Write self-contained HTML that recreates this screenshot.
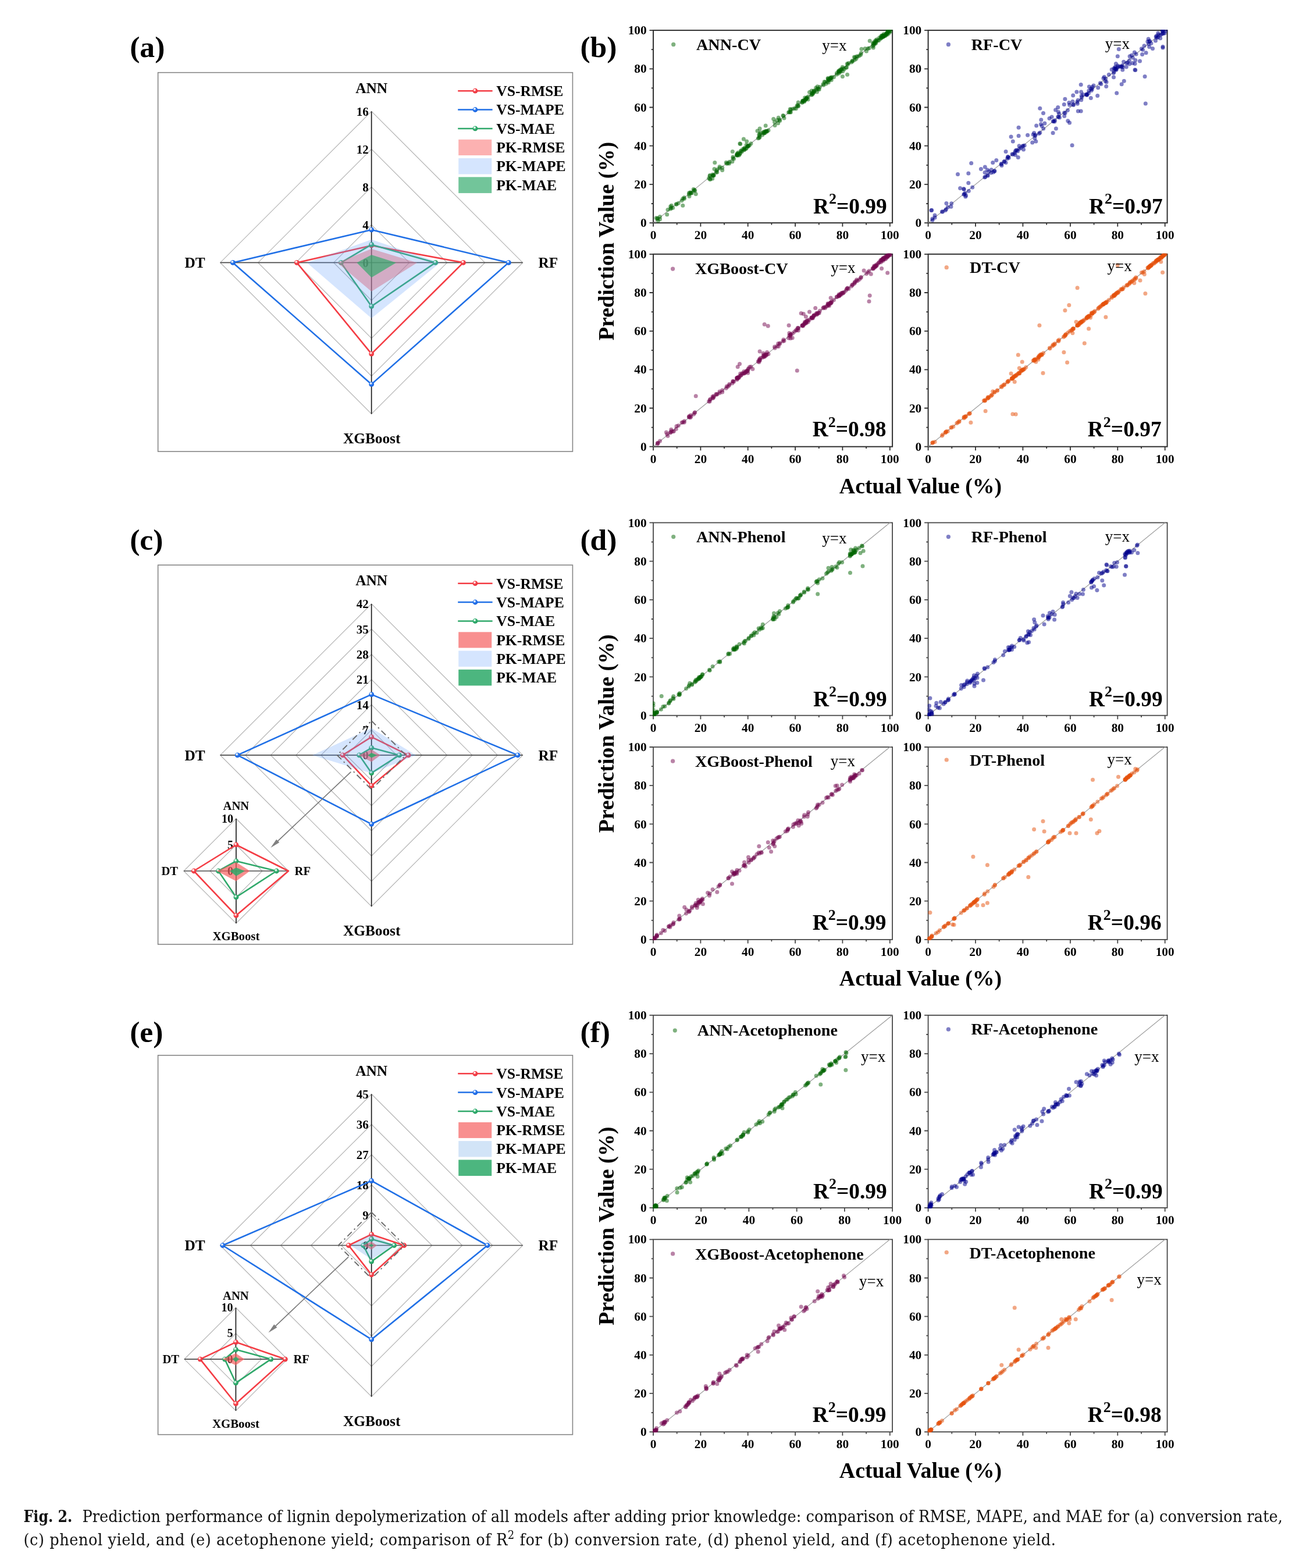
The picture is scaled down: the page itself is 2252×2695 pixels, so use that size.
<!DOCTYPE html>
<html lang="en"><head><meta charset="utf-8"><title>Fig. 2</title>
<style>html,body{margin:0;padding:0;background:#fff}svg{display:block}text{font-family:"Liberation Serif",serif;fill:#000}.cap{font-family:"DejaVu Serif Condensed","DejaVu Serif","Liberation Serif",serif;fill:#111}</style>
</head><body>
<svg width="2252" height="2695" viewBox="0 0 2252 2695">
<defs>
<radialGradient id="gred" cx="0.4" cy="0.36" r="0.62" fx="0.38" fy="0.33"><stop offset="0" stop-color="#ffffff"/><stop offset="0.18" stop-color="#ffffff" stop-opacity="0.85"/><stop offset="0.46" stop-color="#f6444c"/><stop offset="1" stop-color="#ea3640"/></radialGradient>
<radialGradient id="gblue" cx="0.4" cy="0.36" r="0.62" fx="0.38" fy="0.33"><stop offset="0" stop-color="#ffffff"/><stop offset="0.18" stop-color="#ffffff" stop-opacity="0.85"/><stop offset="0.46" stop-color="#2a78ee"/><stop offset="1" stop-color="#1762de"/></radialGradient>
<radialGradient id="ggreen" cx="0.4" cy="0.36" r="0.62" fx="0.38" fy="0.33"><stop offset="0" stop-color="#ffffff"/><stop offset="0.18" stop-color="#ffffff" stop-opacity="0.85"/><stop offset="0.46" stop-color="#36b274"/><stop offset="1" stop-color="#249c5e"/></radialGradient>
</defs>
<rect width="2252" height="2695" fill="#fff"/>
<rect x="271.6" y="124.7" width="712.8" height="651.3" fill="#fff" stroke="#858585" stroke-width="1.6"/>
<polygon points="638.6,386.4 703.6,451.4 638.6,516.4 573.6,451.4" fill="none" stroke="#b2b2b2" stroke-width="1.2"/>
<polygon points="638.6,321.4 768.6,451.4 638.6,581.4 508.6,451.4" fill="none" stroke="#b2b2b2" stroke-width="1.2"/>
<polygon points="638.6,256.4 833.6,451.4 638.6,646.4 443.6,451.4" fill="none" stroke="#b2b2b2" stroke-width="1.2"/>
<polygon points="638.6,191.4 898.6,451.4 638.6,711.4 378.6,451.4" fill="none" stroke="#b2b2b2" stroke-width="1.2"/>
<line x1="378.6" y1="451.4" x2="898.6" y2="451.4" stroke="#4a4a4a" stroke-width="1.6"/>
<line x1="638.6" y1="191.4" x2="638.6" y2="711.4" stroke="#111" stroke-width="1.6"/>
<text x="633.6" y="458.9" font-size="20.8" font-weight="bold" text-anchor="end">0</text>
<text x="633.6" y="393.9" font-size="20.8" font-weight="bold" text-anchor="end">4</text>
<text x="633.6" y="328.9" font-size="20.8" font-weight="bold" text-anchor="end">8</text>
<text x="633.6" y="263.9" font-size="20.8" font-weight="bold" text-anchor="end">12</text>
<text x="633.6" y="198.9" font-size="20.8" font-weight="bold" text-anchor="end">16</text>
<polygon points="638.6,422 796.4,451.4 638.6,608.1 510.3,451.4" fill="none" stroke="#f43c44" stroke-width="2.6" stroke-linejoin="round"/>
<circle cx="638.6" cy="422" r="4.4" fill="url(#gred)"/>
<circle cx="796.4" cy="451.4" r="4.4" fill="url(#gred)"/>
<circle cx="638.6" cy="608.1" r="4.4" fill="url(#gred)"/>
<circle cx="510.3" cy="451.4" r="4.4" fill="url(#gred)"/>
<polygon points="638.6,394.9 874.3,451.4 638.6,660.4 400.3,451.4" fill="none" stroke="#1f6fe6" stroke-width="2.6" stroke-linejoin="round"/>
<circle cx="638.6" cy="394.9" r="4.4" fill="url(#gblue)"/>
<circle cx="874.3" cy="451.4" r="4.4" fill="url(#gblue)"/>
<circle cx="638.6" cy="660.4" r="4.4" fill="url(#gblue)"/>
<circle cx="400.3" cy="451.4" r="4.4" fill="url(#gblue)"/>
<polygon points="638.6,420.4 748.6,451.4 638.6,526.4 586.3,451.4" fill="none" stroke="#2fa86a" stroke-width="2.6" stroke-linejoin="round"/>
<circle cx="638.6" cy="420.4" r="4.4" fill="url(#ggreen)"/>
<circle cx="748.6" cy="451.4" r="4.4" fill="url(#ggreen)"/>
<circle cx="638.6" cy="526.4" r="4.4" fill="url(#ggreen)"/>
<circle cx="586.3" cy="451.4" r="4.4" fill="url(#ggreen)"/>
<polygon points="638.6,427.8 717.1,451.4 638.6,500.9 579.9,451.4" fill="#fa6464" fill-opacity="0.5"/>
<polygon points="638.6,411.8 756.6,451.4 638.6,547.1 527.6,451.4" fill="#64a0fa" fill-opacity="0.27"/>
<polygon points="638.6,438 681,451.4 638.6,476.9 613.4,451.4" fill="#2faa6a" fill-opacity="0.68"/>
<text x="638.6" y="159.8" font-size="25.3" font-weight="bold" text-anchor="middle">ANN</text>
<text x="639.2" y="761.8" font-size="25.3" font-weight="bold" text-anchor="middle">XGBoost</text>
<text x="317.4" y="460.3" font-size="25.3" font-weight="bold" text-anchor="start">DT</text>
<text x="925.6" y="460.3" font-size="25.3" font-weight="bold" text-anchor="start">RF</text>
<text x="223.2" y="98.2" font-size="51.6" font-weight="bold" text-anchor="start">(a)</text>
<line x1="787.2" y1="156.2" x2="846.6" y2="156.2" stroke="#f43c44" stroke-width="2.5"/>
<circle cx="816.9" cy="156.2" r="4.4" fill="url(#gred)"/>
<text x="853.2" y="165.1" font-size="25.6" font-weight="bold" text-anchor="start">VS-RMSE</text>
<line x1="787.2" y1="188.5" x2="846.6" y2="188.5" stroke="#1f6fe6" stroke-width="2.5"/>
<circle cx="816.9" cy="188.5" r="4.4" fill="url(#gblue)"/>
<text x="853.2" y="197.4" font-size="25.6" font-weight="bold" text-anchor="start">VS-MAPE</text>
<line x1="787.2" y1="220.9" x2="846.6" y2="220.9" stroke="#2fa86a" stroke-width="2.5"/>
<circle cx="816.9" cy="220.9" r="4.4" fill="url(#ggreen)"/>
<text x="853.2" y="229.8" font-size="25.6" font-weight="bold" text-anchor="start">VS-MAE</text>
<rect x="788.2" y="239.8" width="57" height="27.2" fill="#fa6464" fill-opacity="0.5"/>
<text x="853.2" y="262" font-size="25.6" font-weight="bold" text-anchor="start">PK-RMSE</text>
<rect x="788.2" y="272" width="57" height="27.4" fill="#64a0fa" fill-opacity="0.27"/>
<text x="853.2" y="294.3" font-size="25.6" font-weight="bold" text-anchor="start">PK-MAPE</text>
<rect x="788.2" y="304.3" width="57" height="27.6" fill="#2faa6a" fill-opacity="0.68"/>
<text x="853.2" y="326.7" font-size="25.6" font-weight="bold" text-anchor="start">PK-MAE</text>
<rect x="271.6" y="971.2" width="712.8" height="651.9" fill="#fff" stroke="#858585" stroke-width="1.6"/>
<polygon points="638.6,1254.6 681.9,1297.9 638.6,1341.2 595.3,1297.9" fill="none" stroke="#b2b2b2" stroke-width="1.2"/>
<polygon points="638.6,1211.2 725.3,1297.9 638.6,1384.6 551.9,1297.9" fill="none" stroke="#b2b2b2" stroke-width="1.2"/>
<polygon points="638.6,1167.9 768.6,1297.9 638.6,1427.9 508.6,1297.9" fill="none" stroke="#b2b2b2" stroke-width="1.2"/>
<polygon points="638.6,1124.6 811.9,1297.9 638.6,1471.2 465.3,1297.9" fill="none" stroke="#b2b2b2" stroke-width="1.2"/>
<polygon points="638.6,1081.2 855.3,1297.9 638.6,1514.6 421.9,1297.9" fill="none" stroke="#b2b2b2" stroke-width="1.2"/>
<polygon points="638.6,1037.9 898.6,1297.9 638.6,1557.9 378.6,1297.9" fill="none" stroke="#b2b2b2" stroke-width="1.2"/>
<line x1="378.6" y1="1297.9" x2="898.6" y2="1297.9" stroke="#4a4a4a" stroke-width="1.6"/>
<line x1="638.6" y1="1037.9" x2="638.6" y2="1557.9" stroke="#111" stroke-width="1.6"/>
<text x="633.6" y="1305.4" font-size="20.8" font-weight="bold" text-anchor="end">0</text>
<text x="633.6" y="1262.1" font-size="20.8" font-weight="bold" text-anchor="end">7</text>
<text x="633.6" y="1218.7" font-size="20.8" font-weight="bold" text-anchor="end">14</text>
<text x="633.6" y="1175.4" font-size="20.8" font-weight="bold" text-anchor="end">21</text>
<text x="633.6" y="1132.1" font-size="20.8" font-weight="bold" text-anchor="end">28</text>
<text x="633.6" y="1088.7" font-size="20.8" font-weight="bold" text-anchor="end">35</text>
<text x="633.6" y="1045.4" font-size="20.8" font-weight="bold" text-anchor="end">42</text>
<polygon points="638.6,1266.6 702,1297.9 638.6,1350.5 589.2,1297.9" fill="none" stroke="#f43c44" stroke-width="2.6" stroke-linejoin="round"/>
<circle cx="638.6" cy="1266.6" r="4.4" fill="url(#gred)"/>
<circle cx="702" cy="1297.9" r="4.4" fill="url(#gred)"/>
<circle cx="638.6" cy="1350.5" r="4.4" fill="url(#gred)"/>
<circle cx="589.2" cy="1297.9" r="4.4" fill="url(#gred)"/>
<polygon points="638.6,1193.6 890,1297.9 638.6,1416.3 408.2,1297.9" fill="none" stroke="#1f6fe6" stroke-width="2.6" stroke-linejoin="round"/>
<circle cx="638.6" cy="1193.6" r="4.4" fill="url(#gblue)"/>
<circle cx="890" cy="1297.9" r="4.4" fill="url(#gblue)"/>
<circle cx="638.6" cy="1416.3" r="4.4" fill="url(#gblue)"/>
<circle cx="408.2" cy="1297.9" r="4.4" fill="url(#gblue)"/>
<polygon points="638.6,1285.3 686.5,1297.9 638.6,1328.6 617.6,1297.9" fill="none" stroke="#2fa86a" stroke-width="2.6" stroke-linejoin="round"/>
<circle cx="638.6" cy="1285.3" r="4.4" fill="url(#ggreen)"/>
<circle cx="686.5" cy="1297.9" r="4.4" fill="url(#ggreen)"/>
<circle cx="638.6" cy="1328.6" r="4.4" fill="url(#ggreen)"/>
<circle cx="617.6" cy="1297.9" r="4.4" fill="url(#ggreen)"/>
<polygon points="638.6,1288.1 654.1,1297.9 638.6,1309.5 616.7,1297.9" fill="#f56060" fill-opacity="0.7"/>
<polygon points="638.6,1251.6 715.2,1297.9 638.6,1328.9 536.8,1297.9" fill="#64a0fa" fill-opacity="0.27"/>
<polygon points="638.6,1293.9 648.2,1297.9 638.6,1302.6 632.2,1297.9" fill="#2faa6a" fill-opacity="0.86"/>
<polygon points="638.6,1238.9 697.6,1297.9 638.6,1356.9 579.6,1297.9" fill="none" stroke="#6a6a6a" stroke-width="1.9" stroke-dasharray="10.5 5.5 2.5 5.5"/>
<text x="638.6" y="1006.3" font-size="25.3" font-weight="bold" text-anchor="middle">ANN</text>
<text x="639.2" y="1608.3" font-size="25.3" font-weight="bold" text-anchor="middle">XGBoost</text>
<text x="317.4" y="1306.8" font-size="25.3" font-weight="bold" text-anchor="start">DT</text>
<text x="925.6" y="1306.8" font-size="25.3" font-weight="bold" text-anchor="start">RF</text>
<text x="223.2" y="944.8" font-size="51.6" font-weight="bold" text-anchor="start">(c)</text>
<line x1="787.2" y1="1002.7" x2="846.6" y2="1002.7" stroke="#f43c44" stroke-width="2.5"/>
<circle cx="816.9" cy="1002.7" r="4.4" fill="url(#gred)"/>
<text x="853.2" y="1011.6" font-size="25.6" font-weight="bold" text-anchor="start">VS-RMSE</text>
<line x1="787.2" y1="1035" x2="846.6" y2="1035" stroke="#1f6fe6" stroke-width="2.5"/>
<circle cx="816.9" cy="1035" r="4.4" fill="url(#gblue)"/>
<text x="853.2" y="1043.9" font-size="25.6" font-weight="bold" text-anchor="start">VS-MAPE</text>
<line x1="787.2" y1="1067.4" x2="846.6" y2="1067.4" stroke="#2fa86a" stroke-width="2.5"/>
<circle cx="816.9" cy="1067.4" r="4.4" fill="url(#ggreen)"/>
<text x="853.2" y="1076.3" font-size="25.6" font-weight="bold" text-anchor="start">VS-MAE</text>
<rect x="788.2" y="1086.3" width="57" height="27.2" fill="#f56060" fill-opacity="0.7"/>
<text x="853.2" y="1108.5" font-size="25.6" font-weight="bold" text-anchor="start">PK-RMSE</text>
<rect x="788.2" y="1118.5" width="57" height="27.4" fill="#64a0fa" fill-opacity="0.27"/>
<text x="853.2" y="1140.8" font-size="25.6" font-weight="bold" text-anchor="start">PK-MAPE</text>
<rect x="788.2" y="1150.8" width="57" height="27.6" fill="#2faa6a" fill-opacity="0.86"/>
<text x="853.2" y="1173.2" font-size="25.6" font-weight="bold" text-anchor="start">PK-MAE</text>
<polygon points="405.9,1452 450.9,1497 405.9,1542 360.9,1497" fill="none" stroke="#b2b2b2" stroke-width="1.2"/>
<polygon points="405.9,1407 495.9,1497 405.9,1587 315.9,1497" fill="none" stroke="#b2b2b2" stroke-width="1.2"/>
<line x1="315.9" y1="1497" x2="495.9" y2="1497" stroke="#4a4a4a" stroke-width="1.6"/>
<line x1="405.9" y1="1407" x2="405.9" y2="1587" stroke="#111" stroke-width="1.6"/>
<text x="400.9" y="1503.6" font-size="20" font-weight="bold" text-anchor="end">0</text>
<text x="400.9" y="1458.6" font-size="20" font-weight="bold" text-anchor="end">5</text>
<text x="400.9" y="1413.6" font-size="20" font-weight="bold" text-anchor="end">10</text>
<polygon points="405.9,1452 495.9,1497 405.9,1573.5 333.2,1497" fill="none" stroke="#f43c44" stroke-width="2.6" stroke-linejoin="round"/>
<circle cx="405.9" cy="1452" r="4.4" fill="url(#gred)"/>
<circle cx="405.9" cy="1573.5" r="4.4" fill="url(#gred)"/>
<circle cx="333.2" cy="1497" r="4.4" fill="url(#gred)"/>
<polygon points="405.9,1480 475.4,1497 405.9,1542 375.4,1497" fill="none" stroke="#2fa86a" stroke-width="2.6" stroke-linejoin="round"/>
<circle cx="405.9" cy="1480" r="4.4" fill="url(#ggreen)"/>
<circle cx="475.4" cy="1497" r="4.4" fill="url(#ggreen)"/>
<circle cx="405.9" cy="1542" r="4.4" fill="url(#ggreen)"/>
<circle cx="375.4" cy="1497" r="4.4" fill="url(#ggreen)"/>
<polygon points="405.9,1482 429.6,1497 405.9,1514.5 372.9,1497" fill="#f56060" fill-opacity="0.7"/>
<polygon points="405.9,1491.2 420.9,1497 405.9,1505.8 395.3,1497" fill="#2faa6a" fill-opacity="0.86"/>
<text x="405.9" y="1392.1" font-size="20.6" font-weight="bold" text-anchor="middle">ANN</text>
<text x="405.9" y="1615.9" font-size="20.8" font-weight="bold" text-anchor="middle">XGBoost</text>
<text x="277.5" y="1504.3" font-size="20.6" font-weight="bold" text-anchor="start">DT</text>
<text x="506.6" y="1504.3" font-size="20.6" font-weight="bold" text-anchor="start">RF</text>
<line x1="603.3" y1="1326.6" x2="476.2" y2="1446.8" stroke="#757575" stroke-width="1.6"/>
<polygon points="465.3,1457.1 475.1,1442.7 480.2,1448.1" fill="#808080"/>
<rect x="271.6" y="1813.8" width="712.8" height="651.9" fill="#fff" stroke="#858585" stroke-width="1.6"/>
<polygon points="638.6,2088.5 690.6,2140.5 638.6,2192.5 586.6,2140.5" fill="none" stroke="#b2b2b2" stroke-width="1.2"/>
<polygon points="638.6,2036.5 742.6,2140.5 638.6,2244.5 534.6,2140.5" fill="none" stroke="#b2b2b2" stroke-width="1.2"/>
<polygon points="638.6,1984.5 794.6,2140.5 638.6,2296.5 482.6,2140.5" fill="none" stroke="#b2b2b2" stroke-width="1.2"/>
<polygon points="638.6,1932.5 846.6,2140.5 638.6,2348.5 430.6,2140.5" fill="none" stroke="#b2b2b2" stroke-width="1.2"/>
<polygon points="638.6,1880.5 898.6,2140.5 638.6,2400.5 378.6,2140.5" fill="none" stroke="#b2b2b2" stroke-width="1.2"/>
<line x1="378.6" y1="2140.5" x2="898.6" y2="2140.5" stroke="#4a4a4a" stroke-width="1.6"/>
<line x1="638.6" y1="1880.5" x2="638.6" y2="2400.5" stroke="#111" stroke-width="1.6"/>
<text x="633.6" y="2148" font-size="20.8" font-weight="bold" text-anchor="end">0</text>
<text x="633.6" y="2096" font-size="20.8" font-weight="bold" text-anchor="end">9</text>
<text x="633.6" y="2044" font-size="20.8" font-weight="bold" text-anchor="end">18</text>
<text x="633.6" y="1992" font-size="20.8" font-weight="bold" text-anchor="end">27</text>
<text x="633.6" y="1940" font-size="20.8" font-weight="bold" text-anchor="end">36</text>
<text x="633.6" y="1888" font-size="20.8" font-weight="bold" text-anchor="end">45</text>
<polygon points="638.6,2121.7 694.7,2140.5 638.6,2190.9 599.3,2140.5" fill="none" stroke="#f43c44" stroke-width="2.6" stroke-linejoin="round"/>
<circle cx="638.6" cy="2121.7" r="4.4" fill="url(#gred)"/>
<circle cx="694.7" cy="2140.5" r="4.4" fill="url(#gred)"/>
<circle cx="638.6" cy="2190.9" r="4.4" fill="url(#gred)"/>
<circle cx="599.3" cy="2140.5" r="4.4" fill="url(#gred)"/>
<polygon points="638.6,2029.5 838,2140.5 638.6,2302.2 382.8,2140.5" fill="none" stroke="#1f6fe6" stroke-width="2.6" stroke-linejoin="round"/>
<circle cx="638.6" cy="2029.5" r="4.4" fill="url(#gblue)"/>
<circle cx="838" cy="2140.5" r="4.4" fill="url(#gblue)"/>
<circle cx="638.6" cy="2302.2" r="4.4" fill="url(#gblue)"/>
<circle cx="382.8" cy="2140.5" r="4.4" fill="url(#gblue)"/>
<polygon points="638.6,2129.7 677.6,2140.5 638.6,2168.1 624.6,2140.5" fill="none" stroke="#2fa86a" stroke-width="2.6" stroke-linejoin="round"/>
<circle cx="638.6" cy="2129.7" r="4.4" fill="url(#ggreen)"/>
<circle cx="677.6" cy="2140.5" r="4.4" fill="url(#ggreen)"/>
<circle cx="638.6" cy="2168.1" r="4.4" fill="url(#ggreen)"/>
<circle cx="624.6" cy="2140.5" r="4.4" fill="url(#ggreen)"/>
<polygon points="638.6,2134.1 648,2140.5 638.6,2147.8 623.8,2140.5" fill="#f56060" fill-opacity="0.7"/>
<polygon points="638.6,2121.5 677.6,2140.5 638.6,2164.5 602.6,2140.5" fill="#5a9ae0" fill-opacity="0.27"/>
<polygon points="638.6,2138 642.1,2140.5 638.6,2143.3 633.9,2140.5" fill="#2faa6a" fill-opacity="0.86"/>
<polygon points="638.6,2083.5 695.6,2140.5 638.6,2197.5 581.6,2140.5" fill="none" stroke="#6a6a6a" stroke-width="1.9" stroke-dasharray="10.5 5.5 2.5 5.5"/>
<text x="638.6" y="1848.9" font-size="25.3" font-weight="bold" text-anchor="middle">ANN</text>
<text x="639.2" y="2450.9" font-size="25.3" font-weight="bold" text-anchor="middle">XGBoost</text>
<text x="317.4" y="2149.4" font-size="25.3" font-weight="bold" text-anchor="start">DT</text>
<text x="925.6" y="2149.4" font-size="25.3" font-weight="bold" text-anchor="start">RF</text>
<text x="223.2" y="1791" font-size="51.6" font-weight="bold" text-anchor="start">(e)</text>
<line x1="787.2" y1="1845.3" x2="846.6" y2="1845.3" stroke="#f43c44" stroke-width="2.5"/>
<circle cx="816.9" cy="1845.3" r="4.4" fill="url(#gred)"/>
<text x="853.2" y="1854.2" font-size="25.6" font-weight="bold" text-anchor="start">VS-RMSE</text>
<line x1="787.2" y1="1877.6" x2="846.6" y2="1877.6" stroke="#1f6fe6" stroke-width="2.5"/>
<circle cx="816.9" cy="1877.6" r="4.4" fill="url(#gblue)"/>
<text x="853.2" y="1886.5" font-size="25.6" font-weight="bold" text-anchor="start">VS-MAPE</text>
<line x1="787.2" y1="1910" x2="846.6" y2="1910" stroke="#2fa86a" stroke-width="2.5"/>
<circle cx="816.9" cy="1910" r="4.4" fill="url(#ggreen)"/>
<text x="853.2" y="1918.9" font-size="25.6" font-weight="bold" text-anchor="start">VS-MAE</text>
<rect x="788.2" y="1928.9" width="57" height="27.2" fill="#f56060" fill-opacity="0.7"/>
<text x="853.2" y="1951.1" font-size="25.6" font-weight="bold" text-anchor="start">PK-RMSE</text>
<rect x="788.2" y="1961.1" width="57" height="27.4" fill="#5a9ae0" fill-opacity="0.27"/>
<text x="853.2" y="1983.4" font-size="25.6" font-weight="bold" text-anchor="start">PK-MAPE</text>
<rect x="788.2" y="1993.4" width="57" height="27.6" fill="#2faa6a" fill-opacity="0.86"/>
<text x="853.2" y="2015.8" font-size="25.6" font-weight="bold" text-anchor="start">PK-MAE</text>
<polygon points="405.4,2291.8 449.6,2336.1 405.4,2380.3 361.1,2336.1" fill="none" stroke="#b2b2b2" stroke-width="1.2"/>
<polygon points="405.4,2247.6 493.9,2336.1 405.4,2424.6 316.9,2336.1" fill="none" stroke="#b2b2b2" stroke-width="1.2"/>
<line x1="316.9" y1="2336.1" x2="493.9" y2="2336.1" stroke="#4a4a4a" stroke-width="1.6"/>
<line x1="405.4" y1="2247.6" x2="405.4" y2="2424.6" stroke="#111" stroke-width="1.6"/>
<text x="400.4" y="2342.7" font-size="20" font-weight="bold" text-anchor="end">0</text>
<text x="400.4" y="2298.4" font-size="20" font-weight="bold" text-anchor="end">5</text>
<text x="400.4" y="2254.2" font-size="20" font-weight="bold" text-anchor="end">10</text>
<polygon points="405.4,2306.8 490.3,2336.1 405.4,2412.5 344.1,2336.1" fill="none" stroke="#f43c44" stroke-width="2.6" stroke-linejoin="round"/>
<circle cx="405.4" cy="2306.8" r="4.4" fill="url(#gred)"/>
<circle cx="490.3" cy="2336.1" r="4.4" fill="url(#gred)"/>
<circle cx="405.4" cy="2412.5" r="4.4" fill="url(#gred)"/>
<circle cx="344.1" cy="2336.1" r="4.4" fill="url(#gred)"/>
<polygon points="405.4,2319.6 465.8,2336.1 405.4,2376.8 386.4,2336.1" fill="none" stroke="#2fa86a" stroke-width="2.6" stroke-linejoin="round"/>
<circle cx="405.4" cy="2319.6" r="4.4" fill="url(#ggreen)"/>
<circle cx="465.8" cy="2336.1" r="4.4" fill="url(#ggreen)"/>
<circle cx="405.4" cy="2376.8" r="4.4" fill="url(#ggreen)"/>
<circle cx="386.4" cy="2336.1" r="4.4" fill="url(#ggreen)"/>
<polygon points="405.4,2326.1 420.2,2336.1 405.4,2346.6 382.6,2336.1" fill="#f56060" fill-opacity="0.7"/>
<polygon points="405.4,2331.8 411.1,2336.1 405.4,2340.9 399.7,2336.1" fill="#2faa6a" fill-opacity="0.86"/>
<text x="405.4" y="2233.7" font-size="20.6" font-weight="bold" text-anchor="middle">ANN</text>
<text x="405.4" y="2453.6" font-size="20.8" font-weight="bold" text-anchor="middle">XGBoost</text>
<text x="279.4" y="2343.4" font-size="20.6" font-weight="bold" text-anchor="start">DT</text>
<text x="504.4" y="2343.4" font-size="20.6" font-weight="bold" text-anchor="start">RF</text>
<line x1="599" y1="2160.4" x2="472.3" y2="2280.3" stroke="#757575" stroke-width="1.6"/>
<polygon points="461.4,2290.6 471.2,2276.2 476.3,2281.6" fill="#808080"/>
<clipPath id="c000"><rect x="1122" y="51.1" width="413.1" height="333"/></clipPath>
<rect x="1123" y="52.1" width="411.1" height="331" fill="none" stroke="#303030" stroke-width="2"/>
<path d="M1123 383.1v6.5M1123 383.1h-6.5M1163.7 383.1v3.3M1123 350h-3.3M1204.4 383.1v6.5M1123 316.9h-6.5M1245 383.1v3.3M1123 283.8h-3.3M1285.7 383.1v6.5M1123 250.7h-6.5M1326.4 383.1v3.3M1123 217.6h-3.3M1367.1 383.1v6.5M1123 184.5h-6.5M1407.8 383.1v3.3M1123 151.4h-3.3M1448.4 383.1v6.5M1123 118.3h-6.5M1489.1 383.1v3.3M1123 85.2h-3.3M1529.8 383.1v6.5M1123 52.1h-6.5" stroke="#303030" stroke-width="1.8" fill="none"/>
<g clip-path="url(#c000)">
<line x1="1123" y1="383.1" x2="1537.9" y2="45.5" stroke="#959595" stroke-width="1.1"/>
<g fill="#006400" fill-opacity="0.5">
<circle cx="1130.3" cy="375.1" r="3.5"/>
<circle cx="1131.3" cy="379.4" r="3.5"/>
<circle cx="1134.5" cy="376.7" r="3.5"/>
<circle cx="1130.4" cy="376.1" r="3.5"/>
<circle cx="1152.6" cy="355" r="3.5"/>
<circle cx="1153.8" cy="357.4" r="3.5"/>
<circle cx="1148" cy="360.4" r="3.5"/>
<circle cx="1152.7" cy="358.9" r="3.5"/>
<circle cx="1154.3" cy="353.2" r="3.5"/>
<circle cx="1156.7" cy="357.3" r="3.5"/>
<circle cx="1146.7" cy="368.7" r="3.5"/>
<circle cx="1166.2" cy="349.2" r="3.5"/>
<circle cx="1163" cy="351" r="3.5"/>
<circle cx="1173.8" cy="341.5" r="3.5"/>
<circle cx="1172.1" cy="344.7" r="3.5"/>
<circle cx="1162.3" cy="351.1" r="3.5"/>
<circle cx="1176.4" cy="341.4" r="3.5"/>
<circle cx="1176.2" cy="339.4" r="3.5"/>
<circle cx="1194.7" cy="327.7" r="3.5"/>
<circle cx="1194" cy="326.4" r="3.5"/>
<circle cx="1186.6" cy="330.7" r="3.5"/>
<circle cx="1184.3" cy="334.1" r="3.5"/>
<circle cx="1192.6" cy="327.7" r="3.5"/>
<circle cx="1185" cy="337.6" r="3.5"/>
<circle cx="1187.1" cy="331.8" r="3.5"/>
<circle cx="1188" cy="331.9" r="3.5"/>
<circle cx="1184.5" cy="331.6" r="3.5"/>
<circle cx="1225.6" cy="301.7" r="3.5"/>
<circle cx="1224.9" cy="300" r="3.5"/>
<circle cx="1237" cy="286.5" r="3.5"/>
<circle cx="1227.3" cy="301.4" r="3.5"/>
<circle cx="1231" cy="296.3" r="3.5"/>
<circle cx="1226.7" cy="301.1" r="3.5"/>
<circle cx="1231.6" cy="293.8" r="3.5"/>
<circle cx="1225.4" cy="301.7" r="3.5"/>
<circle cx="1220.1" cy="302.6" r="3.5"/>
<circle cx="1241.7" cy="288.3" r="3.5"/>
<circle cx="1241.7" cy="292.4" r="3.5"/>
<circle cx="1237" cy="289.1" r="3.5"/>
<circle cx="1233" cy="291.4" r="3.5"/>
<circle cx="1221.2" cy="307.4" r="3.5"/>
<circle cx="1218.6" cy="306.4" r="3.5"/>
<circle cx="1220.4" cy="301.2" r="3.5"/>
<circle cx="1249.3" cy="281.2" r="3.5"/>
<circle cx="1258.9" cy="277.7" r="3.5"/>
<circle cx="1253.8" cy="278.2" r="3.5"/>
<circle cx="1260" cy="269.7" r="3.5"/>
<circle cx="1253.6" cy="280.9" r="3.5"/>
<circle cx="1261.6" cy="273.1" r="3.5"/>
<circle cx="1260" cy="272" r="3.5"/>
<circle cx="1248.3" cy="279.2" r="3.5"/>
<circle cx="1251.2" cy="280.8" r="3.5"/>
<circle cx="1282.1" cy="255.7" r="3.5"/>
<circle cx="1274" cy="260.1" r="3.5"/>
<circle cx="1283.3" cy="254.8" r="3.5"/>
<circle cx="1272.7" cy="263.4" r="3.5"/>
<circle cx="1266.7" cy="266" r="3.5"/>
<circle cx="1276.9" cy="256.5" r="3.5"/>
<circle cx="1279.6" cy="254.5" r="3.5"/>
<circle cx="1270.3" cy="266.9" r="3.5"/>
<circle cx="1267" cy="264.2" r="3.5"/>
<circle cx="1271.5" cy="265" r="3.5"/>
<circle cx="1283" cy="249.3" r="3.5"/>
<circle cx="1279.3" cy="255.6" r="3.5"/>
<circle cx="1267.5" cy="266.9" r="3.5"/>
<circle cx="1269.9" cy="265" r="3.5"/>
<circle cx="1267.2" cy="267" r="3.5"/>
<circle cx="1266.5" cy="266.6" r="3.5"/>
<circle cx="1280" cy="257.2" r="3.5"/>
<circle cx="1268.6" cy="264.1" r="3.5"/>
<circle cx="1275.6" cy="260.6" r="3.5"/>
<circle cx="1273.6" cy="259.1" r="3.5"/>
<circle cx="1268.9" cy="262.3" r="3.5"/>
<circle cx="1278.8" cy="257.8" r="3.5"/>
<circle cx="1285.2" cy="251" r="3.5"/>
<circle cx="1291" cy="246.8" r="3.5"/>
<circle cx="1285" cy="251.5" r="3.5"/>
<circle cx="1288.5" cy="249.7" r="3.5"/>
<circle cx="1286.1" cy="251.8" r="3.5"/>
<circle cx="1286.8" cy="250.3" r="3.5"/>
<circle cx="1315" cy="228.4" r="3.5"/>
<circle cx="1312.8" cy="228.9" r="3.5"/>
<circle cx="1306.1" cy="235.8" r="3.5"/>
<circle cx="1313.9" cy="228.7" r="3.5"/>
<circle cx="1304.8" cy="236.9" r="3.5"/>
<circle cx="1307.3" cy="227.8" r="3.5"/>
<circle cx="1313.5" cy="227" r="3.5"/>
<circle cx="1310.6" cy="231.9" r="3.5"/>
<circle cx="1303.3" cy="237.8" r="3.5"/>
<circle cx="1315.3" cy="225.8" r="3.5"/>
<circle cx="1304.8" cy="231.3" r="3.5"/>
<circle cx="1305.4" cy="233.7" r="3.5"/>
<circle cx="1312.4" cy="227" r="3.5"/>
<circle cx="1306.4" cy="230" r="3.5"/>
<circle cx="1318.6" cy="226" r="3.5"/>
<circle cx="1316.8" cy="225.5" r="3.5"/>
<circle cx="1317" cy="226.3" r="3.5"/>
<circle cx="1321" cy="224.1" r="3.5"/>
<circle cx="1318.2" cy="225.2" r="3.5"/>
<circle cx="1340.7" cy="207.5" r="3.5"/>
<circle cx="1336" cy="206.6" r="3.5"/>
<circle cx="1337.7" cy="211.8" r="3.5"/>
<circle cx="1348" cy="203" r="3.5"/>
<circle cx="1338.3" cy="202.3" r="3.5"/>
<circle cx="1340.1" cy="205.7" r="3.5"/>
<circle cx="1346" cy="198.5" r="3.5"/>
<circle cx="1332.1" cy="215.4" r="3.5"/>
<circle cx="1331.6" cy="209.7" r="3.5"/>
<circle cx="1346.9" cy="199.3" r="3.5"/>
<circle cx="1369.8" cy="182.4" r="3.5"/>
<circle cx="1359.4" cy="188.4" r="3.5"/>
<circle cx="1358.3" cy="187.4" r="3.5"/>
<circle cx="1368.4" cy="186.8" r="3.5"/>
<circle cx="1372.1" cy="182.8" r="3.5"/>
<circle cx="1358.5" cy="192.6" r="3.5"/>
<circle cx="1372.3" cy="176.1" r="3.5"/>
<circle cx="1371" cy="180.4" r="3.5"/>
<circle cx="1365.9" cy="186.2" r="3.5"/>
<circle cx="1362.6" cy="187.3" r="3.5"/>
<circle cx="1356.8" cy="192.7" r="3.5"/>
<circle cx="1355.6" cy="192.9" r="3.5"/>
<circle cx="1372.5" cy="181.8" r="3.5"/>
<circle cx="1359.2" cy="192.9" r="3.5"/>
<circle cx="1399.1" cy="156.5" r="3.5"/>
<circle cx="1386" cy="169.6" r="3.5"/>
<circle cx="1402.6" cy="151.1" r="3.5"/>
<circle cx="1395.9" cy="162.7" r="3.5"/>
<circle cx="1387.1" cy="167.8" r="3.5"/>
<circle cx="1383.6" cy="167.9" r="3.5"/>
<circle cx="1399.6" cy="157.8" r="3.5"/>
<circle cx="1380.5" cy="173.1" r="3.5"/>
<circle cx="1385.1" cy="170.2" r="3.5"/>
<circle cx="1394.9" cy="162.9" r="3.5"/>
<circle cx="1403.4" cy="154.4" r="3.5"/>
<circle cx="1396.5" cy="160.6" r="3.5"/>
<circle cx="1386.7" cy="169.6" r="3.5"/>
<circle cx="1405.3" cy="148.8" r="3.5"/>
<circle cx="1384.5" cy="171.3" r="3.5"/>
<circle cx="1379" cy="175.8" r="3.5"/>
<circle cx="1386.4" cy="168.7" r="3.5"/>
<circle cx="1391.5" cy="158.5" r="3.5"/>
<circle cx="1380.3" cy="173.4" r="3.5"/>
<circle cx="1383.6" cy="172.8" r="3.5"/>
<circle cx="1389.3" cy="165.9" r="3.5"/>
<circle cx="1395.2" cy="156" r="3.5"/>
<circle cx="1382.3" cy="173.2" r="3.5"/>
<circle cx="1389.1" cy="171" r="3.5"/>
<circle cx="1404.5" cy="158.1" r="3.5"/>
<circle cx="1407.2" cy="152.8" r="3.5"/>
<circle cx="1397.7" cy="161" r="3.5"/>
<circle cx="1398.7" cy="158.7" r="3.5"/>
<circle cx="1395.6" cy="160.4" r="3.5"/>
<circle cx="1382.6" cy="174.8" r="3.5"/>
<circle cx="1379.5" cy="173.4" r="3.5"/>
<circle cx="1379" cy="176.2" r="3.5"/>
<circle cx="1405.1" cy="152.4" r="3.5"/>
<circle cx="1399" cy="155.9" r="3.5"/>
<circle cx="1429.3" cy="137.6" r="3.5"/>
<circle cx="1408.2" cy="153.8" r="3.5"/>
<circle cx="1422" cy="140.6" r="3.5"/>
<circle cx="1418.5" cy="141" r="3.5"/>
<circle cx="1424.1" cy="137.9" r="3.5"/>
<circle cx="1414.9" cy="144.8" r="3.5"/>
<circle cx="1430.1" cy="132.8" r="3.5"/>
<circle cx="1409.4" cy="149.4" r="3.5"/>
<circle cx="1420" cy="143.9" r="3.5"/>
<circle cx="1424.2" cy="141.8" r="3.5"/>
<circle cx="1427.9" cy="135" r="3.5"/>
<circle cx="1424.2" cy="136.2" r="3.5"/>
<circle cx="1423.5" cy="135.3" r="3.5"/>
<circle cx="1425.5" cy="137.4" r="3.5"/>
<circle cx="1428.2" cy="133.8" r="3.5"/>
<circle cx="1415.7" cy="146.2" r="3.5"/>
<circle cx="1423.1" cy="134.6" r="3.5"/>
<circle cx="1427.9" cy="133.2" r="3.5"/>
<circle cx="1427.2" cy="135.2" r="3.5"/>
<circle cx="1417.1" cy="140.4" r="3.5"/>
<circle cx="1445" cy="123.3" r="3.5"/>
<circle cx="1446.2" cy="119.1" r="3.5"/>
<circle cx="1441.5" cy="121.9" r="3.5"/>
<circle cx="1442.3" cy="124.1" r="3.5"/>
<circle cx="1438.4" cy="127.9" r="3.5"/>
<circle cx="1441.6" cy="122.9" r="3.5"/>
<circle cx="1442.1" cy="126" r="3.5"/>
<circle cx="1433.5" cy="132.5" r="3.5"/>
<circle cx="1442.6" cy="122.4" r="3.5"/>
<circle cx="1448.3" cy="115.3" r="3.5"/>
<circle cx="1446.5" cy="119.4" r="3.5"/>
<circle cx="1444" cy="120" r="3.5"/>
<circle cx="1438.5" cy="125.6" r="3.5"/>
<circle cx="1444.1" cy="122" r="3.5"/>
<circle cx="1468.5" cy="97.9" r="3.5"/>
<circle cx="1463.7" cy="107.1" r="3.5"/>
<circle cx="1477.4" cy="95.7" r="3.5"/>
<circle cx="1451.3" cy="119.1" r="3.5"/>
<circle cx="1474.4" cy="97.2" r="3.5"/>
<circle cx="1449.5" cy="117.6" r="3.5"/>
<circle cx="1469.2" cy="103" r="3.5"/>
<circle cx="1465.1" cy="104.4" r="3.5"/>
<circle cx="1456.4" cy="109.6" r="3.5"/>
<circle cx="1472.6" cy="97.1" r="3.5"/>
<circle cx="1465.6" cy="105.2" r="3.5"/>
<circle cx="1469.7" cy="98.7" r="3.5"/>
<circle cx="1480.3" cy="91.3" r="3.5"/>
<circle cx="1457.3" cy="110.7" r="3.5"/>
<circle cx="1448.8" cy="122.4" r="3.5"/>
<circle cx="1458.9" cy="108.6" r="3.5"/>
<circle cx="1471.9" cy="100.9" r="3.5"/>
<circle cx="1455.4" cy="116.1" r="3.5"/>
<circle cx="1454.3" cy="115.9" r="3.5"/>
<circle cx="1479.8" cy="94" r="3.5"/>
<circle cx="1491.8" cy="83.6" r="3.5"/>
<circle cx="1489.5" cy="88.1" r="3.5"/>
<circle cx="1494.1" cy="82.7" r="3.5"/>
<circle cx="1503.9" cy="73.6" r="3.5"/>
<circle cx="1510.8" cy="69.5" r="3.5"/>
<circle cx="1501.3" cy="75.4" r="3.5"/>
<circle cx="1506" cy="72.1" r="3.5"/>
<circle cx="1513.7" cy="66.4" r="3.5"/>
<circle cx="1515.8" cy="64.7" r="3.5"/>
<circle cx="1515.2" cy="61.6" r="3.5"/>
<circle cx="1505.1" cy="69.4" r="3.5"/>
<circle cx="1509.1" cy="69.6" r="3.5"/>
<circle cx="1503.7" cy="75.6" r="3.5"/>
<circle cx="1500" cy="79.2" r="3.5"/>
<circle cx="1507.3" cy="67.8" r="3.5"/>
<circle cx="1514.3" cy="65.2" r="3.5"/>
<circle cx="1514.5" cy="63.6" r="3.5"/>
<circle cx="1511.7" cy="64.7" r="3.5"/>
<circle cx="1516.6" cy="60.9" r="3.5"/>
<circle cx="1502.9" cy="74.4" r="3.5"/>
<circle cx="1500.7" cy="74.2" r="3.5"/>
<circle cx="1506.4" cy="70.3" r="3.5"/>
<circle cx="1502.9" cy="71.9" r="3.5"/>
<circle cx="1501.6" cy="78.2" r="3.5"/>
<circle cx="1505.7" cy="74.2" r="3.5"/>
<circle cx="1526" cy="56.9" r="3.5"/>
<circle cx="1524.2" cy="57.1" r="3.5"/>
<circle cx="1521.8" cy="60.1" r="3.5"/>
<circle cx="1528.9" cy="56.3" r="3.5"/>
<circle cx="1530.8" cy="53.7" r="3.5"/>
<circle cx="1523.7" cy="57.8" r="3.5"/>
<circle cx="1518.6" cy="63.1" r="3.5"/>
<circle cx="1518" cy="62.6" r="3.5"/>
<circle cx="1529.3" cy="52.1" r="3.5"/>
<circle cx="1518.2" cy="62.6" r="3.5"/>
<circle cx="1527.1" cy="50.7" r="3.5"/>
<circle cx="1525.2" cy="56.6" r="3.5"/>
<circle cx="1521.7" cy="61.5" r="3.5"/>
<circle cx="1528.2" cy="53.4" r="3.5"/>
<circle cx="1517.8" cy="63.5" r="3.5"/>
<circle cx="1519.4" cy="58.5" r="3.5"/>
<circle cx="1523.7" cy="58.8" r="3.5"/>
<circle cx="1517.9" cy="61.2" r="3.5"/>
<circle cx="1528.7" cy="54" r="3.5"/>
<circle cx="1520.8" cy="61.7" r="3.5"/>
<circle cx="1519.5" cy="60.4" r="3.5"/>
<circle cx="1518.2" cy="61.3" r="3.5"/>
<circle cx="1526.1" cy="52.2" r="3.5"/>
<circle cx="1523.6" cy="59.9" r="3.5"/>
<circle cx="1526.1" cy="59.1" r="3.5"/>
<circle cx="1526.4" cy="53.9" r="3.5"/>
<circle cx="1228.8" cy="279.5" r="3.5"/>
<circle cx="1278.4" cy="239.1" r="3.5"/>
<circle cx="1283.7" cy="243.1" r="3.5"/>
<circle cx="1272.7" cy="247.4" r="3.5"/>
<circle cx="1271.9" cy="246.7" r="3.5"/>
<circle cx="1302" cy="224.9" r="3.5"/>
<circle cx="1306.1" cy="220.9" r="3.5"/>
<circle cx="1316.2" cy="215.9" r="3.5"/>
<circle cx="1329.7" cy="204.4" r="3.5"/>
<circle cx="1173.8" cy="353.3" r="3.5"/>
<circle cx="1196.2" cy="333.5" r="3.5"/>
<circle cx="1192.2" cy="325.2" r="3.5"/>
<circle cx="1189.3" cy="331.8" r="3.5"/>
<circle cx="1448.4" cy="131.5" r="3.5"/>
<circle cx="1456.6" cy="128.2" r="3.5"/>
<circle cx="1259.3" cy="260.6" r="3.5"/>
<circle cx="1228" cy="290.4" r="3.5"/>
<circle cx="1232.8" cy="296" r="3.5"/>
<circle cx="1220.6" cy="308.6" r="3.5"/>
<circle cx="1224.7" cy="307" r="3.5"/>
<circle cx="1481" cy="84.2" r="3.5"/>
<circle cx="1487.1" cy="83.5" r="3.5"/>
<circle cx="1495.2" cy="70.3" r="3.5"/>
<circle cx="1501.3" cy="81.9" r="3.5"/>
<circle cx="1127.9" cy="374.8" r="3.5"/>
<circle cx="1134.4" cy="372.5" r="3.5"/>
</g></g>
<text x="1123" y="411" font-size="21.3" font-weight="bold" text-anchor="middle">0</text>
<text x="1111.6" y="390.2" font-size="21.3" font-weight="bold" text-anchor="end">0</text>
<text x="1204.4" y="411" font-size="21.3" font-weight="bold" text-anchor="middle">20</text>
<text x="1111.6" y="324" font-size="21.3" font-weight="bold" text-anchor="end">20</text>
<text x="1285.7" y="411" font-size="21.3" font-weight="bold" text-anchor="middle">40</text>
<text x="1111.6" y="257.8" font-size="21.3" font-weight="bold" text-anchor="end">40</text>
<text x="1367.1" y="411" font-size="21.3" font-weight="bold" text-anchor="middle">60</text>
<text x="1111.6" y="191.6" font-size="21.3" font-weight="bold" text-anchor="end">60</text>
<text x="1448.4" y="411" font-size="21.3" font-weight="bold" text-anchor="middle">80</text>
<text x="1111.6" y="125.4" font-size="21.3" font-weight="bold" text-anchor="end">80</text>
<text x="1529.8" y="411" font-size="21.3" font-weight="bold" text-anchor="middle">100</text>
<text x="1111.6" y="59.2" font-size="21.3" font-weight="bold" text-anchor="end">100</text>
<circle cx="1157.7" cy="76.4" r="3.6" fill="#006400" fill-opacity="0.5"/>
<text x="1197" y="85.6" font-size="28.2" font-weight="bold" text-anchor="start">ANN-CV</text>
<text x="1413.3" y="87" font-size="27" font-weight="normal" text-anchor="start">y=x</text>
<text x="1524.7" y="367.2" font-size="37.4" font-weight="bold" text-anchor="end">R<tspan font-size="26" dy="-16.8">2</tspan><tspan dy="16.8">=0.99</tspan></text>
<clipPath id="c010"><rect x="1594.6" y="51.1" width="413" height="333"/></clipPath>
<rect x="1595.6" y="52.1" width="411" height="331" fill="none" stroke="#303030" stroke-width="2"/>
<path d="M1595.6 383.1v6.5M1595.6 383.1h-6.5M1636.3 383.1v3.3M1595.6 350h-3.3M1677 383.1v6.5M1595.6 316.9h-6.5M1717.7 383.1v3.3M1595.6 283.8h-3.3M1758.4 383.1v6.5M1595.6 250.7h-6.5M1799.2 383.1v3.3M1595.6 217.6h-3.3M1839.9 383.1v6.5M1595.6 184.5h-6.5M1880.6 383.1v3.3M1595.6 151.4h-3.3M1921.3 383.1v6.5M1595.6 118.3h-6.5M1962 383.1v3.3M1595.6 85.2h-3.3M2002.7 383.1v6.5M1595.6 52.1h-6.5" stroke="#303030" stroke-width="1.8" fill="none"/>
<g clip-path="url(#c010)">
<line x1="1595.6" y1="383.1" x2="2010.8" y2="45.5" stroke="#959595" stroke-width="1.1"/>
<g fill="#00008b" fill-opacity="0.5">
<circle cx="1602.9" cy="376.1" r="3.5"/>
<circle cx="1607.1" cy="374.1" r="3.5"/>
<circle cx="1603" cy="378.4" r="3.5"/>
<circle cx="1625.2" cy="361.5" r="3.5"/>
<circle cx="1626.4" cy="359.8" r="3.5"/>
<circle cx="1620.6" cy="363.7" r="3.5"/>
<circle cx="1626.9" cy="349.5" r="3.5"/>
<circle cx="1629.3" cy="356" r="3.5"/>
<circle cx="1619.3" cy="363.9" r="3.5"/>
<circle cx="1635.7" cy="349.7" r="3.5"/>
<circle cx="1634.9" cy="355.3" r="3.5"/>
<circle cx="1659.2" cy="332.1" r="3.5"/>
<circle cx="1656.9" cy="334.2" r="3.5"/>
<circle cx="1665.3" cy="328.3" r="3.5"/>
<circle cx="1657.6" cy="333.4" r="3.5"/>
<circle cx="1659.8" cy="338.1" r="3.5"/>
<circle cx="1660.6" cy="335.9" r="3.5"/>
<circle cx="1657.2" cy="325.6" r="3.5"/>
<circle cx="1697.6" cy="300.9" r="3.5"/>
<circle cx="1709.7" cy="293.9" r="3.5"/>
<circle cx="1700" cy="294.8" r="3.5"/>
<circle cx="1703.6" cy="297" r="3.5"/>
<circle cx="1704.3" cy="291.7" r="3.5"/>
<circle cx="1698.1" cy="301.9" r="3.5"/>
<circle cx="1692.7" cy="304.8" r="3.5"/>
<circle cx="1709.7" cy="294.1" r="3.5"/>
<circle cx="1693.8" cy="304.1" r="3.5"/>
<circle cx="1693.1" cy="296.6" r="3.5"/>
<circle cx="1722" cy="284.4" r="3.5"/>
<circle cx="1731.6" cy="272.6" r="3.5"/>
<circle cx="1726.5" cy="277.5" r="3.5"/>
<circle cx="1732.7" cy="269.5" r="3.5"/>
<circle cx="1726.3" cy="277.7" r="3.5"/>
<circle cx="1734.3" cy="271.3" r="3.5"/>
<circle cx="1732.7" cy="269.8" r="3.5"/>
<circle cx="1721" cy="282.3" r="3.5"/>
<circle cx="1754.8" cy="254" r="3.5"/>
<circle cx="1746.7" cy="257.9" r="3.5"/>
<circle cx="1745.4" cy="259.8" r="3.5"/>
<circle cx="1749.6" cy="259.8" r="3.5"/>
<circle cx="1752.3" cy="255.8" r="3.5"/>
<circle cx="1744.2" cy="263.1" r="3.5"/>
<circle cx="1752" cy="250.7" r="3.5"/>
<circle cx="1739.9" cy="264.9" r="3.5"/>
<circle cx="1741.3" cy="265.3" r="3.5"/>
<circle cx="1748.3" cy="258.3" r="3.5"/>
<circle cx="1757.9" cy="251.2" r="3.5"/>
<circle cx="1761.2" cy="250.1" r="3.5"/>
<circle cx="1758.8" cy="250.8" r="3.5"/>
<circle cx="1759.5" cy="257" r="3.5"/>
<circle cx="1787.8" cy="227.9" r="3.5"/>
<circle cx="1778.8" cy="237.7" r="3.5"/>
<circle cx="1780" cy="231.9" r="3.5"/>
<circle cx="1786.2" cy="229.4" r="3.5"/>
<circle cx="1776.1" cy="231.2" r="3.5"/>
<circle cx="1777.6" cy="228.6" r="3.5"/>
<circle cx="1779.2" cy="233.2" r="3.5"/>
<circle cx="1793.7" cy="221.1" r="3.5"/>
<circle cx="1791" cy="216.6" r="3.5"/>
<circle cx="1813.4" cy="206.8" r="3.5"/>
<circle cx="1810.4" cy="208.5" r="3.5"/>
<circle cx="1820.7" cy="195.7" r="3.5"/>
<circle cx="1811" cy="208.6" r="3.5"/>
<circle cx="1812.9" cy="208.9" r="3.5"/>
<circle cx="1818.8" cy="200.7" r="3.5"/>
<circle cx="1819.7" cy="200.9" r="3.5"/>
<circle cx="1831.2" cy="194.3" r="3.5"/>
<circle cx="1845.1" cy="179.6" r="3.5"/>
<circle cx="1838.7" cy="180.2" r="3.5"/>
<circle cx="1835.4" cy="189.4" r="3.5"/>
<circle cx="1829.6" cy="193.8" r="3.5"/>
<circle cx="1845.3" cy="180.6" r="3.5"/>
<circle cx="1858.8" cy="171.8" r="3.5"/>
<circle cx="1875.4" cy="152.6" r="3.5"/>
<circle cx="1868.7" cy="163.3" r="3.5"/>
<circle cx="1872.4" cy="148.9" r="3.5"/>
<circle cx="1867.7" cy="162.2" r="3.5"/>
<circle cx="1876.3" cy="155.4" r="3.5"/>
<circle cx="1859.5" cy="167.4" r="3.5"/>
<circle cx="1859.2" cy="164.5" r="3.5"/>
<circle cx="1853.1" cy="172.3" r="3.5"/>
<circle cx="1862.1" cy="162.4" r="3.5"/>
<circle cx="1868" cy="162.9" r="3.5"/>
<circle cx="1877.4" cy="153" r="3.5"/>
<circle cx="1880" cy="146.9" r="3.5"/>
<circle cx="1871.5" cy="160" r="3.5"/>
<circle cx="1868.4" cy="162" r="3.5"/>
<circle cx="1852.3" cy="178.2" r="3.5"/>
<circle cx="1851.8" cy="175.3" r="3.5"/>
<circle cx="1877.9" cy="149.5" r="3.5"/>
<circle cx="1871.8" cy="156" r="3.5"/>
<circle cx="1902.1" cy="141.1" r="3.5"/>
<circle cx="1891.4" cy="142.8" r="3.5"/>
<circle cx="1896.9" cy="134.6" r="3.5"/>
<circle cx="1887.7" cy="150.8" r="3.5"/>
<circle cx="1892.8" cy="144.6" r="3.5"/>
<circle cx="1898.3" cy="132.2" r="3.5"/>
<circle cx="1900.7" cy="135.3" r="3.5"/>
<circle cx="1900.1" cy="139.3" r="3.5"/>
<circle cx="1917.9" cy="119.6" r="3.5"/>
<circle cx="1919" cy="120.1" r="3.5"/>
<circle cx="1914.3" cy="125.4" r="3.5"/>
<circle cx="1915.2" cy="123.6" r="3.5"/>
<circle cx="1911.2" cy="119.5" r="3.5"/>
<circle cx="1914.5" cy="132.7" r="3.5"/>
<circle cx="1914.9" cy="117.4" r="3.5"/>
<circle cx="1906.3" cy="128.3" r="3.5"/>
<circle cx="1921.2" cy="115.6" r="3.5"/>
<circle cx="1919.3" cy="118.2" r="3.5"/>
<circle cx="1916.8" cy="118.3" r="3.5"/>
<circle cx="1917" cy="117" r="3.5"/>
<circle cx="1941.4" cy="104" r="3.5"/>
<circle cx="1936.5" cy="108.6" r="3.5"/>
<circle cx="1950.3" cy="89.9" r="3.5"/>
<circle cx="1924.2" cy="114.5" r="3.5"/>
<circle cx="1947.3" cy="99.1" r="3.5"/>
<circle cx="1942.1" cy="96.7" r="3.5"/>
<circle cx="1929.3" cy="112.5" r="3.5"/>
<circle cx="1945.5" cy="95.1" r="3.5"/>
<circle cx="1938.5" cy="107.5" r="3.5"/>
<circle cx="1953.1" cy="93" r="3.5"/>
<circle cx="1930.1" cy="115.6" r="3.5"/>
<circle cx="1921.7" cy="113.1" r="3.5"/>
<circle cx="1931.7" cy="106.3" r="3.5"/>
<circle cx="1928.3" cy="114.5" r="3.5"/>
<circle cx="1927.1" cy="114.6" r="3.5"/>
<circle cx="1964.6" cy="85.4" r="3.5"/>
<circle cx="1962.4" cy="83.8" r="3.5"/>
<circle cx="1967" cy="78.7" r="3.5"/>
<circle cx="1974.2" cy="67" r="3.5"/>
<circle cx="1978.9" cy="74.5" r="3.5"/>
<circle cx="1986.5" cy="69.9" r="3.5"/>
<circle cx="1988.7" cy="64.8" r="3.5"/>
<circle cx="1988" cy="61.8" r="3.5"/>
<circle cx="1976.6" cy="70.8" r="3.5"/>
<circle cx="1972.9" cy="71.4" r="3.5"/>
<circle cx="1987.2" cy="63.2" r="3.5"/>
<circle cx="1975.7" cy="80.4" r="3.5"/>
<circle cx="1975.7" cy="70.9" r="3.5"/>
<circle cx="1974.5" cy="75.7" r="3.5"/>
<circle cx="1998.9" cy="53.3" r="3.5"/>
<circle cx="1997.1" cy="58.7" r="3.5"/>
<circle cx="1994.7" cy="65.7" r="3.5"/>
<circle cx="2003.7" cy="53.1" r="3.5"/>
<circle cx="1991.5" cy="59.8" r="3.5"/>
<circle cx="2002.2" cy="57.1" r="3.5"/>
<circle cx="2000" cy="57.4" r="3.5"/>
<circle cx="1998.1" cy="53.2" r="3.5"/>
<circle cx="1994.6" cy="60.6" r="3.5"/>
<circle cx="1990.7" cy="63.9" r="3.5"/>
<circle cx="1990.8" cy="57.1" r="3.5"/>
<circle cx="1999" cy="51.2" r="3.5"/>
<circle cx="1999" cy="57" r="3.5"/>
<circle cx="1999.3" cy="50.1" r="3.5"/>
<circle cx="1600.9" cy="361.6" r="3.5"/>
<circle cx="1601.7" cy="361.3" r="3.5"/>
<circle cx="1607" cy="369.9" r="3.5"/>
<circle cx="1646.5" cy="299.4" r="3.5"/>
<circle cx="1664.8" cy="298" r="3.5"/>
<circle cx="1669.7" cy="280.5" r="3.5"/>
<circle cx="1664.8" cy="314.6" r="3.5"/>
<circle cx="1650.6" cy="323.5" r="3.5"/>
<circle cx="1656.7" cy="324.5" r="3.5"/>
<circle cx="1671.7" cy="321.9" r="3.5"/>
<circle cx="1686.4" cy="290.4" r="3.5"/>
<circle cx="1693.3" cy="287.1" r="3.5"/>
<circle cx="1697.4" cy="292.1" r="3.5"/>
<circle cx="1706.7" cy="279.5" r="3.5"/>
<circle cx="1712.8" cy="275.5" r="3.5"/>
<circle cx="1729.1" cy="260.6" r="3.5"/>
<circle cx="1738.1" cy="235.1" r="3.5"/>
<circle cx="1741.3" cy="243.1" r="3.5"/>
<circle cx="1751.1" cy="219.3" r="3.5"/>
<circle cx="1751.1" cy="233.5" r="3.5"/>
<circle cx="1766.6" cy="232.2" r="3.5"/>
<circle cx="1787.8" cy="186.2" r="3.5"/>
<circle cx="1793.5" cy="194.4" r="3.5"/>
<circle cx="1789.8" cy="206" r="3.5"/>
<circle cx="1781.6" cy="215.9" r="3.5"/>
<circle cx="1789.4" cy="213.6" r="3.5"/>
<circle cx="1795.9" cy="212" r="3.5"/>
<circle cx="1804" cy="203.4" r="3.5"/>
<circle cx="1808.1" cy="201.1" r="3.5"/>
<circle cx="1814.6" cy="189.1" r="3.5"/>
<circle cx="1818.7" cy="184.5" r="3.5"/>
<circle cx="1819.5" cy="192.4" r="3.5"/>
<circle cx="1830.9" cy="170.3" r="3.5"/>
<circle cx="1829.3" cy="179.5" r="3.5"/>
<circle cx="1837.8" cy="176.6" r="3.5"/>
<circle cx="1844.7" cy="164" r="3.5"/>
<circle cx="1843.9" cy="174.6" r="3.5"/>
<circle cx="1858.2" cy="145.4" r="3.5"/>
<circle cx="1850.9" cy="158" r="3.5"/>
<circle cx="1858.6" cy="158" r="3.5"/>
<circle cx="1810.1" cy="228.5" r="3.5"/>
<circle cx="1815.4" cy="220.9" r="3.5"/>
<circle cx="1835.8" cy="207.7" r="3.5"/>
<circle cx="1838.6" cy="211" r="3.5"/>
<circle cx="1829.7" cy="199.4" r="3.5"/>
<circle cx="1821.5" cy="202" r="3.5"/>
<circle cx="1843.1" cy="249.7" r="3.5"/>
<circle cx="1853.3" cy="191.1" r="3.5"/>
<circle cx="1858.2" cy="191.1" r="3.5"/>
<circle cx="1875.3" cy="168.6" r="3.5"/>
<circle cx="1886.7" cy="164.6" r="3.5"/>
<circle cx="1901.7" cy="148.4" r="3.5"/>
<circle cx="1919.7" cy="160" r="3.5"/>
<circle cx="1928.2" cy="144.8" r="3.5"/>
<circle cx="1932.3" cy="139.2" r="3.5"/>
<circle cx="1951.8" cy="120.6" r="3.5"/>
<circle cx="1951" cy="120" r="3.5"/>
<circle cx="1968.1" cy="131.5" r="3.5"/>
<circle cx="1969.3" cy="177.9" r="3.5"/>
<circle cx="1923.3" cy="84.5" r="3.5"/>
<circle cx="1921.3" cy="96.8" r="3.5"/>
<circle cx="1918.4" cy="109.4" r="3.5"/>
<circle cx="1917.2" cy="115" r="3.5"/>
<circle cx="1981.5" cy="83.5" r="3.5"/>
<circle cx="1999" cy="80.2" r="3.5"/>
<circle cx="1999" cy="81.9" r="3.5"/>
<circle cx="1959.5" cy="105.1" r="3.5"/>
<circle cx="1951.8" cy="103.4" r="3.5"/>
<circle cx="1951" cy="109.4" r="3.5"/>
<circle cx="1946.9" cy="108.4" r="3.5"/>
<circle cx="1941.6" cy="110" r="3.5"/>
<circle cx="1936.3" cy="115" r="3.5"/>
<circle cx="1929.8" cy="120" r="3.5"/>
<circle cx="1970.1" cy="90.8" r="3.5"/>
<circle cx="1963.6" cy="93.5" r="3.5"/>
<circle cx="1774.7" cy="245.1" r="3.5"/>
<circle cx="1780.8" cy="243.1" r="3.5"/>
<circle cx="1750.3" cy="270.6" r="3.5"/>
<circle cx="1745.4" cy="266.3" r="3.5"/>
<circle cx="1729.1" cy="279.5" r="3.5"/>
<circle cx="1721.8" cy="281.2" r="3.5"/>
<circle cx="1707.6" cy="296" r="3.5"/>
</g></g>
<text x="1595.6" y="411" font-size="21.3" font-weight="bold" text-anchor="middle">0</text>
<text x="1584.2" y="390.2" font-size="21.3" font-weight="bold" text-anchor="end">0</text>
<text x="1677" y="411" font-size="21.3" font-weight="bold" text-anchor="middle">20</text>
<text x="1584.2" y="324" font-size="21.3" font-weight="bold" text-anchor="end">20</text>
<text x="1758.4" y="411" font-size="21.3" font-weight="bold" text-anchor="middle">40</text>
<text x="1584.2" y="257.8" font-size="21.3" font-weight="bold" text-anchor="end">40</text>
<text x="1839.9" y="411" font-size="21.3" font-weight="bold" text-anchor="middle">60</text>
<text x="1584.2" y="191.6" font-size="21.3" font-weight="bold" text-anchor="end">60</text>
<text x="1921.3" y="411" font-size="21.3" font-weight="bold" text-anchor="middle">80</text>
<text x="1584.2" y="125.4" font-size="21.3" font-weight="bold" text-anchor="end">80</text>
<text x="2002.7" y="411" font-size="21.3" font-weight="bold" text-anchor="middle">100</text>
<text x="1584.2" y="59.2" font-size="21.3" font-weight="bold" text-anchor="end">100</text>
<circle cx="1630.4" cy="76.4" r="3.6" fill="#00008b" fill-opacity="0.5"/>
<text x="1669.7" y="85.6" font-size="28.2" font-weight="bold" text-anchor="start">RF-CV</text>
<text x="1899.8" y="83.7" font-size="27" font-weight="normal" text-anchor="start">y=x</text>
<text x="1998.7" y="367.2" font-size="37.4" font-weight="bold" text-anchor="end">R<tspan font-size="26" dy="-16.8">2</tspan><tspan dy="16.8">=0.97</tspan></text>
<clipPath id="c001"><rect x="1122" y="435.8" width="413.1" height="332.9"/></clipPath>
<rect x="1123" y="436.8" width="411.1" height="330.9" fill="none" stroke="#303030" stroke-width="2"/>
<path d="M1123 767.7v6.5M1123 767.7h-6.5M1163.7 767.7v3.3M1123 734.6h-3.3M1204.4 767.7v6.5M1123 701.5h-6.5M1245 767.7v3.3M1123 668.4h-3.3M1285.7 767.7v6.5M1123 635.3h-6.5M1326.4 767.7v3.3M1123 602.2h-3.3M1367.1 767.7v6.5M1123 569.2h-6.5M1407.8 767.7v3.3M1123 536.1h-3.3M1448.4 767.7v6.5M1123 503h-6.5M1489.1 767.7v3.3M1123 469.9h-3.3M1529.8 767.7v6.5M1123 436.8h-6.5" stroke="#303030" stroke-width="1.8" fill="none"/>
<g clip-path="url(#c001)">
<line x1="1123" y1="767.7" x2="1537.9" y2="430.2" stroke="#959595" stroke-width="1.1"/>
<g fill="#74084f" fill-opacity="0.5">
<circle cx="1130.3" cy="763" r="3.5"/>
<circle cx="1131.3" cy="761.3" r="3.5"/>
<circle cx="1134.5" cy="758.1" r="3.5"/>
<circle cx="1130.4" cy="761.6" r="3.5"/>
<circle cx="1152.6" cy="743.2" r="3.5"/>
<circle cx="1153.8" cy="738.2" r="3.5"/>
<circle cx="1148" cy="749.3" r="3.5"/>
<circle cx="1152.7" cy="743.3" r="3.5"/>
<circle cx="1154.3" cy="741.1" r="3.5"/>
<circle cx="1156.7" cy="741.6" r="3.5"/>
<circle cx="1146.7" cy="746.3" r="3.5"/>
<circle cx="1166.2" cy="731.6" r="3.5"/>
<circle cx="1163" cy="732.4" r="3.5"/>
<circle cx="1173.8" cy="725.8" r="3.5"/>
<circle cx="1172.1" cy="726.2" r="3.5"/>
<circle cx="1162.3" cy="737.3" r="3.5"/>
<circle cx="1176.4" cy="723.8" r="3.5"/>
<circle cx="1176.2" cy="725.9" r="3.5"/>
<circle cx="1194.7" cy="708.8" r="3.5"/>
<circle cx="1194" cy="709.5" r="3.5"/>
<circle cx="1186.6" cy="717.8" r="3.5"/>
<circle cx="1184.3" cy="717.1" r="3.5"/>
<circle cx="1192.6" cy="712" r="3.5"/>
<circle cx="1185" cy="716.4" r="3.5"/>
<circle cx="1187.1" cy="713.8" r="3.5"/>
<circle cx="1188" cy="716" r="3.5"/>
<circle cx="1184.5" cy="715.6" r="3.5"/>
<circle cx="1225.6" cy="684.3" r="3.5"/>
<circle cx="1224.9" cy="681.8" r="3.5"/>
<circle cx="1237" cy="675.6" r="3.5"/>
<circle cx="1227.3" cy="682.2" r="3.5"/>
<circle cx="1231" cy="677.3" r="3.5"/>
<circle cx="1226.7" cy="680.8" r="3.5"/>
<circle cx="1231.6" cy="678.3" r="3.5"/>
<circle cx="1225.4" cy="683.9" r="3.5"/>
<circle cx="1220.1" cy="690.1" r="3.5"/>
<circle cx="1241.7" cy="670.8" r="3.5"/>
<circle cx="1241.7" cy="674" r="3.5"/>
<circle cx="1237" cy="672.9" r="3.5"/>
<circle cx="1233" cy="677.6" r="3.5"/>
<circle cx="1221.2" cy="686.2" r="3.5"/>
<circle cx="1218.6" cy="690.1" r="3.5"/>
<circle cx="1220.4" cy="686.8" r="3.5"/>
<circle cx="1249.3" cy="664.1" r="3.5"/>
<circle cx="1258.9" cy="658.8" r="3.5"/>
<circle cx="1253.8" cy="660.2" r="3.5"/>
<circle cx="1260" cy="655.5" r="3.5"/>
<circle cx="1253.6" cy="662.3" r="3.5"/>
<circle cx="1261.6" cy="656.1" r="3.5"/>
<circle cx="1260" cy="655.2" r="3.5"/>
<circle cx="1248.3" cy="667.2" r="3.5"/>
<circle cx="1251.2" cy="664.4" r="3.5"/>
<circle cx="1282.1" cy="639.8" r="3.5"/>
<circle cx="1274" cy="644.9" r="3.5"/>
<circle cx="1283.3" cy="638.5" r="3.5"/>
<circle cx="1272.7" cy="642.3" r="3.5"/>
<circle cx="1266.7" cy="649.4" r="3.5"/>
<circle cx="1276.9" cy="642.4" r="3.5"/>
<circle cx="1279.6" cy="641.8" r="3.5"/>
<circle cx="1270.3" cy="649.2" r="3.5"/>
<circle cx="1267" cy="652.6" r="3.5"/>
<circle cx="1271.5" cy="646.5" r="3.5"/>
<circle cx="1283" cy="637.6" r="3.5"/>
<circle cx="1279.3" cy="640.9" r="3.5"/>
<circle cx="1267.5" cy="649.1" r="3.5"/>
<circle cx="1269.9" cy="648.4" r="3.5"/>
<circle cx="1267.2" cy="651" r="3.5"/>
<circle cx="1266.5" cy="649.8" r="3.5"/>
<circle cx="1280" cy="641" r="3.5"/>
<circle cx="1268.6" cy="649.9" r="3.5"/>
<circle cx="1275.6" cy="641.8" r="3.5"/>
<circle cx="1273.6" cy="644.9" r="3.5"/>
<circle cx="1268.9" cy="648.6" r="3.5"/>
<circle cx="1278.8" cy="638.5" r="3.5"/>
<circle cx="1285.2" cy="637.8" r="3.5"/>
<circle cx="1291" cy="630.2" r="3.5"/>
<circle cx="1285" cy="637.2" r="3.5"/>
<circle cx="1288.5" cy="630.8" r="3.5"/>
<circle cx="1286.1" cy="634.4" r="3.5"/>
<circle cx="1286.8" cy="633.4" r="3.5"/>
<circle cx="1315" cy="612.4" r="3.5"/>
<circle cx="1312.8" cy="613" r="3.5"/>
<circle cx="1306.1" cy="617.9" r="3.5"/>
<circle cx="1313.9" cy="610.1" r="3.5"/>
<circle cx="1304.8" cy="620.3" r="3.5"/>
<circle cx="1307.3" cy="615.3" r="3.5"/>
<circle cx="1313.5" cy="613.2" r="3.5"/>
<circle cx="1310.6" cy="614.5" r="3.5"/>
<circle cx="1303.3" cy="621.2" r="3.5"/>
<circle cx="1315.3" cy="610" r="3.5"/>
<circle cx="1304.8" cy="622.4" r="3.5"/>
<circle cx="1305.4" cy="617.6" r="3.5"/>
<circle cx="1312.4" cy="611" r="3.5"/>
<circle cx="1306.4" cy="619.5" r="3.5"/>
<circle cx="1318.6" cy="605.5" r="3.5"/>
<circle cx="1316.8" cy="611" r="3.5"/>
<circle cx="1317" cy="608.9" r="3.5"/>
<circle cx="1321" cy="608.4" r="3.5"/>
<circle cx="1318.2" cy="609.5" r="3.5"/>
<circle cx="1340.7" cy="589.8" r="3.5"/>
<circle cx="1336" cy="595" r="3.5"/>
<circle cx="1337.7" cy="590.6" r="3.5"/>
<circle cx="1348" cy="585.8" r="3.5"/>
<circle cx="1338.3" cy="595.6" r="3.5"/>
<circle cx="1340.1" cy="591.3" r="3.5"/>
<circle cx="1346" cy="586.4" r="3.5"/>
<circle cx="1332.1" cy="598.2" r="3.5"/>
<circle cx="1331.6" cy="596.1" r="3.5"/>
<circle cx="1346.9" cy="583.8" r="3.5"/>
<circle cx="1369.8" cy="567.6" r="3.5"/>
<circle cx="1359.4" cy="574.4" r="3.5"/>
<circle cx="1358.3" cy="577.5" r="3.5"/>
<circle cx="1368.4" cy="567.5" r="3.5"/>
<circle cx="1372.1" cy="563.5" r="3.5"/>
<circle cx="1358.5" cy="575.3" r="3.5"/>
<circle cx="1372.3" cy="568" r="3.5"/>
<circle cx="1371" cy="564" r="3.5"/>
<circle cx="1365.9" cy="570" r="3.5"/>
<circle cx="1362.6" cy="573" r="3.5"/>
<circle cx="1356.8" cy="576.4" r="3.5"/>
<circle cx="1355.6" cy="580.9" r="3.5"/>
<circle cx="1372.5" cy="564.3" r="3.5"/>
<circle cx="1359.2" cy="575.1" r="3.5"/>
<circle cx="1399.1" cy="542.6" r="3.5"/>
<circle cx="1386" cy="553.4" r="3.5"/>
<circle cx="1402.6" cy="540.7" r="3.5"/>
<circle cx="1395.9" cy="546.2" r="3.5"/>
<circle cx="1387.1" cy="551.7" r="3.5"/>
<circle cx="1383.6" cy="556.3" r="3.5"/>
<circle cx="1399.6" cy="542" r="3.5"/>
<circle cx="1380.5" cy="560.3" r="3.5"/>
<circle cx="1385.1" cy="555.2" r="3.5"/>
<circle cx="1394.9" cy="546" r="3.5"/>
<circle cx="1403.4" cy="538.4" r="3.5"/>
<circle cx="1396.5" cy="547.1" r="3.5"/>
<circle cx="1386.7" cy="551.5" r="3.5"/>
<circle cx="1405.3" cy="539.2" r="3.5"/>
<circle cx="1384.5" cy="553.9" r="3.5"/>
<circle cx="1379" cy="560" r="3.5"/>
<circle cx="1386.4" cy="554.9" r="3.5"/>
<circle cx="1391.5" cy="549.5" r="3.5"/>
<circle cx="1380.3" cy="559" r="3.5"/>
<circle cx="1383.6" cy="553.3" r="3.5"/>
<circle cx="1389.3" cy="553.3" r="3.5"/>
<circle cx="1395.2" cy="546" r="3.5"/>
<circle cx="1382.3" cy="557.8" r="3.5"/>
<circle cx="1389.1" cy="550.5" r="3.5"/>
<circle cx="1404.5" cy="540.6" r="3.5"/>
<circle cx="1407.2" cy="537.7" r="3.5"/>
<circle cx="1397.7" cy="546.2" r="3.5"/>
<circle cx="1398.7" cy="543.5" r="3.5"/>
<circle cx="1395.6" cy="546" r="3.5"/>
<circle cx="1382.6" cy="556" r="3.5"/>
<circle cx="1379.5" cy="558.9" r="3.5"/>
<circle cx="1379" cy="559.3" r="3.5"/>
<circle cx="1405.1" cy="537.9" r="3.5"/>
<circle cx="1399" cy="542" r="3.5"/>
<circle cx="1429.3" cy="520.3" r="3.5"/>
<circle cx="1408.2" cy="537.9" r="3.5"/>
<circle cx="1422" cy="525.7" r="3.5"/>
<circle cx="1418.5" cy="529.5" r="3.5"/>
<circle cx="1424.1" cy="522.9" r="3.5"/>
<circle cx="1414.9" cy="529.8" r="3.5"/>
<circle cx="1430.1" cy="518.1" r="3.5"/>
<circle cx="1409.4" cy="534.2" r="3.5"/>
<circle cx="1420" cy="527" r="3.5"/>
<circle cx="1424.2" cy="524.4" r="3.5"/>
<circle cx="1427.9" cy="521.2" r="3.5"/>
<circle cx="1424.2" cy="523.7" r="3.5"/>
<circle cx="1423.5" cy="522.5" r="3.5"/>
<circle cx="1425.5" cy="525.4" r="3.5"/>
<circle cx="1428.2" cy="519.4" r="3.5"/>
<circle cx="1415.7" cy="528.5" r="3.5"/>
<circle cx="1423.1" cy="521.8" r="3.5"/>
<circle cx="1427.9" cy="521.3" r="3.5"/>
<circle cx="1427.2" cy="520.4" r="3.5"/>
<circle cx="1417.1" cy="528.1" r="3.5"/>
<circle cx="1445" cy="505.3" r="3.5"/>
<circle cx="1446.2" cy="506.3" r="3.5"/>
<circle cx="1441.5" cy="508.8" r="3.5"/>
<circle cx="1442.3" cy="508" r="3.5"/>
<circle cx="1438.4" cy="510.2" r="3.5"/>
<circle cx="1441.6" cy="508.3" r="3.5"/>
<circle cx="1442.1" cy="506" r="3.5"/>
<circle cx="1433.5" cy="515.6" r="3.5"/>
<circle cx="1442.6" cy="509.1" r="3.5"/>
<circle cx="1448.3" cy="503.2" r="3.5"/>
<circle cx="1446.5" cy="503.6" r="3.5"/>
<circle cx="1444" cy="507.2" r="3.5"/>
<circle cx="1438.5" cy="510.5" r="3.5"/>
<circle cx="1444.1" cy="506.4" r="3.5"/>
<circle cx="1468.5" cy="487.4" r="3.5"/>
<circle cx="1463.7" cy="491.9" r="3.5"/>
<circle cx="1477.4" cy="480.3" r="3.5"/>
<circle cx="1451.3" cy="502.1" r="3.5"/>
<circle cx="1474.4" cy="482.4" r="3.5"/>
<circle cx="1449.5" cy="504" r="3.5"/>
<circle cx="1469.2" cy="484.7" r="3.5"/>
<circle cx="1465.1" cy="489.3" r="3.5"/>
<circle cx="1456.4" cy="495.5" r="3.5"/>
<circle cx="1472.6" cy="480.7" r="3.5"/>
<circle cx="1465.6" cy="489.7" r="3.5"/>
<circle cx="1469.7" cy="485.7" r="3.5"/>
<circle cx="1480.3" cy="476.2" r="3.5"/>
<circle cx="1457.3" cy="494.9" r="3.5"/>
<circle cx="1448.8" cy="503.3" r="3.5"/>
<circle cx="1458.9" cy="496.5" r="3.5"/>
<circle cx="1471.9" cy="482.9" r="3.5"/>
<circle cx="1455.4" cy="496.7" r="3.5"/>
<circle cx="1454.3" cy="499.2" r="3.5"/>
<circle cx="1479.8" cy="477.6" r="3.5"/>
<circle cx="1491.8" cy="467.9" r="3.5"/>
<circle cx="1489.5" cy="470.5" r="3.5"/>
<circle cx="1494.1" cy="465.8" r="3.5"/>
<circle cx="1503.9" cy="459.2" r="3.5"/>
<circle cx="1510.8" cy="451.2" r="3.5"/>
<circle cx="1501.3" cy="460.3" r="3.5"/>
<circle cx="1506" cy="456.7" r="3.5"/>
<circle cx="1513.7" cy="447.2" r="3.5"/>
<circle cx="1515.8" cy="446.3" r="3.5"/>
<circle cx="1515.2" cy="448.6" r="3.5"/>
<circle cx="1505.1" cy="458.1" r="3.5"/>
<circle cx="1509.1" cy="453.2" r="3.5"/>
<circle cx="1503.7" cy="459.1" r="3.5"/>
<circle cx="1500" cy="461.8" r="3.5"/>
<circle cx="1507.3" cy="456.6" r="3.5"/>
<circle cx="1514.3" cy="450.7" r="3.5"/>
<circle cx="1514.5" cy="447.5" r="3.5"/>
<circle cx="1511.7" cy="450.7" r="3.5"/>
<circle cx="1516.6" cy="445.7" r="3.5"/>
<circle cx="1502.9" cy="457.1" r="3.5"/>
<circle cx="1500.7" cy="461.8" r="3.5"/>
<circle cx="1506.4" cy="455" r="3.5"/>
<circle cx="1502.9" cy="457.7" r="3.5"/>
<circle cx="1501.6" cy="461.6" r="3.5"/>
<circle cx="1505.7" cy="457.1" r="3.5"/>
<circle cx="1526" cy="439.6" r="3.5"/>
<circle cx="1524.2" cy="440.9" r="3.5"/>
<circle cx="1521.8" cy="445.5" r="3.5"/>
<circle cx="1528.9" cy="438.2" r="3.5"/>
<circle cx="1530.8" cy="438.1" r="3.5"/>
<circle cx="1523.7" cy="439.9" r="3.5"/>
<circle cx="1518.6" cy="445.9" r="3.5"/>
<circle cx="1518" cy="444" r="3.5"/>
<circle cx="1529.3" cy="438.6" r="3.5"/>
<circle cx="1518.2" cy="445.3" r="3.5"/>
<circle cx="1527.1" cy="438.6" r="3.5"/>
<circle cx="1525.2" cy="441.1" r="3.5"/>
<circle cx="1521.7" cy="441.5" r="3.5"/>
<circle cx="1528.2" cy="436.5" r="3.5"/>
<circle cx="1517.8" cy="446" r="3.5"/>
<circle cx="1519.4" cy="443.9" r="3.5"/>
<circle cx="1523.7" cy="441.8" r="3.5"/>
<circle cx="1517.9" cy="448.3" r="3.5"/>
<circle cx="1528.7" cy="437.1" r="3.5"/>
<circle cx="1520.8" cy="442.5" r="3.5"/>
<circle cx="1519.5" cy="445.2" r="3.5"/>
<circle cx="1518.2" cy="443.8" r="3.5"/>
<circle cx="1526.1" cy="437.2" r="3.5"/>
<circle cx="1523.6" cy="444" r="3.5"/>
<circle cx="1526.1" cy="441.6" r="3.5"/>
<circle cx="1526.4" cy="440.6" r="3.5"/>
<circle cx="1196.2" cy="680.7" r="3.5"/>
<circle cx="1268.2" cy="630.4" r="3.5"/>
<circle cx="1271.5" cy="625.4" r="3.5"/>
<circle cx="1314.2" cy="557.6" r="3.5"/>
<circle cx="1320.3" cy="560.2" r="3.5"/>
<circle cx="1356.1" cy="559.2" r="3.5"/>
<circle cx="1370.3" cy="637" r="3.5"/>
<circle cx="1377.2" cy="538.4" r="3.5"/>
<circle cx="1381.3" cy="539.4" r="3.5"/>
<circle cx="1391.5" cy="536.1" r="3.5"/>
<circle cx="1401.7" cy="529.5" r="3.5"/>
<circle cx="1495.2" cy="507.9" r="3.5"/>
<circle cx="1494" cy="517.9" r="3.5"/>
<circle cx="1515.6" cy="461.6" r="3.5"/>
<circle cx="1525.7" cy="468.9" r="3.5"/>
<circle cx="1485.1" cy="464.9" r="3.5"/>
<circle cx="1497.3" cy="470.9" r="3.5"/>
<circle cx="1306.1" cy="603.9" r="3.5"/>
<circle cx="1312.2" cy="607.2" r="3.5"/>
<circle cx="1362.2" cy="580.7" r="3.5"/>
<circle cx="1145.4" cy="742.9" r="3.5"/>
<circle cx="1158.4" cy="741.2" r="3.5"/>
<circle cx="1385.4" cy="544.3" r="3.5"/>
<circle cx="1428.1" cy="511.9" r="3.5"/>
<circle cx="1356.9" cy="572.5" r="3.5"/>
<circle cx="1358.9" cy="581.4" r="3.5"/>
<circle cx="1293.9" cy="634.3" r="3.5"/>
<circle cx="1285.7" cy="641" r="3.5"/>
</g></g>
<text x="1123" y="795.6" font-size="21.3" font-weight="bold" text-anchor="middle">0</text>
<text x="1111.6" y="774.8" font-size="21.3" font-weight="bold" text-anchor="end">0</text>
<text x="1204.4" y="795.6" font-size="21.3" font-weight="bold" text-anchor="middle">20</text>
<text x="1111.6" y="708.6" font-size="21.3" font-weight="bold" text-anchor="end">20</text>
<text x="1285.7" y="795.6" font-size="21.3" font-weight="bold" text-anchor="middle">40</text>
<text x="1111.6" y="642.4" font-size="21.3" font-weight="bold" text-anchor="end">40</text>
<text x="1367.1" y="795.6" font-size="21.3" font-weight="bold" text-anchor="middle">60</text>
<text x="1111.6" y="576.3" font-size="21.3" font-weight="bold" text-anchor="end">60</text>
<text x="1448.4" y="795.6" font-size="21.3" font-weight="bold" text-anchor="middle">80</text>
<text x="1111.6" y="510.1" font-size="21.3" font-weight="bold" text-anchor="end">80</text>
<text x="1529.8" y="795.6" font-size="21.3" font-weight="bold" text-anchor="middle">100</text>
<text x="1111.6" y="443.9" font-size="21.3" font-weight="bold" text-anchor="end">100</text>
<circle cx="1156.6" cy="462.1" r="3.6" fill="#74084f" fill-opacity="0.5"/>
<text x="1194.9" y="470.6" font-size="28.2" font-weight="bold" text-anchor="start">XGBoost-CV</text>
<text x="1428.2" y="468.8" font-size="27" font-weight="normal" text-anchor="start">y=x</text>
<text x="1523.4" y="750.4" font-size="37.4" font-weight="bold" text-anchor="end">R<tspan font-size="26" dy="-16.8">2</tspan><tspan dy="16.8">=0.98</tspan></text>
<clipPath id="c011"><rect x="1594.6" y="435.8" width="413" height="332.9"/></clipPath>
<rect x="1595.6" y="436.8" width="411" height="330.9" fill="none" stroke="#303030" stroke-width="2"/>
<path d="M1595.6 767.7v6.5M1595.6 767.7h-6.5M1636.3 767.7v3.3M1595.6 734.6h-3.3M1677 767.7v6.5M1595.6 701.5h-6.5M1717.7 767.7v3.3M1595.6 668.4h-3.3M1758.4 767.7v6.5M1595.6 635.3h-6.5M1799.2 767.7v3.3M1595.6 602.2h-3.3M1839.9 767.7v6.5M1595.6 569.2h-6.5M1880.6 767.7v3.3M1595.6 536.1h-3.3M1921.3 767.7v6.5M1595.6 503h-6.5M1962 767.7v3.3M1595.6 469.9h-3.3M2002.7 767.7v6.5M1595.6 436.8h-6.5" stroke="#303030" stroke-width="1.8" fill="none"/>
<g clip-path="url(#c011)">
<line x1="1595.6" y1="767.7" x2="2010.8" y2="430.2" stroke="#959595" stroke-width="1.1"/>
<g fill="#e6500a" fill-opacity="0.5">
<circle cx="1602.9" cy="761.3" r="3.5"/>
<circle cx="1603.9" cy="760.6" r="3.5"/>
<circle cx="1607.1" cy="759.4" r="3.5"/>
<circle cx="1603" cy="760.9" r="3.5"/>
<circle cx="1625.2" cy="743.5" r="3.5"/>
<circle cx="1626.4" cy="742" r="3.5"/>
<circle cx="1620.6" cy="747.1" r="3.5"/>
<circle cx="1625.3" cy="743.3" r="3.5"/>
<circle cx="1626.9" cy="741.8" r="3.5"/>
<circle cx="1629.3" cy="741.3" r="3.5"/>
<circle cx="1619.3" cy="749.1" r="3.5"/>
<circle cx="1638.8" cy="733.3" r="3.5"/>
<circle cx="1635.7" cy="734.4" r="3.5"/>
<circle cx="1646.5" cy="725.9" r="3.5"/>
<circle cx="1644.7" cy="727.5" r="3.5"/>
<circle cx="1634.9" cy="735.1" r="3.5"/>
<circle cx="1649.1" cy="723.8" r="3.5"/>
<circle cx="1648.8" cy="725" r="3.5"/>
<circle cx="1667.3" cy="710.5" r="3.5"/>
<circle cx="1666.7" cy="710.5" r="3.5"/>
<circle cx="1659.2" cy="716.7" r="3.5"/>
<circle cx="1656.9" cy="717.4" r="3.5"/>
<circle cx="1665.3" cy="711.4" r="3.5"/>
<circle cx="1657.6" cy="716.2" r="3.5"/>
<circle cx="1659.8" cy="715.9" r="3.5"/>
<circle cx="1660.6" cy="715.2" r="3.5"/>
<circle cx="1657.2" cy="718.8" r="3.5"/>
<circle cx="1698.3" cy="682.5" r="3.5"/>
<circle cx="1697.6" cy="684.5" r="3.5"/>
<circle cx="1709.7" cy="674.1" r="3.5"/>
<circle cx="1700" cy="682.9" r="3.5"/>
<circle cx="1703.6" cy="680.4" r="3.5"/>
<circle cx="1699.4" cy="683.2" r="3.5"/>
<circle cx="1704.3" cy="679.2" r="3.5"/>
<circle cx="1698.1" cy="684.7" r="3.5"/>
<circle cx="1692.7" cy="689" r="3.5"/>
<circle cx="1714.4" cy="671.3" r="3.5"/>
<circle cx="1714.4" cy="671.1" r="3.5"/>
<circle cx="1709.7" cy="674.1" r="3.5"/>
<circle cx="1705.7" cy="678.5" r="3.5"/>
<circle cx="1693.8" cy="688.2" r="3.5"/>
<circle cx="1691.3" cy="688.4" r="3.5"/>
<circle cx="1693.1" cy="687.7" r="3.5"/>
<circle cx="1722" cy="665.3" r="3.5"/>
<circle cx="1731.6" cy="656.9" r="3.5"/>
<circle cx="1726.5" cy="660.7" r="3.5"/>
<circle cx="1732.7" cy="655.7" r="3.5"/>
<circle cx="1726.3" cy="661.5" r="3.5"/>
<circle cx="1734.3" cy="654.5" r="3.5"/>
<circle cx="1732.7" cy="655.3" r="3.5"/>
<circle cx="1721" cy="664.4" r="3.5"/>
<circle cx="1723.9" cy="662.5" r="3.5"/>
<circle cx="1754.8" cy="638.2" r="3.5"/>
<circle cx="1746.7" cy="644.8" r="3.5"/>
<circle cx="1756" cy="637.2" r="3.5"/>
<circle cx="1745.4" cy="645.8" r="3.5"/>
<circle cx="1739.4" cy="650.5" r="3.5"/>
<circle cx="1749.6" cy="642.5" r="3.5"/>
<circle cx="1752.3" cy="641.8" r="3.5"/>
<circle cx="1743" cy="646.9" r="3.5"/>
<circle cx="1739.7" cy="650.7" r="3.5"/>
<circle cx="1744.2" cy="646.9" r="3.5"/>
<circle cx="1755.8" cy="636.7" r="3.5"/>
<circle cx="1752" cy="641.3" r="3.5"/>
<circle cx="1740.2" cy="650.1" r="3.5"/>
<circle cx="1742.6" cy="647.8" r="3.5"/>
<circle cx="1739.9" cy="650.2" r="3.5"/>
<circle cx="1739.2" cy="651.2" r="3.5"/>
<circle cx="1752.7" cy="641.7" r="3.5"/>
<circle cx="1741.3" cy="650" r="3.5"/>
<circle cx="1748.3" cy="644.1" r="3.5"/>
<circle cx="1746.3" cy="646.1" r="3.5"/>
<circle cx="1741.6" cy="648.7" r="3.5"/>
<circle cx="1751.5" cy="640.8" r="3.5"/>
<circle cx="1757.9" cy="635.3" r="3.5"/>
<circle cx="1763.7" cy="631.3" r="3.5"/>
<circle cx="1757.7" cy="636.6" r="3.5"/>
<circle cx="1761.2" cy="634" r="3.5"/>
<circle cx="1758.8" cy="635.2" r="3.5"/>
<circle cx="1759.5" cy="634.9" r="3.5"/>
<circle cx="1787.8" cy="610.1" r="3.5"/>
<circle cx="1785.5" cy="612.6" r="3.5"/>
<circle cx="1778.8" cy="617.6" r="3.5"/>
<circle cx="1786.6" cy="612.1" r="3.5"/>
<circle cx="1777.6" cy="619.9" r="3.5"/>
<circle cx="1780" cy="618" r="3.5"/>
<circle cx="1786.2" cy="613.7" r="3.5"/>
<circle cx="1783.4" cy="615.5" r="3.5"/>
<circle cx="1776.1" cy="619.7" r="3.5"/>
<circle cx="1788" cy="611.3" r="3.5"/>
<circle cx="1777.6" cy="619" r="3.5"/>
<circle cx="1778.2" cy="618.6" r="3.5"/>
<circle cx="1785.1" cy="614.8" r="3.5"/>
<circle cx="1779.2" cy="618.9" r="3.5"/>
<circle cx="1791.4" cy="609.2" r="3.5"/>
<circle cx="1789.6" cy="608.9" r="3.5"/>
<circle cx="1789.7" cy="610.1" r="3.5"/>
<circle cx="1793.7" cy="606.7" r="3.5"/>
<circle cx="1791" cy="610.1" r="3.5"/>
<circle cx="1813.4" cy="590.6" r="3.5"/>
<circle cx="1808.8" cy="595.1" r="3.5"/>
<circle cx="1810.4" cy="592.3" r="3.5"/>
<circle cx="1820.7" cy="584.1" r="3.5"/>
<circle cx="1811" cy="593.5" r="3.5"/>
<circle cx="1812.9" cy="591.9" r="3.5"/>
<circle cx="1818.8" cy="585.5" r="3.5"/>
<circle cx="1804.9" cy="599.1" r="3.5"/>
<circle cx="1804.3" cy="597.9" r="3.5"/>
<circle cx="1819.7" cy="586.5" r="3.5"/>
<circle cx="1842.6" cy="567.8" r="3.5"/>
<circle cx="1832.2" cy="574.7" r="3.5"/>
<circle cx="1831.1" cy="577.1" r="3.5"/>
<circle cx="1841.2" cy="567.9" r="3.5"/>
<circle cx="1844.9" cy="564.6" r="3.5"/>
<circle cx="1831.2" cy="576" r="3.5"/>
<circle cx="1845.1" cy="565.3" r="3.5"/>
<circle cx="1843.8" cy="565.6" r="3.5"/>
<circle cx="1838.7" cy="569.5" r="3.5"/>
<circle cx="1835.4" cy="572" r="3.5"/>
<circle cx="1829.6" cy="578.1" r="3.5"/>
<circle cx="1828.3" cy="579.2" r="3.5"/>
<circle cx="1845.3" cy="565" r="3.5"/>
<circle cx="1832" cy="575.1" r="3.5"/>
<circle cx="1871.9" cy="542.9" r="3.5"/>
<circle cx="1858.8" cy="553.6" r="3.5"/>
<circle cx="1875.4" cy="542" r="3.5"/>
<circle cx="1868.7" cy="546.1" r="3.5"/>
<circle cx="1859.8" cy="553.2" r="3.5"/>
<circle cx="1856.4" cy="555.3" r="3.5"/>
<circle cx="1872.4" cy="543" r="3.5"/>
<circle cx="1853.3" cy="558.7" r="3.5"/>
<circle cx="1857.9" cy="554.9" r="3.5"/>
<circle cx="1867.7" cy="547.1" r="3.5"/>
<circle cx="1876.3" cy="538.9" r="3.5"/>
<circle cx="1869.3" cy="544.6" r="3.5"/>
<circle cx="1859.5" cy="552.4" r="3.5"/>
<circle cx="1878.1" cy="538.6" r="3.5"/>
<circle cx="1857.2" cy="554.5" r="3.5"/>
<circle cx="1851.7" cy="559" r="3.5"/>
<circle cx="1859.2" cy="553.1" r="3.5"/>
<circle cx="1864.3" cy="549.6" r="3.5"/>
<circle cx="1853.1" cy="558.9" r="3.5"/>
<circle cx="1856.4" cy="554.2" r="3.5"/>
<circle cx="1862.1" cy="550.9" r="3.5"/>
<circle cx="1868" cy="545.7" r="3.5"/>
<circle cx="1855.1" cy="558.1" r="3.5"/>
<circle cx="1861.9" cy="552.1" r="3.5"/>
<circle cx="1877.4" cy="538.7" r="3.5"/>
<circle cx="1880" cy="536.2" r="3.5"/>
<circle cx="1870.5" cy="544.3" r="3.5"/>
<circle cx="1871.5" cy="543.4" r="3.5"/>
<circle cx="1868.4" cy="546.8" r="3.5"/>
<circle cx="1855.4" cy="556" r="3.5"/>
<circle cx="1852.3" cy="559.3" r="3.5"/>
<circle cx="1851.8" cy="559.6" r="3.5"/>
<circle cx="1877.9" cy="538.7" r="3.5"/>
<circle cx="1871.8" cy="544.6" r="3.5"/>
<circle cx="1902.1" cy="520" r="3.5"/>
<circle cx="1881.1" cy="536.6" r="3.5"/>
<circle cx="1894.8" cy="523.9" r="3.5"/>
<circle cx="1891.4" cy="526.9" r="3.5"/>
<circle cx="1896.9" cy="522.7" r="3.5"/>
<circle cx="1887.7" cy="530.7" r="3.5"/>
<circle cx="1903" cy="518.3" r="3.5"/>
<circle cx="1882.2" cy="534.6" r="3.5"/>
<circle cx="1892.8" cy="525.9" r="3.5"/>
<circle cx="1897.1" cy="521.9" r="3.5"/>
<circle cx="1900.7" cy="520.1" r="3.5"/>
<circle cx="1897.1" cy="522.7" r="3.5"/>
<circle cx="1896.3" cy="522.8" r="3.5"/>
<circle cx="1898.3" cy="521.6" r="3.5"/>
<circle cx="1901" cy="519.8" r="3.5"/>
<circle cx="1888.5" cy="529.3" r="3.5"/>
<circle cx="1895.9" cy="523.7" r="3.5"/>
<circle cx="1900.7" cy="521.1" r="3.5"/>
<circle cx="1900.1" cy="520.7" r="3.5"/>
<circle cx="1889.9" cy="528.3" r="3.5"/>
<circle cx="1917.9" cy="505.5" r="3.5"/>
<circle cx="1919" cy="504.6" r="3.5"/>
<circle cx="1914.3" cy="508.5" r="3.5"/>
<circle cx="1915.2" cy="507.2" r="3.5"/>
<circle cx="1911.2" cy="511.7" r="3.5"/>
<circle cx="1914.5" cy="507.3" r="3.5"/>
<circle cx="1914.9" cy="508.5" r="3.5"/>
<circle cx="1906.3" cy="515.5" r="3.5"/>
<circle cx="1915.4" cy="508.6" r="3.5"/>
<circle cx="1921.2" cy="502.4" r="3.5"/>
<circle cx="1919.3" cy="503.6" r="3.5"/>
<circle cx="1916.8" cy="506" r="3.5"/>
<circle cx="1911.3" cy="510" r="3.5"/>
<circle cx="1917" cy="507" r="3.5"/>
<circle cx="1941.4" cy="487.7" r="3.5"/>
<circle cx="1936.5" cy="490.7" r="3.5"/>
<circle cx="1950.3" cy="479.3" r="3.5"/>
<circle cx="1924.2" cy="500.3" r="3.5"/>
<circle cx="1947.3" cy="482" r="3.5"/>
<circle cx="1922.3" cy="502" r="3.5"/>
<circle cx="1942.1" cy="486.5" r="3.5"/>
<circle cx="1937.9" cy="489.5" r="3.5"/>
<circle cx="1929.3" cy="496.9" r="3.5"/>
<circle cx="1945.5" cy="483.7" r="3.5"/>
<circle cx="1938.5" cy="490.3" r="3.5"/>
<circle cx="1942.5" cy="485" r="3.5"/>
<circle cx="1953.1" cy="478" r="3.5"/>
<circle cx="1930.1" cy="496.8" r="3.5"/>
<circle cx="1921.7" cy="503.5" r="3.5"/>
<circle cx="1931.7" cy="493.9" r="3.5"/>
<circle cx="1944.7" cy="484.4" r="3.5"/>
<circle cx="1928.3" cy="497.3" r="3.5"/>
<circle cx="1927.1" cy="497" r="3.5"/>
<circle cx="1952.6" cy="476.8" r="3.5"/>
<circle cx="1964.6" cy="468.2" r="3.5"/>
<circle cx="1962.4" cy="468.6" r="3.5"/>
<circle cx="1967" cy="466.6" r="3.5"/>
<circle cx="1976.8" cy="458.1" r="3.5"/>
<circle cx="1983.7" cy="453" r="3.5"/>
<circle cx="1974.2" cy="460.1" r="3.5"/>
<circle cx="1978.9" cy="456" r="3.5"/>
<circle cx="1986.5" cy="450.7" r="3.5"/>
<circle cx="1988.7" cy="448.4" r="3.5"/>
<circle cx="1988" cy="447.8" r="3.5"/>
<circle cx="1977.9" cy="456.5" r="3.5"/>
<circle cx="1982" cy="452.4" r="3.5"/>
<circle cx="1976.6" cy="456.9" r="3.5"/>
<circle cx="1972.9" cy="459.9" r="3.5"/>
<circle cx="1980.2" cy="455.1" r="3.5"/>
<circle cx="1987.2" cy="448.4" r="3.5"/>
<circle cx="1987.4" cy="449.1" r="3.5"/>
<circle cx="1984.6" cy="451.2" r="3.5"/>
<circle cx="1989.5" cy="447.1" r="3.5"/>
<circle cx="1975.7" cy="458.5" r="3.5"/>
<circle cx="1973.6" cy="460.9" r="3.5"/>
<circle cx="1979.3" cy="455.2" r="3.5"/>
<circle cx="1975.7" cy="458.6" r="3.5"/>
<circle cx="1974.5" cy="459.4" r="3.5"/>
<circle cx="1978.6" cy="456.8" r="3.5"/>
<circle cx="1998.9" cy="440.1" r="3.5"/>
<circle cx="1997.1" cy="442" r="3.5"/>
<circle cx="1994.7" cy="442.2" r="3.5"/>
<circle cx="2001.8" cy="438.5" r="3.5"/>
<circle cx="2003.7" cy="436.7" r="3.5"/>
<circle cx="1996.6" cy="441.3" r="3.5"/>
<circle cx="1991.5" cy="446.2" r="3.5"/>
<circle cx="1990.9" cy="446.7" r="3.5"/>
<circle cx="2002.2" cy="437.2" r="3.5"/>
<circle cx="1991.1" cy="445.8" r="3.5"/>
<circle cx="2000" cy="439" r="3.5"/>
<circle cx="1998.1" cy="440.7" r="3.5"/>
<circle cx="1994.6" cy="443" r="3.5"/>
<circle cx="2001.1" cy="437.9" r="3.5"/>
<circle cx="1990.7" cy="446" r="3.5"/>
<circle cx="1992.3" cy="445.7" r="3.5"/>
<circle cx="1996.6" cy="443.5" r="3.5"/>
<circle cx="1990.8" cy="446" r="3.5"/>
<circle cx="2001.6" cy="437.5" r="3.5"/>
<circle cx="1993.7" cy="444.4" r="3.5"/>
<circle cx="1992.4" cy="446" r="3.5"/>
<circle cx="1991.1" cy="446.6" r="3.5"/>
<circle cx="1999" cy="439.6" r="3.5"/>
<circle cx="1996.5" cy="442.2" r="3.5"/>
<circle cx="1999" cy="439.8" r="3.5"/>
<circle cx="1999.3" cy="439.9" r="3.5"/>
<circle cx="1852.1" cy="494.7" r="3.5"/>
<circle cx="1837.8" cy="524.5" r="3.5"/>
<circle cx="1830.9" cy="533.4" r="3.5"/>
<circle cx="1786.9" cy="559.2" r="3.5"/>
<circle cx="1750.3" cy="609.9" r="3.5"/>
<circle cx="1757.2" cy="622.1" r="3.5"/>
<circle cx="1752.3" cy="632.7" r="3.5"/>
<circle cx="1738.1" cy="642" r="3.5"/>
<circle cx="1744.2" cy="656.2" r="3.5"/>
<circle cx="1793" cy="641.3" r="3.5"/>
<circle cx="1828.9" cy="605.6" r="3.5"/>
<circle cx="1834.6" cy="623.1" r="3.5"/>
<circle cx="1864.3" cy="590" r="3.5"/>
<circle cx="1871.6" cy="564.9" r="3.5"/>
<circle cx="1900.9" cy="545" r="3.5"/>
<circle cx="1740.9" cy="711.8" r="3.5"/>
<circle cx="1746.2" cy="712.1" r="3.5"/>
<circle cx="1668.9" cy="726.3" r="3.5"/>
<circle cx="1694.1" cy="706.5" r="3.5"/>
<circle cx="1968.9" cy="504.6" r="3.5"/>
<circle cx="1998.6" cy="468.2" r="3.5"/>
<circle cx="1995.8" cy="450" r="3.5"/>
<circle cx="1960" cy="482.1" r="3.5"/>
<circle cx="1967.3" cy="471.5" r="3.5"/>
<circle cx="1949.8" cy="486.4" r="3.5"/>
<circle cx="1921.3" cy="455.7" r="3.5"/>
<circle cx="1706.7" cy="672.7" r="3.5"/>
<circle cx="1784.9" cy="618.1" r="3.5"/>
<circle cx="1780.8" cy="622.1" r="3.5"/>
<circle cx="1843.9" cy="572.5" r="3.5"/>
<circle cx="1850" cy="553.3" r="3.5"/>
<circle cx="1874.5" cy="546" r="3.5"/>
<circle cx="1876.5" cy="537.4" r="3.5"/>
<circle cx="1950.6" cy="480.5" r="3.5"/>
</g></g>
<text x="1595.6" y="795.6" font-size="21.3" font-weight="bold" text-anchor="middle">0</text>
<text x="1584.2" y="774.8" font-size="21.3" font-weight="bold" text-anchor="end">0</text>
<text x="1677" y="795.6" font-size="21.3" font-weight="bold" text-anchor="middle">20</text>
<text x="1584.2" y="708.6" font-size="21.3" font-weight="bold" text-anchor="end">20</text>
<text x="1758.4" y="795.6" font-size="21.3" font-weight="bold" text-anchor="middle">40</text>
<text x="1584.2" y="642.4" font-size="21.3" font-weight="bold" text-anchor="end">40</text>
<text x="1839.9" y="795.6" font-size="21.3" font-weight="bold" text-anchor="middle">60</text>
<text x="1584.2" y="576.3" font-size="21.3" font-weight="bold" text-anchor="end">60</text>
<text x="1921.3" y="795.6" font-size="21.3" font-weight="bold" text-anchor="middle">80</text>
<text x="1584.2" y="510.1" font-size="21.3" font-weight="bold" text-anchor="end">80</text>
<text x="2002.7" y="795.6" font-size="21.3" font-weight="bold" text-anchor="middle">100</text>
<text x="1584.2" y="443.9" font-size="21.3" font-weight="bold" text-anchor="end">100</text>
<circle cx="1627.2" cy="459.7" r="3.6" fill="#e6500a" fill-opacity="0.5"/>
<text x="1667.1" y="468.8" font-size="28.2" font-weight="bold" text-anchor="start">DT-CV</text>
<text x="1903.5" y="466.2" font-size="27" font-weight="normal" text-anchor="start">y=x</text>
<text x="1996.6" y="750.4" font-size="37.4" font-weight="bold" text-anchor="end">R<tspan font-size="26" dy="-16.8">2</tspan><tspan dy="16.8">=0.97</tspan></text>
<text x="1582.5" y="847.5" font-size="37.8" font-weight="bold" text-anchor="middle">Actual Value (%)</text>
<text transform="translate(1055.2 414.5) rotate(-90)" font-size="38" font-weight="bold" text-anchor="middle">Prediction Value (%)</text>
<text x="997.4" y="98.2" font-size="51.6" font-weight="bold" text-anchor="start">(b)</text>
<clipPath id="c100"><rect x="1122" y="897.4" width="413.1" height="333.3"/></clipPath>
<rect x="1123" y="898.4" width="411.1" height="331.3" fill="none" stroke="#484848" stroke-width="1.8"/>
<path d="M1123 1229.7v6.5M1123 1229.7h-6.5M1163.7 1229.7v3.3M1123 1196.6h-3.3M1204.4 1229.7v6.5M1123 1163.4h-6.5M1245 1229.7v3.3M1123 1130.3h-3.3M1285.7 1229.7v6.5M1123 1097.2h-6.5M1326.4 1229.7v3.3M1123 1064h-3.3M1367.1 1229.7v6.5M1123 1030.9h-6.5M1407.8 1229.7v3.3M1123 997.8h-3.3M1448.4 1229.7v6.5M1123 964.7h-6.5M1489.1 1229.7v3.3M1123 931.5h-3.3M1529.8 1229.7v6.5M1123 898.4h-6.5" stroke="#484848" stroke-width="1.8" fill="none"/>
<g clip-path="url(#c100)">
<line x1="1123" y1="1229.7" x2="1537.9" y2="891.8" stroke="#959595" stroke-width="1.1"/>
<g fill="#006400" fill-opacity="0.5">
<circle cx="1129.2" cy="1224.8" r="3.5"/>
<circle cx="1123.9" cy="1229.7" r="3.5"/>
<circle cx="1123.2" cy="1229.2" r="3.5"/>
<circle cx="1129.5" cy="1224.6" r="3.5"/>
<circle cx="1124.2" cy="1229.7" r="3.5"/>
<circle cx="1123.8" cy="1229.7" r="3.5"/>
<circle cx="1127.2" cy="1226.2" r="3.5"/>
<circle cx="1125.2" cy="1225.8" r="3.5"/>
<circle cx="1128.8" cy="1224.7" r="3.5"/>
<circle cx="1124.5" cy="1227.1" r="3.5"/>
<circle cx="1129.3" cy="1223" r="3.5"/>
<circle cx="1125.1" cy="1225.5" r="3.5"/>
<circle cx="1149.9" cy="1207.7" r="3.5"/>
<circle cx="1157.9" cy="1201.2" r="3.5"/>
<circle cx="1151.9" cy="1205.1" r="3.5"/>
<circle cx="1157.7" cy="1196.8" r="3.5"/>
<circle cx="1152.5" cy="1203.7" r="3.5"/>
<circle cx="1136.4" cy="1219.3" r="3.5"/>
<circle cx="1156.7" cy="1199.9" r="3.5"/>
<circle cx="1149.6" cy="1209" r="3.5"/>
<circle cx="1142.8" cy="1214.1" r="3.5"/>
<circle cx="1139.8" cy="1214.5" r="3.5"/>
<circle cx="1168.2" cy="1191.6" r="3.5"/>
<circle cx="1166.8" cy="1193.5" r="3.5"/>
<circle cx="1168.6" cy="1193.2" r="3.5"/>
<circle cx="1167.8" cy="1194.6" r="3.5"/>
<circle cx="1189.6" cy="1176.9" r="3.5"/>
<circle cx="1183.9" cy="1179.9" r="3.5"/>
<circle cx="1185.8" cy="1174.3" r="3.5"/>
<circle cx="1184.6" cy="1178" r="3.5"/>
<circle cx="1179.5" cy="1183.5" r="3.5"/>
<circle cx="1189.5" cy="1175.8" r="3.5"/>
<circle cx="1198.6" cy="1168.3" r="3.5"/>
<circle cx="1205.3" cy="1162.8" r="3.5"/>
<circle cx="1207.8" cy="1159.6" r="3.5"/>
<circle cx="1203.5" cy="1164.5" r="3.5"/>
<circle cx="1196.2" cy="1168.6" r="3.5"/>
<circle cx="1205.9" cy="1162.7" r="3.5"/>
<circle cx="1203.7" cy="1163.9" r="3.5"/>
<circle cx="1196.8" cy="1170.4" r="3.5"/>
<circle cx="1194.9" cy="1170.9" r="3.5"/>
<circle cx="1201.8" cy="1165.9" r="3.5"/>
<circle cx="1194.6" cy="1172.6" r="3.5"/>
<circle cx="1207.4" cy="1159.1" r="3.5"/>
<circle cx="1201.4" cy="1164" r="3.5"/>
<circle cx="1201.6" cy="1166.7" r="3.5"/>
<circle cx="1200" cy="1166.7" r="3.5"/>
<circle cx="1203.6" cy="1163.5" r="3.5"/>
<circle cx="1225.1" cy="1145.5" r="3.5"/>
<circle cx="1219.5" cy="1151.2" r="3.5"/>
<circle cx="1220.1" cy="1152.3" r="3.5"/>
<circle cx="1237.6" cy="1136.7" r="3.5"/>
<circle cx="1235.2" cy="1137.4" r="3.5"/>
<circle cx="1237.7" cy="1137.9" r="3.5"/>
<circle cx="1266.8" cy="1112.2" r="3.5"/>
<circle cx="1263.2" cy="1115.7" r="3.5"/>
<circle cx="1271" cy="1107.3" r="3.5"/>
<circle cx="1266.3" cy="1111" r="3.5"/>
<circle cx="1252" cy="1124.5" r="3.5"/>
<circle cx="1281.5" cy="1101.4" r="3.5"/>
<circle cx="1260.7" cy="1116.8" r="3.5"/>
<circle cx="1263.1" cy="1116.7" r="3.5"/>
<circle cx="1262.2" cy="1113.6" r="3.5"/>
<circle cx="1279.4" cy="1106" r="3.5"/>
<circle cx="1280.1" cy="1102" r="3.5"/>
<circle cx="1265.8" cy="1115.3" r="3.5"/>
<circle cx="1262.2" cy="1115.4" r="3.5"/>
<circle cx="1252.2" cy="1123.2" r="3.5"/>
<circle cx="1278.2" cy="1104.6" r="3.5"/>
<circle cx="1254.7" cy="1123.8" r="3.5"/>
<circle cx="1266.9" cy="1112.9" r="3.5"/>
<circle cx="1260.5" cy="1114.9" r="3.5"/>
<circle cx="1295.1" cy="1088.9" r="3.5"/>
<circle cx="1295.9" cy="1091.7" r="3.5"/>
<circle cx="1291.2" cy="1092.6" r="3.5"/>
<circle cx="1286.8" cy="1097.9" r="3.5"/>
<circle cx="1301" cy="1087.6" r="3.5"/>
<circle cx="1308.4" cy="1078.5" r="3.5"/>
<circle cx="1304.1" cy="1079.9" r="3.5"/>
<circle cx="1291.5" cy="1093.3" r="3.5"/>
<circle cx="1305.5" cy="1082.3" r="3.5"/>
<circle cx="1287.2" cy="1096.4" r="3.5"/>
<circle cx="1297.4" cy="1086.7" r="3.5"/>
<circle cx="1309.3" cy="1080.2" r="3.5"/>
<circle cx="1338.9" cy="1055.6" r="3.5"/>
<circle cx="1328.6" cy="1064.4" r="3.5"/>
<circle cx="1337.2" cy="1053.4" r="3.5"/>
<circle cx="1329.4" cy="1064.4" r="3.5"/>
<circle cx="1330" cy="1059.2" r="3.5"/>
<circle cx="1331.3" cy="1060.6" r="3.5"/>
<circle cx="1340.4" cy="1050.6" r="3.5"/>
<circle cx="1334.9" cy="1060.5" r="3.5"/>
<circle cx="1328.8" cy="1062.6" r="3.5"/>
<circle cx="1354.1" cy="1044.1" r="3.5"/>
<circle cx="1353.3" cy="1044.3" r="3.5"/>
<circle cx="1350.3" cy="1045.8" r="3.5"/>
<circle cx="1354.7" cy="1040.6" r="3.5"/>
<circle cx="1355.1" cy="1043" r="3.5"/>
<circle cx="1375.4" cy="1023.2" r="3.5"/>
<circle cx="1382.2" cy="1017.1" r="3.5"/>
<circle cx="1363.4" cy="1034.9" r="3.5"/>
<circle cx="1373.2" cy="1028.1" r="3.5"/>
<circle cx="1375.9" cy="1023.6" r="3.5"/>
<circle cx="1369.9" cy="1028" r="3.5"/>
<circle cx="1366.5" cy="1031" r="3.5"/>
<circle cx="1377.1" cy="1021.8" r="3.5"/>
<circle cx="1371.8" cy="1028.7" r="3.5"/>
<circle cx="1368.5" cy="1028.2" r="3.5"/>
<circle cx="1363.9" cy="1033.5" r="3.5"/>
<circle cx="1382.7" cy="1018.2" r="3.5"/>
<circle cx="1389.6" cy="1013.3" r="3.5"/>
<circle cx="1388.2" cy="1013.3" r="3.5"/>
<circle cx="1388.7" cy="1011" r="3.5"/>
<circle cx="1405.3" cy="999.3" r="3.5"/>
<circle cx="1414" cy="993.9" r="3.5"/>
<circle cx="1404.2" cy="998.8" r="3.5"/>
<circle cx="1405.6" cy="1002.2" r="3.5"/>
<circle cx="1403" cy="1000.1" r="3.5"/>
<circle cx="1408.3" cy="995.9" r="3.5"/>
<circle cx="1422.5" cy="984" r="3.5"/>
<circle cx="1424.2" cy="982.2" r="3.5"/>
<circle cx="1428.9" cy="981" r="3.5"/>
<circle cx="1431.3" cy="977.9" r="3.5"/>
<circle cx="1430.1" cy="979.6" r="3.5"/>
<circle cx="1420.4" cy="986" r="3.5"/>
<circle cx="1441.3" cy="968.7" r="3.5"/>
<circle cx="1447.6" cy="966.4" r="3.5"/>
<circle cx="1436.7" cy="973.7" r="3.5"/>
<circle cx="1439" cy="975.5" r="3.5"/>
<circle cx="1442.8" cy="966.3" r="3.5"/>
<circle cx="1465.8" cy="950.8" r="3.5"/>
<circle cx="1470.7" cy="941.9" r="3.5"/>
<circle cx="1470.3" cy="948.9" r="3.5"/>
<circle cx="1466.9" cy="945.3" r="3.5"/>
<circle cx="1464" cy="952.8" r="3.5"/>
<circle cx="1463.7" cy="952.1" r="3.5"/>
<circle cx="1464.2" cy="952.6" r="3.5"/>
<circle cx="1461.5" cy="951.2" r="3.5"/>
<circle cx="1469.6" cy="948.7" r="3.5"/>
<circle cx="1462.8" cy="953.3" r="3.5"/>
<circle cx="1472.6" cy="944.9" r="3.5"/>
<circle cx="1469.3" cy="946.3" r="3.5"/>
<circle cx="1461.4" cy="954.7" r="3.5"/>
<circle cx="1467.4" cy="947.1" r="3.5"/>
<circle cx="1468.7" cy="950.3" r="3.5"/>
<circle cx="1461.2" cy="955.9" r="3.5"/>
<circle cx="1467.2" cy="950" r="3.5"/>
<circle cx="1461.1" cy="952.5" r="3.5"/>
<circle cx="1482.5" cy="938.7" r="3.5"/>
<circle cx="1477" cy="941.8" r="3.5"/>
<circle cx="1481.6" cy="938.1" r="3.5"/>
<circle cx="1137.2" cy="1196.6" r="3.5"/>
<circle cx="1405.7" cy="1021" r="3.5"/>
<circle cx="1461.5" cy="984.5" r="3.5"/>
<circle cx="1483" cy="972.9" r="3.5"/>
<circle cx="1123" cy="1219.8" r="3.5"/>
<circle cx="1123" cy="1213.1" r="3.5"/>
<circle cx="1123" cy="1208.8" r="3.5"/>
<circle cx="1123.4" cy="1224.7" r="3.5"/>
<circle cx="1484.2" cy="947.1" r="3.5"/>
<circle cx="1479" cy="950.4" r="3.5"/>
<circle cx="1462.7" cy="944.8" r="3.5"/>
<circle cx="1330.5" cy="1054.1" r="3.5"/>
<circle cx="1331.7" cy="1064" r="3.5"/>
<circle cx="1311.3" cy="1073.3" r="3.5"/>
<circle cx="1311.3" cy="1079.6" r="3.5"/>
<circle cx="1424" cy="976.3" r="3.5"/>
<circle cx="1430.1" cy="974.6" r="3.5"/>
</g></g>
<text x="1123" y="1257.6" font-size="21.3" font-weight="bold" text-anchor="middle">0</text>
<text x="1111.6" y="1236.8" font-size="21.3" font-weight="bold" text-anchor="end">0</text>
<text x="1204.4" y="1257.6" font-size="21.3" font-weight="bold" text-anchor="middle">20</text>
<text x="1111.6" y="1170.5" font-size="21.3" font-weight="bold" text-anchor="end">20</text>
<text x="1285.7" y="1257.6" font-size="21.3" font-weight="bold" text-anchor="middle">40</text>
<text x="1111.6" y="1104.3" font-size="21.3" font-weight="bold" text-anchor="end">40</text>
<text x="1367.1" y="1257.6" font-size="21.3" font-weight="bold" text-anchor="middle">60</text>
<text x="1111.6" y="1038" font-size="21.3" font-weight="bold" text-anchor="end">60</text>
<text x="1448.4" y="1257.6" font-size="21.3" font-weight="bold" text-anchor="middle">80</text>
<text x="1111.6" y="971.8" font-size="21.3" font-weight="bold" text-anchor="end">80</text>
<text x="1529.8" y="1257.6" font-size="21.3" font-weight="bold" text-anchor="middle">100</text>
<text x="1111.6" y="905.5" font-size="21.3" font-weight="bold" text-anchor="end">100</text>
<circle cx="1157.7" cy="922.6" r="3.6" fill="#006400" fill-opacity="0.5"/>
<text x="1197" y="932" font-size="28.2" font-weight="bold" text-anchor="start">ANN-Phenol</text>
<text x="1413.3" y="933.7" font-size="27" font-weight="normal" text-anchor="start">y=x</text>
<text x="1524.7" y="1213.8" font-size="37.4" font-weight="bold" text-anchor="end">R<tspan font-size="26" dy="-16.8">2</tspan><tspan dy="16.8">=0.99</tspan></text>
<clipPath id="c110"><rect x="1594.6" y="897.4" width="413" height="333.3"/></clipPath>
<rect x="1595.6" y="898.4" width="411" height="331.3" fill="none" stroke="#484848" stroke-width="1.8"/>
<path d="M1595.6 1229.7v6.5M1595.6 1229.7h-6.5M1636.3 1229.7v3.3M1595.6 1196.6h-3.3M1677 1229.7v6.5M1595.6 1163.4h-6.5M1717.7 1229.7v3.3M1595.6 1130.3h-3.3M1758.4 1229.7v6.5M1595.6 1097.2h-6.5M1799.2 1229.7v3.3M1595.6 1064h-3.3M1839.9 1229.7v6.5M1595.6 1030.9h-6.5M1880.6 1229.7v3.3M1595.6 997.8h-3.3M1921.3 1229.7v6.5M1595.6 964.7h-6.5M1962 1229.7v3.3M1595.6 931.5h-3.3M2002.7 1229.7v6.5M1595.6 898.4h-6.5" stroke="#484848" stroke-width="1.8" fill="none"/>
<g clip-path="url(#c110)">
<line x1="1595.6" y1="1229.7" x2="2010.8" y2="891.8" stroke="#959595" stroke-width="1.1"/>
<g fill="#00008b" fill-opacity="0.5">
<circle cx="1601.8" cy="1223.4" r="3.5"/>
<circle cx="1596.5" cy="1229.7" r="3.5"/>
<circle cx="1602.1" cy="1228.2" r="3.5"/>
<circle cx="1596.8" cy="1228" r="3.5"/>
<circle cx="1596.4" cy="1229.7" r="3.5"/>
<circle cx="1599.8" cy="1222.1" r="3.5"/>
<circle cx="1597.8" cy="1229.7" r="3.5"/>
<circle cx="1601.4" cy="1225.8" r="3.5"/>
<circle cx="1597.1" cy="1227.8" r="3.5"/>
<circle cx="1601.9" cy="1226.3" r="3.5"/>
<circle cx="1597.7" cy="1226.9" r="3.5"/>
<circle cx="1630.6" cy="1203" r="3.5"/>
<circle cx="1624.5" cy="1207.1" r="3.5"/>
<circle cx="1630.4" cy="1201" r="3.5"/>
<circle cx="1625.1" cy="1207.1" r="3.5"/>
<circle cx="1609" cy="1213.3" r="3.5"/>
<circle cx="1629.3" cy="1203.5" r="3.5"/>
<circle cx="1622.2" cy="1209.9" r="3.5"/>
<circle cx="1615.4" cy="1216.9" r="3.5"/>
<circle cx="1612.5" cy="1216.3" r="3.5"/>
<circle cx="1640.8" cy="1192.4" r="3.5"/>
<circle cx="1639.4" cy="1194.2" r="3.5"/>
<circle cx="1641.3" cy="1193.6" r="3.5"/>
<circle cx="1662.2" cy="1172.6" r="3.5"/>
<circle cx="1656.6" cy="1177.5" r="3.5"/>
<circle cx="1658.5" cy="1176.2" r="3.5"/>
<circle cx="1657.2" cy="1180.8" r="3.5"/>
<circle cx="1652.2" cy="1183.5" r="3.5"/>
<circle cx="1662.2" cy="1175.7" r="3.5"/>
<circle cx="1671.3" cy="1168.4" r="3.5"/>
<circle cx="1680.4" cy="1158" r="3.5"/>
<circle cx="1676.1" cy="1166" r="3.5"/>
<circle cx="1668.9" cy="1171" r="3.5"/>
<circle cx="1678.6" cy="1161.4" r="3.5"/>
<circle cx="1669.5" cy="1169.6" r="3.5"/>
<circle cx="1667.5" cy="1173.5" r="3.5"/>
<circle cx="1674.4" cy="1160.7" r="3.5"/>
<circle cx="1667.3" cy="1172" r="3.5"/>
<circle cx="1680" cy="1165.1" r="3.5"/>
<circle cx="1674" cy="1164.4" r="3.5"/>
<circle cx="1674.2" cy="1169.3" r="3.5"/>
<circle cx="1672.7" cy="1166.3" r="3.5"/>
<circle cx="1697.8" cy="1146.8" r="3.5"/>
<circle cx="1692.1" cy="1148.5" r="3.5"/>
<circle cx="1692.7" cy="1149.5" r="3.5"/>
<circle cx="1710.3" cy="1136.2" r="3.5"/>
<circle cx="1707.9" cy="1138.4" r="3.5"/>
<circle cx="1710.4" cy="1133.8" r="3.5"/>
<circle cx="1739.5" cy="1116.6" r="3.5"/>
<circle cx="1735.9" cy="1113" r="3.5"/>
<circle cx="1743.7" cy="1111.8" r="3.5"/>
<circle cx="1739" cy="1112.6" r="3.5"/>
<circle cx="1724.7" cy="1126.1" r="3.5"/>
<circle cx="1754.2" cy="1096.6" r="3.5"/>
<circle cx="1733.4" cy="1112.4" r="3.5"/>
<circle cx="1735.8" cy="1116.5" r="3.5"/>
<circle cx="1734.9" cy="1117.3" r="3.5"/>
<circle cx="1752.1" cy="1100.3" r="3.5"/>
<circle cx="1752.8" cy="1100" r="3.5"/>
<circle cx="1734.9" cy="1117.1" r="3.5"/>
<circle cx="1727.4" cy="1119.6" r="3.5"/>
<circle cx="1739.6" cy="1110.1" r="3.5"/>
<circle cx="1733.2" cy="1117.2" r="3.5"/>
<circle cx="1767.8" cy="1090.2" r="3.5"/>
<circle cx="1768.6" cy="1090.7" r="3.5"/>
<circle cx="1763.9" cy="1094.3" r="3.5"/>
<circle cx="1759.5" cy="1098.9" r="3.5"/>
<circle cx="1773.7" cy="1084.6" r="3.5"/>
<circle cx="1781.1" cy="1076.7" r="3.5"/>
<circle cx="1776.9" cy="1079.6" r="3.5"/>
<circle cx="1764.2" cy="1093.2" r="3.5"/>
<circle cx="1778.2" cy="1081.8" r="3.5"/>
<circle cx="1759.9" cy="1100.8" r="3.5"/>
<circle cx="1770.2" cy="1086.5" r="3.5"/>
<circle cx="1782.1" cy="1074.9" r="3.5"/>
<circle cx="1801.3" cy="1059.1" r="3.5"/>
<circle cx="1810" cy="1051.2" r="3.5"/>
<circle cx="1802.2" cy="1064.3" r="3.5"/>
<circle cx="1802.7" cy="1060.8" r="3.5"/>
<circle cx="1804.1" cy="1061.2" r="3.5"/>
<circle cx="1813.2" cy="1056.4" r="3.5"/>
<circle cx="1807.7" cy="1055.7" r="3.5"/>
<circle cx="1801.6" cy="1062.3" r="3.5"/>
<circle cx="1826.9" cy="1042.3" r="3.5"/>
<circle cx="1826.1" cy="1043.4" r="3.5"/>
<circle cx="1827.5" cy="1035.6" r="3.5"/>
<circle cx="1827.9" cy="1038.3" r="3.5"/>
<circle cx="1848.2" cy="1024.7" r="3.5"/>
<circle cx="1846" cy="1027.8" r="3.5"/>
<circle cx="1842.7" cy="1030.8" r="3.5"/>
<circle cx="1839.3" cy="1024.5" r="3.5"/>
<circle cx="1849.9" cy="1020.4" r="3.5"/>
<circle cx="1844.6" cy="1027.7" r="3.5"/>
<circle cx="1836.6" cy="1035.6" r="3.5"/>
<circle cx="1855.5" cy="1020.7" r="3.5"/>
<circle cx="1862.4" cy="1013.4" r="3.5"/>
<circle cx="1878.1" cy="997" r="3.5"/>
<circle cx="1886.8" cy="992.2" r="3.5"/>
<circle cx="1877" cy="998.9" r="3.5"/>
<circle cx="1878.4" cy="997.1" r="3.5"/>
<circle cx="1875.8" cy="1001.1" r="3.5"/>
<circle cx="1881.1" cy="994.4" r="3.5"/>
<circle cx="1895.3" cy="984.7" r="3.5"/>
<circle cx="1897" cy="982.7" r="3.5"/>
<circle cx="1901.7" cy="979.9" r="3.5"/>
<circle cx="1904.1" cy="981.6" r="3.5"/>
<circle cx="1903" cy="981.4" r="3.5"/>
<circle cx="1893.2" cy="985.8" r="3.5"/>
<circle cx="1914.2" cy="973.7" r="3.5"/>
<circle cx="1920.5" cy="966.4" r="3.5"/>
<circle cx="1909.5" cy="973.5" r="3.5"/>
<circle cx="1911.8" cy="974.5" r="3.5"/>
<circle cx="1915.7" cy="967.6" r="3.5"/>
<circle cx="1938.6" cy="947.8" r="3.5"/>
<circle cx="1939.7" cy="946.9" r="3.5"/>
<circle cx="1936.8" cy="949.6" r="3.5"/>
<circle cx="1936.6" cy="949.4" r="3.5"/>
<circle cx="1937.1" cy="951.2" r="3.5"/>
<circle cx="1934.4" cy="958.8" r="3.5"/>
<circle cx="1942.4" cy="949.5" r="3.5"/>
<circle cx="1935.6" cy="953.8" r="3.5"/>
<circle cx="1945.5" cy="949.6" r="3.5"/>
<circle cx="1942.2" cy="946.8" r="3.5"/>
<circle cx="1934.3" cy="953.3" r="3.5"/>
<circle cx="1941.6" cy="948.1" r="3.5"/>
<circle cx="1934.1" cy="957.7" r="3.5"/>
<circle cx="1940" cy="950" r="3.5"/>
<circle cx="1933.9" cy="951.9" r="3.5"/>
<circle cx="1955.4" cy="936.2" r="3.5"/>
<circle cx="1949.8" cy="945.4" r="3.5"/>
<circle cx="1954.4" cy="937.8" r="3.5"/>
<circle cx="1598.9" cy="1199.9" r="3.5"/>
<circle cx="1597.6" cy="1213.1" r="3.5"/>
<circle cx="1596.4" cy="1219.8" r="3.5"/>
<circle cx="1609.8" cy="1208.2" r="3.5"/>
<circle cx="1617.2" cy="1206.5" r="3.5"/>
<circle cx="1933.5" cy="987.9" r="3.5"/>
<circle cx="1935.5" cy="972.9" r="3.5"/>
<circle cx="1935.9" cy="973.6" r="3.5"/>
<circle cx="1885.9" cy="1014.4" r="3.5"/>
<circle cx="1897.7" cy="1006.1" r="3.5"/>
<circle cx="1894.8" cy="997.8" r="3.5"/>
<circle cx="1876.5" cy="1010" r="3.5"/>
<circle cx="1889.5" cy="984.5" r="3.5"/>
<circle cx="1875.7" cy="1000.1" r="3.5"/>
<circle cx="1841.9" cy="1017.7" r="3.5"/>
<circle cx="1812.6" cy="1065" r="3.5"/>
<circle cx="1804.4" cy="1053.4" r="3.5"/>
<circle cx="1793" cy="1058.1" r="3.5"/>
<circle cx="1795.1" cy="1073" r="3.5"/>
<circle cx="1777.6" cy="1064.7" r="3.5"/>
<circle cx="1778.8" cy="1069.7" r="3.5"/>
<circle cx="1767.4" cy="1084.9" r="3.5"/>
<circle cx="1771.5" cy="1091.5" r="3.5"/>
<circle cx="1768.6" cy="1103.8" r="3.5"/>
<circle cx="1765.8" cy="1104.8" r="3.5"/>
<circle cx="1690.5" cy="1169.1" r="3.5"/>
<circle cx="1675" cy="1179.3" r="3.5"/>
<circle cx="1675" cy="1175" r="3.5"/>
<circle cx="1679.9" cy="1173.4" r="3.5"/>
<circle cx="1919.2" cy="973.9" r="3.5"/>
<circle cx="1902.1" cy="970.3" r="3.5"/>
<circle cx="1902.6" cy="971.3" r="3.5"/>
<circle cx="1955.9" cy="950.4" r="3.5"/>
<circle cx="1662.8" cy="1170.1" r="3.5"/>
<circle cx="1652.6" cy="1177.4" r="3.5"/>
<circle cx="1861.4" cy="1021" r="3.5"/>
<circle cx="1852.1" cy="1027.6" r="3.5"/>
<circle cx="1880.6" cy="1007.7" r="3.5"/>
</g></g>
<text x="1595.6" y="1257.6" font-size="21.3" font-weight="bold" text-anchor="middle">0</text>
<text x="1584.2" y="1236.8" font-size="21.3" font-weight="bold" text-anchor="end">0</text>
<text x="1677" y="1257.6" font-size="21.3" font-weight="bold" text-anchor="middle">20</text>
<text x="1584.2" y="1170.5" font-size="21.3" font-weight="bold" text-anchor="end">20</text>
<text x="1758.4" y="1257.6" font-size="21.3" font-weight="bold" text-anchor="middle">40</text>
<text x="1584.2" y="1104.3" font-size="21.3" font-weight="bold" text-anchor="end">40</text>
<text x="1839.9" y="1257.6" font-size="21.3" font-weight="bold" text-anchor="middle">60</text>
<text x="1584.2" y="1038" font-size="21.3" font-weight="bold" text-anchor="end">60</text>
<text x="1921.3" y="1257.6" font-size="21.3" font-weight="bold" text-anchor="middle">80</text>
<text x="1584.2" y="971.8" font-size="21.3" font-weight="bold" text-anchor="end">80</text>
<text x="2002.7" y="1257.6" font-size="21.3" font-weight="bold" text-anchor="middle">100</text>
<text x="1584.2" y="905.5" font-size="21.3" font-weight="bold" text-anchor="end">100</text>
<circle cx="1630.4" cy="922.6" r="3.6" fill="#00008b" fill-opacity="0.5"/>
<text x="1669.7" y="931.7" font-size="28.2" font-weight="bold" text-anchor="start">RF-Phenol</text>
<text x="1899.8" y="931.2" font-size="27" font-weight="normal" text-anchor="start">y=x</text>
<text x="1998.7" y="1213.8" font-size="37.4" font-weight="bold" text-anchor="end">R<tspan font-size="26" dy="-16.8">2</tspan><tspan dy="16.8">=0.99</tspan></text>
<clipPath id="c101"><rect x="1122" y="1283" width="413.1" height="332.9"/></clipPath>
<rect x="1123" y="1284" width="411.1" height="330.9" fill="none" stroke="#484848" stroke-width="1.8"/>
<path d="M1123 1614.9v6.5M1123 1614.9h-6.5M1163.7 1614.9v3.3M1123 1581.8h-3.3M1204.4 1614.9v6.5M1123 1548.7h-6.5M1245 1614.9v3.3M1123 1515.6h-3.3M1285.7 1614.9v6.5M1123 1482.5h-6.5M1326.4 1614.9v3.3M1123 1449.5h-3.3M1367.1 1614.9v6.5M1123 1416.4h-6.5M1407.8 1614.9v3.3M1123 1383.3h-3.3M1448.4 1614.9v6.5M1123 1350.2h-6.5M1489.1 1614.9v3.3M1123 1317.1h-3.3M1529.8 1614.9v6.5M1123 1284h-6.5" stroke="#484848" stroke-width="1.8" fill="none"/>
<g clip-path="url(#c101)">
<line x1="1123" y1="1614.9" x2="1537.9" y2="1277.4" stroke="#959595" stroke-width="1.1"/>
<g fill="#74084f" fill-opacity="0.5">
<circle cx="1129.2" cy="1608.4" r="3.5"/>
<circle cx="1123.9" cy="1612.2" r="3.5"/>
<circle cx="1123.2" cy="1614.9" r="3.5"/>
<circle cx="1129.5" cy="1609.2" r="3.5"/>
<circle cx="1124.2" cy="1614.5" r="3.5"/>
<circle cx="1123.8" cy="1614" r="3.5"/>
<circle cx="1127.2" cy="1611.1" r="3.5"/>
<circle cx="1125.2" cy="1613.8" r="3.5"/>
<circle cx="1128.8" cy="1608.1" r="3.5"/>
<circle cx="1124.5" cy="1614.4" r="3.5"/>
<circle cx="1129.3" cy="1606.7" r="3.5"/>
<circle cx="1125.1" cy="1612.3" r="3.5"/>
<circle cx="1149.9" cy="1592" r="3.5"/>
<circle cx="1157.9" cy="1585.5" r="3.5"/>
<circle cx="1151.9" cy="1593.4" r="3.5"/>
<circle cx="1157.7" cy="1587.8" r="3.5"/>
<circle cx="1152.5" cy="1590.4" r="3.5"/>
<circle cx="1136.4" cy="1603.8" r="3.5"/>
<circle cx="1156.7" cy="1588.8" r="3.5"/>
<circle cx="1149.6" cy="1592.6" r="3.5"/>
<circle cx="1142.8" cy="1599.7" r="3.5"/>
<circle cx="1139.8" cy="1598.4" r="3.5"/>
<circle cx="1168.2" cy="1580" r="3.5"/>
<circle cx="1166.8" cy="1580.2" r="3.5"/>
<circle cx="1168.6" cy="1578.9" r="3.5"/>
<circle cx="1167.8" cy="1574" r="3.5"/>
<circle cx="1189.6" cy="1560.7" r="3.5"/>
<circle cx="1183.9" cy="1566.3" r="3.5"/>
<circle cx="1185.8" cy="1565.2" r="3.5"/>
<circle cx="1184.6" cy="1567.3" r="3.5"/>
<circle cx="1179.5" cy="1569.9" r="3.5"/>
<circle cx="1189.5" cy="1558.4" r="3.5"/>
<circle cx="1198.6" cy="1556.4" r="3.5"/>
<circle cx="1205.3" cy="1547.1" r="3.5"/>
<circle cx="1207.8" cy="1546.2" r="3.5"/>
<circle cx="1203.5" cy="1549.9" r="3.5"/>
<circle cx="1196.2" cy="1552.3" r="3.5"/>
<circle cx="1205.9" cy="1547.6" r="3.5"/>
<circle cx="1203.7" cy="1549.4" r="3.5"/>
<circle cx="1196.8" cy="1555.2" r="3.5"/>
<circle cx="1194.9" cy="1556" r="3.5"/>
<circle cx="1201.8" cy="1550.4" r="3.5"/>
<circle cx="1194.6" cy="1556.6" r="3.5"/>
<circle cx="1207.4" cy="1544.6" r="3.5"/>
<circle cx="1201.4" cy="1553.1" r="3.5"/>
<circle cx="1201.6" cy="1550.3" r="3.5"/>
<circle cx="1200" cy="1551.4" r="3.5"/>
<circle cx="1203.6" cy="1550.3" r="3.5"/>
<circle cx="1225.1" cy="1528.7" r="3.5"/>
<circle cx="1219.5" cy="1539.2" r="3.5"/>
<circle cx="1220.1" cy="1535.8" r="3.5"/>
<circle cx="1237.6" cy="1520.5" r="3.5"/>
<circle cx="1235.2" cy="1523.6" r="3.5"/>
<circle cx="1237.7" cy="1521.5" r="3.5"/>
<circle cx="1266.8" cy="1501.7" r="3.5"/>
<circle cx="1263.2" cy="1502.5" r="3.5"/>
<circle cx="1271" cy="1496.3" r="3.5"/>
<circle cx="1266.3" cy="1500" r="3.5"/>
<circle cx="1252" cy="1509.3" r="3.5"/>
<circle cx="1281.5" cy="1489.3" r="3.5"/>
<circle cx="1260.7" cy="1503.5" r="3.5"/>
<circle cx="1263.1" cy="1500.4" r="3.5"/>
<circle cx="1262.2" cy="1500.6" r="3.5"/>
<circle cx="1279.4" cy="1487.2" r="3.5"/>
<circle cx="1280.1" cy="1487.1" r="3.5"/>
<circle cx="1265.8" cy="1498.8" r="3.5"/>
<circle cx="1262.2" cy="1502" r="3.5"/>
<circle cx="1252.2" cy="1509.5" r="3.5"/>
<circle cx="1278.2" cy="1487.9" r="3.5"/>
<circle cx="1254.7" cy="1506.8" r="3.5"/>
<circle cx="1266.9" cy="1495.5" r="3.5"/>
<circle cx="1260.5" cy="1500.8" r="3.5"/>
<circle cx="1295.1" cy="1475.6" r="3.5"/>
<circle cx="1295.9" cy="1474.2" r="3.5"/>
<circle cx="1291.2" cy="1478.4" r="3.5"/>
<circle cx="1286.8" cy="1478.6" r="3.5"/>
<circle cx="1301" cy="1468.2" r="3.5"/>
<circle cx="1308.4" cy="1464.7" r="3.5"/>
<circle cx="1304.1" cy="1465.6" r="3.5"/>
<circle cx="1291.5" cy="1477.5" r="3.5"/>
<circle cx="1305.5" cy="1466.9" r="3.5"/>
<circle cx="1287.2" cy="1482.5" r="3.5"/>
<circle cx="1297.4" cy="1472.7" r="3.5"/>
<circle cx="1309.3" cy="1465.4" r="3.5"/>
<circle cx="1338.9" cy="1438.8" r="3.5"/>
<circle cx="1328.6" cy="1444.7" r="3.5"/>
<circle cx="1337.2" cy="1439.6" r="3.5"/>
<circle cx="1329.4" cy="1449.8" r="3.5"/>
<circle cx="1330" cy="1448.1" r="3.5"/>
<circle cx="1331.3" cy="1445.6" r="3.5"/>
<circle cx="1340.4" cy="1438.3" r="3.5"/>
<circle cx="1334.9" cy="1441.3" r="3.5"/>
<circle cx="1328.8" cy="1451.1" r="3.5"/>
<circle cx="1354.1" cy="1425.6" r="3.5"/>
<circle cx="1353.3" cy="1428.3" r="3.5"/>
<circle cx="1350.3" cy="1429.1" r="3.5"/>
<circle cx="1354.7" cy="1425.8" r="3.5"/>
<circle cx="1355.1" cy="1423.9" r="3.5"/>
<circle cx="1375.4" cy="1412" r="3.5"/>
<circle cx="1382.2" cy="1403.8" r="3.5"/>
<circle cx="1363.4" cy="1421.3" r="3.5"/>
<circle cx="1373.2" cy="1414.5" r="3.5"/>
<circle cx="1375.9" cy="1410.2" r="3.5"/>
<circle cx="1369.9" cy="1413.9" r="3.5"/>
<circle cx="1366.5" cy="1415.4" r="3.5"/>
<circle cx="1377.1" cy="1412.4" r="3.5"/>
<circle cx="1371.8" cy="1410" r="3.5"/>
<circle cx="1368.5" cy="1416.1" r="3.5"/>
<circle cx="1363.9" cy="1416.9" r="3.5"/>
<circle cx="1382.7" cy="1400.7" r="3.5"/>
<circle cx="1389.6" cy="1395.9" r="3.5"/>
<circle cx="1388.2" cy="1403.4" r="3.5"/>
<circle cx="1388.7" cy="1399.6" r="3.5"/>
<circle cx="1405.3" cy="1385.6" r="3.5"/>
<circle cx="1414" cy="1379.4" r="3.5"/>
<circle cx="1404.2" cy="1387.8" r="3.5"/>
<circle cx="1405.6" cy="1382.9" r="3.5"/>
<circle cx="1403" cy="1389.3" r="3.5"/>
<circle cx="1408.3" cy="1383.1" r="3.5"/>
<circle cx="1422.5" cy="1370.1" r="3.5"/>
<circle cx="1424.2" cy="1370.7" r="3.5"/>
<circle cx="1428.9" cy="1365.6" r="3.5"/>
<circle cx="1431.3" cy="1366.3" r="3.5"/>
<circle cx="1430.1" cy="1364.5" r="3.5"/>
<circle cx="1420.4" cy="1371.3" r="3.5"/>
<circle cx="1441.3" cy="1357" r="3.5"/>
<circle cx="1447.6" cy="1349.1" r="3.5"/>
<circle cx="1436.7" cy="1359.5" r="3.5"/>
<circle cx="1439" cy="1357.6" r="3.5"/>
<circle cx="1442.8" cy="1355.7" r="3.5"/>
<circle cx="1465.8" cy="1337.4" r="3.5"/>
<circle cx="1470.7" cy="1332.6" r="3.5"/>
<circle cx="1470.3" cy="1332.2" r="3.5"/>
<circle cx="1466.9" cy="1336" r="3.5"/>
<circle cx="1464" cy="1338" r="3.5"/>
<circle cx="1463.7" cy="1334.9" r="3.5"/>
<circle cx="1464.2" cy="1337.1" r="3.5"/>
<circle cx="1461.5" cy="1343.2" r="3.5"/>
<circle cx="1469.6" cy="1335" r="3.5"/>
<circle cx="1462.8" cy="1338.6" r="3.5"/>
<circle cx="1472.6" cy="1332.4" r="3.5"/>
<circle cx="1469.3" cy="1333.6" r="3.5"/>
<circle cx="1461.4" cy="1336.8" r="3.5"/>
<circle cx="1467.4" cy="1337.6" r="3.5"/>
<circle cx="1468.7" cy="1330.7" r="3.5"/>
<circle cx="1461.2" cy="1340.9" r="3.5"/>
<circle cx="1467.2" cy="1335.6" r="3.5"/>
<circle cx="1461.1" cy="1339.7" r="3.5"/>
<circle cx="1482.5" cy="1323.8" r="3.5"/>
<circle cx="1477" cy="1329.5" r="3.5"/>
<circle cx="1481.6" cy="1323.8" r="3.5"/>
<circle cx="1176.7" cy="1559.3" r="3.5"/>
<circle cx="1180" cy="1563.6" r="3.5"/>
<circle cx="1258.5" cy="1518.9" r="3.5"/>
<circle cx="1232.8" cy="1533.2" r="3.5"/>
<circle cx="1216.6" cy="1534.5" r="3.5"/>
<circle cx="1258.5" cy="1498.1" r="3.5"/>
<circle cx="1279.6" cy="1481.9" r="3.5"/>
<circle cx="1286.5" cy="1473.3" r="3.5"/>
<circle cx="1304.8" cy="1454.4" r="3.5"/>
<circle cx="1320.3" cy="1447.8" r="3.5"/>
<circle cx="1322.3" cy="1456.7" r="3.5"/>
<circle cx="1325.6" cy="1463.7" r="3.5"/>
<circle cx="1331.7" cy="1454.4" r="3.5"/>
<circle cx="1373.2" cy="1419" r="3.5"/>
<circle cx="1377.7" cy="1415.4" r="3.5"/>
<circle cx="1436.2" cy="1350.8" r="3.5"/>
<circle cx="1439.1" cy="1350.2" r="3.5"/>
<circle cx="1198.3" cy="1560.3" r="3.5"/>
<circle cx="1208.4" cy="1553.7" r="3.5"/>
<circle cx="1200.3" cy="1546.4" r="3.5"/>
</g></g>
<text x="1123" y="1642.8" font-size="21.3" font-weight="bold" text-anchor="middle">0</text>
<text x="1111.6" y="1622" font-size="21.3" font-weight="bold" text-anchor="end">0</text>
<text x="1204.4" y="1642.8" font-size="21.3" font-weight="bold" text-anchor="middle">20</text>
<text x="1111.6" y="1555.8" font-size="21.3" font-weight="bold" text-anchor="end">20</text>
<text x="1285.7" y="1642.8" font-size="21.3" font-weight="bold" text-anchor="middle">40</text>
<text x="1111.6" y="1489.6" font-size="21.3" font-weight="bold" text-anchor="end">40</text>
<text x="1367.1" y="1642.8" font-size="21.3" font-weight="bold" text-anchor="middle">60</text>
<text x="1111.6" y="1423.5" font-size="21.3" font-weight="bold" text-anchor="end">60</text>
<text x="1448.4" y="1642.8" font-size="21.3" font-weight="bold" text-anchor="middle">80</text>
<text x="1111.6" y="1357.3" font-size="21.3" font-weight="bold" text-anchor="end">80</text>
<text x="1529.8" y="1642.8" font-size="21.3" font-weight="bold" text-anchor="middle">100</text>
<text x="1111.6" y="1291.1" font-size="21.3" font-weight="bold" text-anchor="end">100</text>
<circle cx="1156.6" cy="1308.2" r="3.6" fill="#74084f" fill-opacity="0.5"/>
<text x="1194.9" y="1317.9" font-size="28.2" font-weight="bold" text-anchor="start">XGBoost-Phenol</text>
<text x="1427.7" y="1316.6" font-size="27" font-weight="normal" text-anchor="start">y=x</text>
<text x="1523.4" y="1597.6" font-size="37.4" font-weight="bold" text-anchor="end">R<tspan font-size="26" dy="-16.8">2</tspan><tspan dy="16.8">=0.99</tspan></text>
<clipPath id="c111"><rect x="1594.6" y="1283" width="413" height="332.9"/></clipPath>
<rect x="1595.6" y="1284" width="411" height="330.9" fill="none" stroke="#484848" stroke-width="1.8"/>
<path d="M1595.6 1614.9v6.5M1595.6 1614.9h-6.5M1636.3 1614.9v3.3M1595.6 1581.8h-3.3M1677 1614.9v6.5M1595.6 1548.7h-6.5M1717.7 1614.9v3.3M1595.6 1515.6h-3.3M1758.4 1614.9v6.5M1595.6 1482.5h-6.5M1799.2 1614.9v3.3M1595.6 1449.5h-3.3M1839.9 1614.9v6.5M1595.6 1416.4h-6.5M1880.6 1614.9v3.3M1595.6 1383.3h-3.3M1921.3 1614.9v6.5M1595.6 1350.2h-6.5M1962 1614.9v3.3M1595.6 1317.1h-3.3M2002.7 1614.9v6.5M1595.6 1284h-6.5" stroke="#484848" stroke-width="1.8" fill="none"/>
<g clip-path="url(#c111)">
<line x1="1595.6" y1="1614.9" x2="2010.8" y2="1277.4" stroke="#959595" stroke-width="1.1"/>
<g fill="#e6500a" fill-opacity="0.5">
<circle cx="1601.8" cy="1609.6" r="3.5"/>
<circle cx="1596.5" cy="1614.2" r="3.5"/>
<circle cx="1595.8" cy="1614.7" r="3.5"/>
<circle cx="1602.1" cy="1608.1" r="3.5"/>
<circle cx="1596.8" cy="1614.3" r="3.5"/>
<circle cx="1596.4" cy="1614.1" r="3.5"/>
<circle cx="1599.8" cy="1611.4" r="3.5"/>
<circle cx="1597.8" cy="1613.2" r="3.5"/>
<circle cx="1601.4" cy="1610.2" r="3.5"/>
<circle cx="1597.1" cy="1613.3" r="3.5"/>
<circle cx="1601.9" cy="1609.6" r="3.5"/>
<circle cx="1597.7" cy="1613" r="3.5"/>
<circle cx="1622.5" cy="1593.3" r="3.5"/>
<circle cx="1630.6" cy="1586.7" r="3.5"/>
<circle cx="1624.5" cy="1591.5" r="3.5"/>
<circle cx="1630.4" cy="1587.1" r="3.5"/>
<circle cx="1625.1" cy="1591.1" r="3.5"/>
<circle cx="1609" cy="1604.1" r="3.5"/>
<circle cx="1629.3" cy="1587.7" r="3.5"/>
<circle cx="1622.2" cy="1593.3" r="3.5"/>
<circle cx="1615.4" cy="1598.9" r="3.5"/>
<circle cx="1612.5" cy="1602" r="3.5"/>
<circle cx="1640.8" cy="1578" r="3.5"/>
<circle cx="1639.4" cy="1579.5" r="3.5"/>
<circle cx="1641.3" cy="1578" r="3.5"/>
<circle cx="1640.4" cy="1579.1" r="3.5"/>
<circle cx="1662.2" cy="1561" r="3.5"/>
<circle cx="1656.6" cy="1565.3" r="3.5"/>
<circle cx="1658.5" cy="1563.9" r="3.5"/>
<circle cx="1657.2" cy="1564.8" r="3.5"/>
<circle cx="1652.2" cy="1569" r="3.5"/>
<circle cx="1662.2" cy="1561.1" r="3.5"/>
<circle cx="1671.3" cy="1553.6" r="3.5"/>
<circle cx="1678" cy="1547.7" r="3.5"/>
<circle cx="1680.4" cy="1545.5" r="3.5"/>
<circle cx="1676.1" cy="1550.2" r="3.5"/>
<circle cx="1668.9" cy="1555" r="3.5"/>
<circle cx="1678.6" cy="1546.9" r="3.5"/>
<circle cx="1676.4" cy="1549.2" r="3.5"/>
<circle cx="1669.5" cy="1555.2" r="3.5"/>
<circle cx="1667.5" cy="1556.6" r="3.5"/>
<circle cx="1674.4" cy="1550.6" r="3.5"/>
<circle cx="1667.3" cy="1557" r="3.5"/>
<circle cx="1680" cy="1546" r="3.5"/>
<circle cx="1674" cy="1551.2" r="3.5"/>
<circle cx="1674.2" cy="1550.8" r="3.5"/>
<circle cx="1672.7" cy="1552.6" r="3.5"/>
<circle cx="1676.2" cy="1549.4" r="3.5"/>
<circle cx="1697.8" cy="1532.1" r="3.5"/>
<circle cx="1692.1" cy="1537.5" r="3.5"/>
<circle cx="1692.7" cy="1535.7" r="3.5"/>
<circle cx="1710.3" cy="1521.4" r="3.5"/>
<circle cx="1707.9" cy="1524.2" r="3.5"/>
<circle cx="1710.4" cy="1520.8" r="3.5"/>
<circle cx="1739.5" cy="1497.7" r="3.5"/>
<circle cx="1735.9" cy="1500.1" r="3.5"/>
<circle cx="1743.7" cy="1494.4" r="3.5"/>
<circle cx="1739" cy="1499.5" r="3.5"/>
<circle cx="1724.7" cy="1509.6" r="3.5"/>
<circle cx="1754.2" cy="1486" r="3.5"/>
<circle cx="1733.4" cy="1503.4" r="3.5"/>
<circle cx="1735.8" cy="1500.9" r="3.5"/>
<circle cx="1734.9" cy="1502" r="3.5"/>
<circle cx="1752.1" cy="1487.9" r="3.5"/>
<circle cx="1752.8" cy="1487.2" r="3.5"/>
<circle cx="1738.5" cy="1499.4" r="3.5"/>
<circle cx="1734.9" cy="1501.9" r="3.5"/>
<circle cx="1724.9" cy="1509.5" r="3.5"/>
<circle cx="1750.9" cy="1488.1" r="3.5"/>
<circle cx="1727.4" cy="1507.4" r="3.5"/>
<circle cx="1739.6" cy="1497.5" r="3.5"/>
<circle cx="1733.2" cy="1503" r="3.5"/>
<circle cx="1767.8" cy="1474.3" r="3.5"/>
<circle cx="1768.6" cy="1474.4" r="3.5"/>
<circle cx="1763.9" cy="1478" r="3.5"/>
<circle cx="1759.5" cy="1481.4" r="3.5"/>
<circle cx="1773.7" cy="1470.2" r="3.5"/>
<circle cx="1781.1" cy="1464.1" r="3.5"/>
<circle cx="1776.9" cy="1467.6" r="3.5"/>
<circle cx="1764.2" cy="1478.8" r="3.5"/>
<circle cx="1778.2" cy="1466.6" r="3.5"/>
<circle cx="1759.9" cy="1480.9" r="3.5"/>
<circle cx="1770.2" cy="1472.3" r="3.5"/>
<circle cx="1782.1" cy="1463.6" r="3.5"/>
<circle cx="1811.6" cy="1438.6" r="3.5"/>
<circle cx="1801.3" cy="1447.9" r="3.5"/>
<circle cx="1810" cy="1440.5" r="3.5"/>
<circle cx="1802.2" cy="1446.6" r="3.5"/>
<circle cx="1802.7" cy="1446.7" r="3.5"/>
<circle cx="1804.1" cy="1445.1" r="3.5"/>
<circle cx="1813.2" cy="1438.4" r="3.5"/>
<circle cx="1807.7" cy="1443.4" r="3.5"/>
<circle cx="1801.6" cy="1447.8" r="3.5"/>
<circle cx="1826.9" cy="1427.1" r="3.5"/>
<circle cx="1826.1" cy="1428.3" r="3.5"/>
<circle cx="1823.1" cy="1430.1" r="3.5"/>
<circle cx="1827.5" cy="1426.5" r="3.5"/>
<circle cx="1827.9" cy="1426.5" r="3.5"/>
<circle cx="1848.2" cy="1409.4" r="3.5"/>
<circle cx="1855" cy="1404.3" r="3.5"/>
<circle cx="1836.2" cy="1419.7" r="3.5"/>
<circle cx="1846" cy="1411.4" r="3.5"/>
<circle cx="1848.7" cy="1409.8" r="3.5"/>
<circle cx="1842.7" cy="1413.2" r="3.5"/>
<circle cx="1839.3" cy="1416.8" r="3.5"/>
<circle cx="1849.9" cy="1407.5" r="3.5"/>
<circle cx="1844.6" cy="1413" r="3.5"/>
<circle cx="1841.2" cy="1414.7" r="3.5"/>
<circle cx="1836.6" cy="1419.4" r="3.5"/>
<circle cx="1855.5" cy="1404.2" r="3.5"/>
<circle cx="1862.4" cy="1398" r="3.5"/>
<circle cx="1860.9" cy="1399.5" r="3.5"/>
<circle cx="1861.5" cy="1398.4" r="3.5"/>
<circle cx="1878.1" cy="1385.1" r="3.5"/>
<circle cx="1886.8" cy="1378" r="3.5"/>
<circle cx="1877" cy="1386.2" r="3.5"/>
<circle cx="1878.4" cy="1385.2" r="3.5"/>
<circle cx="1875.8" cy="1387.4" r="3.5"/>
<circle cx="1881.1" cy="1382.4" r="3.5"/>
<circle cx="1895.3" cy="1371.7" r="3.5"/>
<circle cx="1897" cy="1369.7" r="3.5"/>
<circle cx="1901.7" cy="1366.6" r="3.5"/>
<circle cx="1904.1" cy="1364.3" r="3.5"/>
<circle cx="1903" cy="1364.7" r="3.5"/>
<circle cx="1893.2" cy="1372.5" r="3.5"/>
<circle cx="1914.2" cy="1355.6" r="3.5"/>
<circle cx="1920.5" cy="1350.8" r="3.5"/>
<circle cx="1909.5" cy="1359.3" r="3.5"/>
<circle cx="1911.8" cy="1357.7" r="3.5"/>
<circle cx="1915.7" cy="1354.6" r="3.5"/>
<circle cx="1938.6" cy="1336.1" r="3.5"/>
<circle cx="1943.6" cy="1332.2" r="3.5"/>
<circle cx="1943.1" cy="1332.5" r="3.5"/>
<circle cx="1939.7" cy="1335.9" r="3.5"/>
<circle cx="1936.8" cy="1337" r="3.5"/>
<circle cx="1936.6" cy="1338.2" r="3.5"/>
<circle cx="1937.1" cy="1336.1" r="3.5"/>
<circle cx="1934.4" cy="1340.1" r="3.5"/>
<circle cx="1942.4" cy="1333.2" r="3.5"/>
<circle cx="1935.6" cy="1338.2" r="3.5"/>
<circle cx="1945.5" cy="1329.8" r="3.5"/>
<circle cx="1942.2" cy="1332.9" r="3.5"/>
<circle cx="1934.3" cy="1340.4" r="3.5"/>
<circle cx="1940.2" cy="1334.3" r="3.5"/>
<circle cx="1941.6" cy="1333.1" r="3.5"/>
<circle cx="1934.1" cy="1340.1" r="3.5"/>
<circle cx="1940" cy="1335.5" r="3.5"/>
<circle cx="1933.9" cy="1339.4" r="3.5"/>
<circle cx="1955.4" cy="1322.6" r="3.5"/>
<circle cx="1949.8" cy="1327.4" r="3.5"/>
<circle cx="1954.4" cy="1324.3" r="3.5"/>
<circle cx="1598.9" cy="1568.6" r="3.5"/>
<circle cx="1672.9" cy="1472.6" r="3.5"/>
<circle cx="1697.4" cy="1486.8" r="3.5"/>
<circle cx="1767.8" cy="1507.4" r="3.5"/>
<circle cx="1777.6" cy="1425.6" r="3.5"/>
<circle cx="1793" cy="1411.4" r="3.5"/>
<circle cx="1795.1" cy="1428.9" r="3.5"/>
<circle cx="1839" cy="1431.9" r="3.5"/>
<circle cx="1850" cy="1431.9" r="3.5"/>
<circle cx="1875.3" cy="1408.4" r="3.5"/>
<circle cx="1878.5" cy="1340.3" r="3.5"/>
<circle cx="1885.9" cy="1431.9" r="3.5"/>
<circle cx="1889.9" cy="1428.6" r="3.5"/>
<circle cx="1922.5" cy="1335.3" r="3.5"/>
<circle cx="1637.5" cy="1589.1" r="3.5"/>
<circle cx="1640" cy="1589.4" r="3.5"/>
<circle cx="1679.9" cy="1556" r="3.5"/>
<circle cx="1690" cy="1555.7" r="3.5"/>
<circle cx="1697.4" cy="1552" r="3.5"/>
<circle cx="1951.8" cy="1321.4" r="3.5"/>
</g></g>
<text x="1595.6" y="1642.8" font-size="21.3" font-weight="bold" text-anchor="middle">0</text>
<text x="1584.2" y="1622" font-size="21.3" font-weight="bold" text-anchor="end">0</text>
<text x="1677" y="1642.8" font-size="21.3" font-weight="bold" text-anchor="middle">20</text>
<text x="1584.2" y="1555.8" font-size="21.3" font-weight="bold" text-anchor="end">20</text>
<text x="1758.4" y="1642.8" font-size="21.3" font-weight="bold" text-anchor="middle">40</text>
<text x="1584.2" y="1489.6" font-size="21.3" font-weight="bold" text-anchor="end">40</text>
<text x="1839.9" y="1642.8" font-size="21.3" font-weight="bold" text-anchor="middle">60</text>
<text x="1584.2" y="1423.5" font-size="21.3" font-weight="bold" text-anchor="end">60</text>
<text x="1921.3" y="1642.8" font-size="21.3" font-weight="bold" text-anchor="middle">80</text>
<text x="1584.2" y="1357.3" font-size="21.3" font-weight="bold" text-anchor="end">80</text>
<text x="2002.7" y="1642.8" font-size="21.3" font-weight="bold" text-anchor="middle">100</text>
<text x="1584.2" y="1291.1" font-size="21.3" font-weight="bold" text-anchor="end">100</text>
<circle cx="1627.2" cy="1306" r="3.6" fill="#e6500a" fill-opacity="0.5"/>
<text x="1667.1" y="1315.5" font-size="28.2" font-weight="bold" text-anchor="start">DT-Phenol</text>
<text x="1903.5" y="1313.9" font-size="27" font-weight="normal" text-anchor="start">y=x</text>
<text x="1996.6" y="1597.6" font-size="37.4" font-weight="bold" text-anchor="end">R<tspan font-size="26" dy="-16.8">2</tspan><tspan dy="16.8">=0.96</tspan></text>
<text x="1582.5" y="1693.9" font-size="37.8" font-weight="bold" text-anchor="middle">Actual Value (%)</text>
<text transform="translate(1055.2 1260.9) rotate(-90)" font-size="38" font-weight="bold" text-anchor="middle">Prediction Value (%)</text>
<text x="997.4" y="944.8" font-size="51.6" font-weight="bold" text-anchor="start">(d)</text>
<clipPath id="c200"><rect x="1122" y="1743.9" width="413.1" height="333"/></clipPath>
<rect x="1123" y="1744.9" width="411.1" height="331" fill="none" stroke="#484848" stroke-width="1.8"/>
<path d="M1123 2075.9v6.5M1123 2075.9h-6.5M1164.1 2075.9v3.3M1123 2042.8h-3.3M1205.2 2075.9v6.5M1123 2009.7h-6.5M1246.3 2075.9v3.3M1123 1976.6h-3.3M1287.4 2075.9v6.5M1123 1943.5h-6.5M1328.5 2075.9v3.3M1123 1910.4h-3.3M1369.7 2075.9v6.5M1123 1877.3h-6.5M1410.8 2075.9v3.3M1123 1844.2h-3.3M1451.9 2075.9v6.5M1123 1811.1h-6.5M1493 2075.9v3.3M1123 1778h-3.3M1534.1 2075.9v6.5M1123 1744.9h-6.5" stroke="#484848" stroke-width="1.8" fill="none"/>
<g clip-path="url(#c200)">
<line x1="1123" y1="2075.9" x2="1542.3" y2="1738.3" stroke="#959595" stroke-width="1.1"/>
<g fill="#006400" fill-opacity="0.5">
<circle cx="1126.3" cy="2073.8" r="3.5"/>
<circle cx="1126.7" cy="2072.4" r="3.5"/>
<circle cx="1127.7" cy="2075.3" r="3.5"/>
<circle cx="1124.6" cy="2074.7" r="3.5"/>
<circle cx="1126.7" cy="2073.2" r="3.5"/>
<circle cx="1128.1" cy="2072.1" r="3.5"/>
<circle cx="1128.2" cy="2074" r="3.5"/>
<circle cx="1124.1" cy="2074.3" r="3.5"/>
<circle cx="1126.7" cy="2071.5" r="3.5"/>
<circle cx="1126.5" cy="2071.9" r="3.5"/>
<circle cx="1125.9" cy="2073.4" r="3.5"/>
<circle cx="1128.5" cy="2072.9" r="3.5"/>
<circle cx="1142.8" cy="2060.5" r="3.5"/>
<circle cx="1142" cy="2058.5" r="3.5"/>
<circle cx="1147.1" cy="2055.5" r="3.5"/>
<circle cx="1143.9" cy="2058.5" r="3.5"/>
<circle cx="1140.5" cy="2061.5" r="3.5"/>
<circle cx="1140.6" cy="2062.7" r="3.5"/>
<circle cx="1142.5" cy="2058.9" r="3.5"/>
<circle cx="1163.8" cy="2042.6" r="3.5"/>
<circle cx="1169.3" cy="2041.5" r="3.5"/>
<circle cx="1195.1" cy="2016.4" r="3.5"/>
<circle cx="1188.1" cy="2022" r="3.5"/>
<circle cx="1197.7" cy="2014.5" r="3.5"/>
<circle cx="1199.5" cy="2013.7" r="3.5"/>
<circle cx="1191.1" cy="2021.1" r="3.5"/>
<circle cx="1193.9" cy="2017.3" r="3.5"/>
<circle cx="1181.1" cy="2028.2" r="3.5"/>
<circle cx="1179.8" cy="2031.9" r="3.5"/>
<circle cx="1200.7" cy="2012.1" r="3.5"/>
<circle cx="1184.9" cy="2025.1" r="3.5"/>
<circle cx="1183.3" cy="2025.5" r="3.5"/>
<circle cx="1198.8" cy="2016.8" r="3.5"/>
<circle cx="1195.4" cy="2018.2" r="3.5"/>
<circle cx="1181.3" cy="2023.7" r="3.5"/>
<circle cx="1185.8" cy="2025.5" r="3.5"/>
<circle cx="1184" cy="2025.8" r="3.5"/>
<circle cx="1184.7" cy="2026.6" r="3.5"/>
<circle cx="1178.7" cy="2032.6" r="3.5"/>
<circle cx="1215.6" cy="1999.7" r="3.5"/>
<circle cx="1214.7" cy="2000.9" r="3.5"/>
<circle cx="1215" cy="2001.1" r="3.5"/>
<circle cx="1227.5" cy="1993.2" r="3.5"/>
<circle cx="1227.3" cy="1991.5" r="3.5"/>
<circle cx="1227.1" cy="1989.4" r="3.5"/>
<circle cx="1255.5" cy="1968.9" r="3.5"/>
<circle cx="1252.4" cy="1971.3" r="3.5"/>
<circle cx="1247.8" cy="1973.9" r="3.5"/>
<circle cx="1237" cy="1984.5" r="3.5"/>
<circle cx="1237.7" cy="1984.1" r="3.5"/>
<circle cx="1237" cy="1983.7" r="3.5"/>
<circle cx="1241.8" cy="1982.9" r="3.5"/>
<circle cx="1235.4" cy="1985.4" r="3.5"/>
<circle cx="1240.8" cy="1978.6" r="3.5"/>
<circle cx="1239" cy="1981" r="3.5"/>
<circle cx="1238.8" cy="1983" r="3.5"/>
<circle cx="1250.1" cy="1975" r="3.5"/>
<circle cx="1277.1" cy="1950.3" r="3.5"/>
<circle cx="1277.5" cy="1951.5" r="3.5"/>
<circle cx="1274.4" cy="1953.5" r="3.5"/>
<circle cx="1279.2" cy="1946" r="3.5"/>
<circle cx="1285.8" cy="1946.2" r="3.5"/>
<circle cx="1273.1" cy="1954.1" r="3.5"/>
<circle cx="1266.7" cy="1959.8" r="3.5"/>
<circle cx="1277.7" cy="1950" r="3.5"/>
<circle cx="1274.9" cy="1953.8" r="3.5"/>
<circle cx="1285.7" cy="1944.5" r="3.5"/>
<circle cx="1267.8" cy="1958.8" r="3.5"/>
<circle cx="1288.1" cy="1941.4" r="3.5"/>
<circle cx="1299.9" cy="1932.8" r="3.5"/>
<circle cx="1306.5" cy="1930.5" r="3.5"/>
<circle cx="1305.2" cy="1927.1" r="3.5"/>
<circle cx="1303.7" cy="1930" r="3.5"/>
<circle cx="1310.7" cy="1927.8" r="3.5"/>
<circle cx="1324.1" cy="1912.3" r="3.5"/>
<circle cx="1321.2" cy="1915.8" r="3.5"/>
<circle cx="1323" cy="1912.7" r="3.5"/>
<circle cx="1348.2" cy="1893.3" r="3.5"/>
<circle cx="1331.6" cy="1907.2" r="3.5"/>
<circle cx="1333.1" cy="1905.2" r="3.5"/>
<circle cx="1347.9" cy="1894" r="3.5"/>
<circle cx="1351.6" cy="1890.3" r="3.5"/>
<circle cx="1343.9" cy="1897.7" r="3.5"/>
<circle cx="1342.7" cy="1899.1" r="3.5"/>
<circle cx="1345.2" cy="1898.7" r="3.5"/>
<circle cx="1338.1" cy="1903.2" r="3.5"/>
<circle cx="1355.8" cy="1886.5" r="3.5"/>
<circle cx="1358.3" cy="1885.6" r="3.5"/>
<circle cx="1344.5" cy="1898" r="3.5"/>
<circle cx="1331.2" cy="1910.6" r="3.5"/>
<circle cx="1342" cy="1901.2" r="3.5"/>
<circle cx="1353.7" cy="1889.6" r="3.5"/>
<circle cx="1339.9" cy="1902.4" r="3.5"/>
<circle cx="1362.4" cy="1884" r="3.5"/>
<circle cx="1363.2" cy="1881.4" r="3.5"/>
<circle cx="1368.2" cy="1880.7" r="3.5"/>
<circle cx="1367.3" cy="1877.2" r="3.5"/>
<circle cx="1364.2" cy="1881.3" r="3.5"/>
<circle cx="1386.4" cy="1864.3" r="3.5"/>
<circle cx="1387.7" cy="1862.4" r="3.5"/>
<circle cx="1389.9" cy="1860.8" r="3.5"/>
<circle cx="1388.5" cy="1861.6" r="3.5"/>
<circle cx="1384.4" cy="1865.8" r="3.5"/>
<circle cx="1415.1" cy="1840.8" r="3.5"/>
<circle cx="1417.5" cy="1838.8" r="3.5"/>
<circle cx="1416.3" cy="1839.9" r="3.5"/>
<circle cx="1413.9" cy="1837.4" r="3.5"/>
<circle cx="1410.5" cy="1845.1" r="3.5"/>
<circle cx="1409" cy="1846.3" r="3.5"/>
<circle cx="1415.9" cy="1839.2" r="3.5"/>
<circle cx="1411.3" cy="1843.7" r="3.5"/>
<circle cx="1413.3" cy="1841.5" r="3.5"/>
<circle cx="1403.1" cy="1848.9" r="3.5"/>
<circle cx="1426.8" cy="1831.5" r="3.5"/>
<circle cx="1430.2" cy="1830" r="3.5"/>
<circle cx="1436" cy="1824.1" r="3.5"/>
<circle cx="1435.8" cy="1824.1" r="3.5"/>
<circle cx="1428.8" cy="1827.8" r="3.5"/>
<circle cx="1428.7" cy="1829.5" r="3.5"/>
<circle cx="1442.8" cy="1818.6" r="3.5"/>
<circle cx="1426.5" cy="1830.5" r="3.5"/>
<circle cx="1442.3" cy="1818.4" r="3.5"/>
<circle cx="1439.4" cy="1821" r="3.5"/>
<circle cx="1435.8" cy="1823.5" r="3.5"/>
<circle cx="1443.6" cy="1816.5" r="3.5"/>
<circle cx="1437.7" cy="1826.4" r="3.5"/>
<circle cx="1425.3" cy="1829.7" r="3.5"/>
<circle cx="1455" cy="1809.8" r="3.5"/>
<circle cx="1454" cy="1808.4" r="3.5"/>
<circle cx="1410.8" cy="1864.1" r="3.5"/>
<circle cx="1453.9" cy="1839.2" r="3.5"/>
<circle cx="1453.9" cy="1816.1" r="3.5"/>
<circle cx="1453.1" cy="1816.7" r="3.5"/>
<circle cx="1345" cy="1904.8" r="3.5"/>
<circle cx="1164.1" cy="2049.4" r="3.5"/>
<circle cx="1172.3" cy="2040.5" r="3.5"/>
<circle cx="1146.4" cy="2063.7" r="3.5"/>
<circle cx="1186.7" cy="2031.9" r="3.5"/>
<circle cx="1199.1" cy="2022.3" r="3.5"/>
</g></g>
<text x="1123" y="2103.8" font-size="21.3" font-weight="bold" text-anchor="middle">0</text>
<text x="1111.6" y="2083" font-size="21.3" font-weight="bold" text-anchor="end">0</text>
<text x="1205.2" y="2103.8" font-size="21.3" font-weight="bold" text-anchor="middle">20</text>
<text x="1111.6" y="2016.8" font-size="21.3" font-weight="bold" text-anchor="end">20</text>
<text x="1287.4" y="2103.8" font-size="21.3" font-weight="bold" text-anchor="middle">40</text>
<text x="1111.6" y="1950.6" font-size="21.3" font-weight="bold" text-anchor="end">40</text>
<text x="1369.7" y="2103.8" font-size="21.3" font-weight="bold" text-anchor="middle">60</text>
<text x="1111.6" y="1884.4" font-size="21.3" font-weight="bold" text-anchor="end">60</text>
<text x="1451.9" y="2103.8" font-size="21.3" font-weight="bold" text-anchor="middle">80</text>
<text x="1111.6" y="1818.2" font-size="21.3" font-weight="bold" text-anchor="end">80</text>
<text x="1534.1" y="2103.8" font-size="21.3" font-weight="bold" text-anchor="middle">100</text>
<text x="1111.6" y="1752" font-size="21.3" font-weight="bold" text-anchor="end">100</text>
<circle cx="1160.3" cy="1771.1" r="3.6" fill="#006400" fill-opacity="0.5"/>
<text x="1198.8" y="1780.2" font-size="28.2" font-weight="bold" text-anchor="start">ANN-Acetophenone</text>
<text x="1480.1" y="1825.3" font-size="27" font-weight="normal" text-anchor="start">y=x</text>
<text x="1524.7" y="2060" font-size="37.4" font-weight="bold" text-anchor="end">R<tspan font-size="26" dy="-16.8">2</tspan><tspan dy="16.8">=0.99</tspan></text>
<clipPath id="c210"><rect x="1594.6" y="1743.9" width="413" height="333"/></clipPath>
<rect x="1595.6" y="1744.9" width="411" height="331" fill="none" stroke="#484848" stroke-width="1.8"/>
<path d="M1595.6 2075.9v6.5M1595.6 2075.9h-6.5M1636.3 2075.9v3.3M1595.6 2042.8h-3.3M1677 2075.9v6.5M1595.6 2009.7h-6.5M1717.7 2075.9v3.3M1595.6 1976.6h-3.3M1758.4 2075.9v6.5M1595.6 1943.5h-6.5M1799.2 2075.9v3.3M1595.6 1910.4h-3.3M1839.9 2075.9v6.5M1595.6 1877.3h-6.5M1880.6 2075.9v3.3M1595.6 1844.2h-3.3M1921.3 2075.9v6.5M1595.6 1811.1h-6.5M1962 2075.9v3.3M1595.6 1778h-3.3M2002.7 2075.9v6.5M1595.6 1744.9h-6.5" stroke="#484848" stroke-width="1.8" fill="none"/>
<g clip-path="url(#c210)">
<line x1="1595.6" y1="2075.9" x2="2010.8" y2="1738.3" stroke="#959595" stroke-width="1.1"/>
<g fill="#00008b" fill-opacity="0.5">
<circle cx="1598.9" cy="2075.9" r="3.5"/>
<circle cx="1599.2" cy="2071.6" r="3.5"/>
<circle cx="1600.2" cy="2070.5" r="3.5"/>
<circle cx="1597.2" cy="2075.9" r="3.5"/>
<circle cx="1599.3" cy="2073.7" r="3.5"/>
<circle cx="1600.7" cy="2070.1" r="3.5"/>
<circle cx="1600.8" cy="2067" r="3.5"/>
<circle cx="1596.7" cy="2073.7" r="3.5"/>
<circle cx="1599.3" cy="2073.6" r="3.5"/>
<circle cx="1599.1" cy="2069.4" r="3.5"/>
<circle cx="1598.4" cy="2074.3" r="3.5"/>
<circle cx="1601.1" cy="2072.6" r="3.5"/>
<circle cx="1615.2" cy="2056.6" r="3.5"/>
<circle cx="1614.4" cy="2061.3" r="3.5"/>
<circle cx="1619.5" cy="2052.6" r="3.5"/>
<circle cx="1616.3" cy="2054.6" r="3.5"/>
<circle cx="1612.9" cy="2060.1" r="3.5"/>
<circle cx="1613" cy="2063.1" r="3.5"/>
<circle cx="1614.9" cy="2057.2" r="3.5"/>
<circle cx="1636" cy="2041.7" r="3.5"/>
<circle cx="1641.4" cy="2038.2" r="3.5"/>
<circle cx="1667" cy="2015.3" r="3.5"/>
<circle cx="1660.1" cy="2021.9" r="3.5"/>
<circle cx="1669.5" cy="2019.1" r="3.5"/>
<circle cx="1671.3" cy="2012.4" r="3.5"/>
<circle cx="1663" cy="2018.5" r="3.5"/>
<circle cx="1665.8" cy="2015.6" r="3.5"/>
<circle cx="1653.2" cy="2026.3" r="3.5"/>
<circle cx="1651.8" cy="2028.1" r="3.5"/>
<circle cx="1672.5" cy="2019" r="3.5"/>
<circle cx="1656.9" cy="2026" r="3.5"/>
<circle cx="1655.3" cy="2025.4" r="3.5"/>
<circle cx="1670.6" cy="2012.9" r="3.5"/>
<circle cx="1667.3" cy="2015.7" r="3.5"/>
<circle cx="1653.3" cy="2027.1" r="3.5"/>
<circle cx="1657.8" cy="2029.2" r="3.5"/>
<circle cx="1656" cy="2027" r="3.5"/>
<circle cx="1656.7" cy="2026.2" r="3.5"/>
<circle cx="1650.7" cy="2031.5" r="3.5"/>
<circle cx="1687.3" cy="2000.4" r="3.5"/>
<circle cx="1686.4" cy="2006" r="3.5"/>
<circle cx="1686.7" cy="1998.6" r="3.5"/>
<circle cx="1699.1" cy="1997.1" r="3.5"/>
<circle cx="1698.9" cy="1992.8" r="3.5"/>
<circle cx="1698.7" cy="1989.4" r="3.5"/>
<circle cx="1726.8" cy="1968.1" r="3.5"/>
<circle cx="1723.8" cy="1974.6" r="3.5"/>
<circle cx="1719.2" cy="1973.9" r="3.5"/>
<circle cx="1708.5" cy="1982.7" r="3.5"/>
<circle cx="1709.1" cy="1981.3" r="3.5"/>
<circle cx="1708.4" cy="1984" r="3.5"/>
<circle cx="1713.3" cy="1980.2" r="3.5"/>
<circle cx="1706.9" cy="1984.4" r="3.5"/>
<circle cx="1712.2" cy="1980.4" r="3.5"/>
<circle cx="1710.5" cy="1985.2" r="3.5"/>
<circle cx="1710.2" cy="1982.5" r="3.5"/>
<circle cx="1721.5" cy="1977.3" r="3.5"/>
<circle cx="1748.2" cy="1950.6" r="3.5"/>
<circle cx="1748.6" cy="1954.7" r="3.5"/>
<circle cx="1745.5" cy="1952.3" r="3.5"/>
<circle cx="1750.3" cy="1949.8" r="3.5"/>
<circle cx="1756.8" cy="1941.4" r="3.5"/>
<circle cx="1744.2" cy="1959.1" r="3.5"/>
<circle cx="1737.9" cy="1962.7" r="3.5"/>
<circle cx="1748.8" cy="1948.8" r="3.5"/>
<circle cx="1746.1" cy="1954.2" r="3.5"/>
<circle cx="1756.7" cy="1944.3" r="3.5"/>
<circle cx="1739" cy="1959.8" r="3.5"/>
<circle cx="1759.1" cy="1936.1" r="3.5"/>
<circle cx="1770.8" cy="1935.1" r="3.5"/>
<circle cx="1777.3" cy="1926.1" r="3.5"/>
<circle cx="1776.1" cy="1926.6" r="3.5"/>
<circle cx="1774.5" cy="1931" r="3.5"/>
<circle cx="1781.5" cy="1923.9" r="3.5"/>
<circle cx="1794.7" cy="1905.8" r="3.5"/>
<circle cx="1791.9" cy="1910.6" r="3.5"/>
<circle cx="1793.6" cy="1915" r="3.5"/>
<circle cx="1818.7" cy="1898.4" r="3.5"/>
<circle cx="1802.1" cy="1909.6" r="3.5"/>
<circle cx="1803.7" cy="1909.4" r="3.5"/>
<circle cx="1818.3" cy="1897.2" r="3.5"/>
<circle cx="1822" cy="1894.3" r="3.5"/>
<circle cx="1814.4" cy="1894.5" r="3.5"/>
<circle cx="1813.2" cy="1902.5" r="3.5"/>
<circle cx="1815.6" cy="1898" r="3.5"/>
<circle cx="1808.6" cy="1902.2" r="3.5"/>
<circle cx="1826.2" cy="1892.5" r="3.5"/>
<circle cx="1828.6" cy="1885.3" r="3.5"/>
<circle cx="1814.9" cy="1898.6" r="3.5"/>
<circle cx="1801.8" cy="1911.1" r="3.5"/>
<circle cx="1812.5" cy="1901.7" r="3.5"/>
<circle cx="1824.1" cy="1889.3" r="3.5"/>
<circle cx="1810.4" cy="1903.9" r="3.5"/>
<circle cx="1832.7" cy="1882.2" r="3.5"/>
<circle cx="1833.5" cy="1883.4" r="3.5"/>
<circle cx="1838.4" cy="1882.9" r="3.5"/>
<circle cx="1837.5" cy="1871.6" r="3.5"/>
<circle cx="1834.4" cy="1883.5" r="3.5"/>
<circle cx="1856.4" cy="1861.1" r="3.5"/>
<circle cx="1857.8" cy="1866.6" r="3.5"/>
<circle cx="1859.9" cy="1862.8" r="3.5"/>
<circle cx="1858.5" cy="1858.5" r="3.5"/>
<circle cx="1854.4" cy="1864.9" r="3.5"/>
<circle cx="1884.8" cy="1839.3" r="3.5"/>
<circle cx="1887.2" cy="1837.2" r="3.5"/>
<circle cx="1886" cy="1840.4" r="3.5"/>
<circle cx="1883.6" cy="1840.6" r="3.5"/>
<circle cx="1880.3" cy="1841.4" r="3.5"/>
<circle cx="1878.8" cy="1845.4" r="3.5"/>
<circle cx="1885.7" cy="1840.4" r="3.5"/>
<circle cx="1881.1" cy="1846.5" r="3.5"/>
<circle cx="1883.1" cy="1843.5" r="3.5"/>
<circle cx="1873" cy="1848.2" r="3.5"/>
<circle cx="1896.5" cy="1831.9" r="3.5"/>
<circle cx="1899.8" cy="1825.5" r="3.5"/>
<circle cx="1905.5" cy="1822.9" r="3.5"/>
<circle cx="1905.3" cy="1825.3" r="3.5"/>
<circle cx="1898.4" cy="1830.6" r="3.5"/>
<circle cx="1898.3" cy="1823" r="3.5"/>
<circle cx="1912.2" cy="1826.3" r="3.5"/>
<circle cx="1896.1" cy="1833.8" r="3.5"/>
<circle cx="1911.8" cy="1819" r="3.5"/>
<circle cx="1908.9" cy="1821.9" r="3.5"/>
<circle cx="1905.3" cy="1822.9" r="3.5"/>
<circle cx="1913.1" cy="1820.9" r="3.5"/>
<circle cx="1907.3" cy="1825" r="3.5"/>
<circle cx="1894.9" cy="1830.4" r="3.5"/>
<circle cx="1924.4" cy="1812.7" r="3.5"/>
<circle cx="1923.4" cy="1811" r="3.5"/>
<circle cx="1744.2" cy="1941.8" r="3.5"/>
<circle cx="1751.1" cy="1936.9" r="3.5"/>
<circle cx="1756.4" cy="1938.5" r="3.5"/>
<circle cx="1791" cy="1927" r="3.5"/>
<circle cx="1636.3" cy="2039.5" r="3.5"/>
<circle cx="1644.5" cy="2040.2" r="3.5"/>
<circle cx="1658.7" cy="2035.2" r="3.5"/>
<circle cx="1660.7" cy="2031.2" r="3.5"/>
<circle cx="1850" cy="1859.8" r="3.5"/>
<circle cx="1856.1" cy="1859.1" r="3.5"/>
<circle cx="1858.2" cy="1865.7" r="3.5"/>
<circle cx="1868.4" cy="1845.9" r="3.5"/>
<circle cx="1876.5" cy="1840.9" r="3.5"/>
<circle cx="1884.6" cy="1848.5" r="3.5"/>
<circle cx="1909.1" cy="1829.3" r="3.5"/>
<circle cx="1782.9" cy="1933.6" r="3.5"/>
<circle cx="1740.1" cy="1965" r="3.5"/>
<circle cx="1709.6" cy="1976.6" r="3.5"/>
<circle cx="1720.6" cy="1968.3" r="3.5"/>
</g></g>
<text x="1595.6" y="2103.8" font-size="21.3" font-weight="bold" text-anchor="middle">0</text>
<text x="1584.2" y="2083" font-size="21.3" font-weight="bold" text-anchor="end">0</text>
<text x="1677" y="2103.8" font-size="21.3" font-weight="bold" text-anchor="middle">20</text>
<text x="1584.2" y="2016.8" font-size="21.3" font-weight="bold" text-anchor="end">20</text>
<text x="1758.4" y="2103.8" font-size="21.3" font-weight="bold" text-anchor="middle">40</text>
<text x="1584.2" y="1950.6" font-size="21.3" font-weight="bold" text-anchor="end">40</text>
<text x="1839.9" y="2103.8" font-size="21.3" font-weight="bold" text-anchor="middle">60</text>
<text x="1584.2" y="1884.4" font-size="21.3" font-weight="bold" text-anchor="end">60</text>
<text x="1921.3" y="2103.8" font-size="21.3" font-weight="bold" text-anchor="middle">80</text>
<text x="1584.2" y="1818.2" font-size="21.3" font-weight="bold" text-anchor="end">80</text>
<text x="2002.7" y="2103.8" font-size="21.3" font-weight="bold" text-anchor="middle">100</text>
<text x="1584.2" y="1752" font-size="21.3" font-weight="bold" text-anchor="end">100</text>
<circle cx="1630.4" cy="1769.2" r="3.6" fill="#00008b" fill-opacity="0.5"/>
<text x="1669.5" y="1778.4" font-size="28.2" font-weight="bold" text-anchor="start">RF-Acetophenone</text>
<text x="1950.3" y="1824.8" font-size="27" font-weight="normal" text-anchor="start">y=x</text>
<text x="1998.7" y="2060" font-size="37.4" font-weight="bold" text-anchor="end">R<tspan font-size="26" dy="-16.8">2</tspan><tspan dy="16.8">=0.99</tspan></text>
<clipPath id="c201"><rect x="1122" y="2129.3" width="413.1" height="332.8"/></clipPath>
<rect x="1123" y="2130.3" width="411.1" height="330.8" fill="none" stroke="#484848" stroke-width="1.8"/>
<path d="M1123 2461.1v6.5M1123 2461.1h-6.5M1163.7 2461.1v3.3M1123 2428h-3.3M1204.4 2461.1v6.5M1123 2394.9h-6.5M1245 2461.1v3.3M1123 2361.9h-3.3M1285.7 2461.1v6.5M1123 2328.8h-6.5M1326.4 2461.1v3.3M1123 2295.7h-3.3M1367.1 2461.1v6.5M1123 2262.6h-6.5M1407.8 2461.1v3.3M1123 2229.5h-3.3M1448.4 2461.1v6.5M1123 2196.5h-6.5M1489.1 2461.1v3.3M1123 2163.4h-3.3M1529.8 2461.1v6.5M1123 2130.3h-6.5" stroke="#484848" stroke-width="1.8" fill="none"/>
<g clip-path="url(#c201)">
<line x1="1123" y1="2461.1" x2="1537.9" y2="2123.7" stroke="#959595" stroke-width="1.1"/>
<g fill="#74084f" fill-opacity="0.5">
<circle cx="1126.3" cy="2459.8" r="3.5"/>
<circle cx="1126.6" cy="2460.2" r="3.5"/>
<circle cx="1127.6" cy="2458.3" r="3.5"/>
<circle cx="1124.6" cy="2458.9" r="3.5"/>
<circle cx="1126.7" cy="2459.8" r="3.5"/>
<circle cx="1128.1" cy="2458.2" r="3.5"/>
<circle cx="1128.2" cy="2457.8" r="3.5"/>
<circle cx="1124.1" cy="2459.9" r="3.5"/>
<circle cx="1126.7" cy="2457.8" r="3.5"/>
<circle cx="1126.5" cy="2458.8" r="3.5"/>
<circle cx="1125.8" cy="2461.1" r="3.5"/>
<circle cx="1128.5" cy="2454.8" r="3.5"/>
<circle cx="1142.6" cy="2443.5" r="3.5"/>
<circle cx="1141.8" cy="2446.8" r="3.5"/>
<circle cx="1146.8" cy="2441" r="3.5"/>
<circle cx="1143.7" cy="2444.5" r="3.5"/>
<circle cx="1140.3" cy="2447.9" r="3.5"/>
<circle cx="1140.4" cy="2444.8" r="3.5"/>
<circle cx="1142.3" cy="2444.5" r="3.5"/>
<circle cx="1163.4" cy="2428" r="3.5"/>
<circle cx="1168.8" cy="2425.8" r="3.5"/>
<circle cx="1194.4" cy="2402" r="3.5"/>
<circle cx="1187.4" cy="2406.1" r="3.5"/>
<circle cx="1196.9" cy="2400.5" r="3.5"/>
<circle cx="1198.7" cy="2400.4" r="3.5"/>
<circle cx="1190.4" cy="2407.7" r="3.5"/>
<circle cx="1193.2" cy="2404.4" r="3.5"/>
<circle cx="1180.5" cy="2415" r="3.5"/>
<circle cx="1179.2" cy="2418.4" r="3.5"/>
<circle cx="1199.8" cy="2398.8" r="3.5"/>
<circle cx="1184.3" cy="2410.5" r="3.5"/>
<circle cx="1182.7" cy="2414.1" r="3.5"/>
<circle cx="1198" cy="2401.6" r="3.5"/>
<circle cx="1194.7" cy="2402.1" r="3.5"/>
<circle cx="1180.7" cy="2415.2" r="3.5"/>
<circle cx="1185.1" cy="2410.9" r="3.5"/>
<circle cx="1183.3" cy="2412.3" r="3.5"/>
<circle cx="1184" cy="2410" r="3.5"/>
<circle cx="1178.1" cy="2417.4" r="3.5"/>
<circle cx="1214.6" cy="2386.3" r="3.5"/>
<circle cx="1213.7" cy="2385.5" r="3.5"/>
<circle cx="1214.1" cy="2387.5" r="3.5"/>
<circle cx="1226.4" cy="2375.6" r="3.5"/>
<circle cx="1226.2" cy="2377.9" r="3.5"/>
<circle cx="1226" cy="2377.2" r="3.5"/>
<circle cx="1254.2" cy="2354.5" r="3.5"/>
<circle cx="1251.1" cy="2357.6" r="3.5"/>
<circle cx="1246.5" cy="2359.6" r="3.5"/>
<circle cx="1235.8" cy="2372.8" r="3.5"/>
<circle cx="1236.5" cy="2372" r="3.5"/>
<circle cx="1235.8" cy="2368" r="3.5"/>
<circle cx="1240.6" cy="2365.3" r="3.5"/>
<circle cx="1234.3" cy="2371.4" r="3.5"/>
<circle cx="1239.5" cy="2367.2" r="3.5"/>
<circle cx="1237.8" cy="2368.7" r="3.5"/>
<circle cx="1237.6" cy="2368.9" r="3.5"/>
<circle cx="1248.8" cy="2358.1" r="3.5"/>
<circle cx="1275.5" cy="2336" r="3.5"/>
<circle cx="1275.9" cy="2334.9" r="3.5"/>
<circle cx="1272.8" cy="2340" r="3.5"/>
<circle cx="1277.6" cy="2335.1" r="3.5"/>
<circle cx="1284.1" cy="2328.8" r="3.5"/>
<circle cx="1271.5" cy="2340.7" r="3.5"/>
<circle cx="1265.2" cy="2346.3" r="3.5"/>
<circle cx="1276.1" cy="2336.5" r="3.5"/>
<circle cx="1273.4" cy="2337.1" r="3.5"/>
<circle cx="1284" cy="2332.8" r="3.5"/>
<circle cx="1266.3" cy="2347.2" r="3.5"/>
<circle cx="1286.4" cy="2330.1" r="3.5"/>
<circle cx="1298.1" cy="2317.6" r="3.5"/>
<circle cx="1304.6" cy="2314.8" r="3.5"/>
<circle cx="1303.3" cy="2315.2" r="3.5"/>
<circle cx="1301.8" cy="2316" r="3.5"/>
<circle cx="1308.8" cy="2310.2" r="3.5"/>
<circle cx="1322" cy="2298.2" r="3.5"/>
<circle cx="1319.1" cy="2305" r="3.5"/>
<circle cx="1320.9" cy="2299.8" r="3.5"/>
<circle cx="1345.9" cy="2281.4" r="3.5"/>
<circle cx="1329.4" cy="2294.7" r="3.5"/>
<circle cx="1330.9" cy="2288.5" r="3.5"/>
<circle cx="1345.6" cy="2280.7" r="3.5"/>
<circle cx="1349.2" cy="2277.7" r="3.5"/>
<circle cx="1341.6" cy="2284.3" r="3.5"/>
<circle cx="1340.4" cy="2283.5" r="3.5"/>
<circle cx="1342.9" cy="2282.7" r="3.5"/>
<circle cx="1335.8" cy="2288.9" r="3.5"/>
<circle cx="1353.4" cy="2274.7" r="3.5"/>
<circle cx="1355.8" cy="2274.4" r="3.5"/>
<circle cx="1342.1" cy="2283.2" r="3.5"/>
<circle cx="1329" cy="2293.3" r="3.5"/>
<circle cx="1339.7" cy="2283.8" r="3.5"/>
<circle cx="1351.3" cy="2273.2" r="3.5"/>
<circle cx="1337.7" cy="2288.4" r="3.5"/>
<circle cx="1359.9" cy="2264.9" r="3.5"/>
<circle cx="1360.7" cy="2268" r="3.5"/>
<circle cx="1365.6" cy="2262.7" r="3.5"/>
<circle cx="1364.8" cy="2262.8" r="3.5"/>
<circle cx="1361.6" cy="2268" r="3.5"/>
<circle cx="1383.6" cy="2251.4" r="3.5"/>
<circle cx="1385" cy="2247.6" r="3.5"/>
<circle cx="1387.1" cy="2249.5" r="3.5"/>
<circle cx="1385.7" cy="2246.7" r="3.5"/>
<circle cx="1381.6" cy="2253.5" r="3.5"/>
<circle cx="1412" cy="2226.7" r="3.5"/>
<circle cx="1414.4" cy="2226.5" r="3.5"/>
<circle cx="1413.2" cy="2228.9" r="3.5"/>
<circle cx="1410.8" cy="2228.6" r="3.5"/>
<circle cx="1407.5" cy="2227.6" r="3.5"/>
<circle cx="1406" cy="2231.9" r="3.5"/>
<circle cx="1412.8" cy="2224.3" r="3.5"/>
<circle cx="1408.3" cy="2230.3" r="3.5"/>
<circle cx="1410.2" cy="2227.9" r="3.5"/>
<circle cx="1400.2" cy="2236.6" r="3.5"/>
<circle cx="1423.7" cy="2212.8" r="3.5"/>
<circle cx="1427" cy="2211.5" r="3.5"/>
<circle cx="1432.7" cy="2211.8" r="3.5"/>
<circle cx="1432.5" cy="2211.4" r="3.5"/>
<circle cx="1425.6" cy="2217.5" r="3.5"/>
<circle cx="1425.5" cy="2217.1" r="3.5"/>
<circle cx="1439.4" cy="2202.6" r="3.5"/>
<circle cx="1423.3" cy="2218.1" r="3.5"/>
<circle cx="1439" cy="2203" r="3.5"/>
<circle cx="1436.1" cy="2205.9" r="3.5"/>
<circle cx="1432.5" cy="2208.4" r="3.5"/>
<circle cx="1440.2" cy="2203.7" r="3.5"/>
<circle cx="1434.4" cy="2207.9" r="3.5"/>
<circle cx="1422.1" cy="2217.2" r="3.5"/>
<circle cx="1451.6" cy="2195.3" r="3.5"/>
<circle cx="1450.5" cy="2192.6" r="3.5"/>
<circle cx="1405.7" cy="2219.6" r="3.5"/>
<circle cx="1377.2" cy="2246.1" r="3.5"/>
<circle cx="1348.8" cy="2285.8" r="3.5"/>
<circle cx="1338.6" cy="2278.2" r="3.5"/>
<circle cx="1303.2" cy="2323.2" r="3.5"/>
<circle cx="1236.9" cy="2360.9" r="3.5"/>
<circle cx="1213.3" cy="2382.4" r="3.5"/>
<circle cx="1232.8" cy="2378.4" r="3.5"/>
<circle cx="1137.2" cy="2446.2" r="3.5"/>
<circle cx="1428.1" cy="2206.4" r="3.5"/>
</g></g>
<text x="1123" y="2489" font-size="21.3" font-weight="bold" text-anchor="middle">0</text>
<text x="1111.6" y="2468.2" font-size="21.3" font-weight="bold" text-anchor="end">0</text>
<text x="1204.4" y="2489" font-size="21.3" font-weight="bold" text-anchor="middle">20</text>
<text x="1111.6" y="2402" font-size="21.3" font-weight="bold" text-anchor="end">20</text>
<text x="1285.7" y="2489" font-size="21.3" font-weight="bold" text-anchor="middle">40</text>
<text x="1111.6" y="2335.9" font-size="21.3" font-weight="bold" text-anchor="end">40</text>
<text x="1367.1" y="2489" font-size="21.3" font-weight="bold" text-anchor="middle">60</text>
<text x="1111.6" y="2269.7" font-size="21.3" font-weight="bold" text-anchor="end">60</text>
<text x="1448.4" y="2489" font-size="21.3" font-weight="bold" text-anchor="middle">80</text>
<text x="1111.6" y="2203.6" font-size="21.3" font-weight="bold" text-anchor="end">80</text>
<text x="1529.8" y="2489" font-size="21.3" font-weight="bold" text-anchor="middle">100</text>
<text x="1111.6" y="2137.4" font-size="21.3" font-weight="bold" text-anchor="end">100</text>
<circle cx="1156.6" cy="2154.9" r="3.6" fill="#74084f" fill-opacity="0.5"/>
<text x="1195" y="2165.4" font-size="28.2" font-weight="bold" text-anchor="start">XGBoost-Acetophenone</text>
<text x="1477" y="2210.6" font-size="27" font-weight="normal" text-anchor="start">y=x</text>
<text x="1523.4" y="2443.8" font-size="37.4" font-weight="bold" text-anchor="end">R<tspan font-size="26" dy="-16.8">2</tspan><tspan dy="16.8">=0.99</tspan></text>
<clipPath id="c211"><rect x="1594.6" y="2129.3" width="413" height="332.8"/></clipPath>
<rect x="1595.6" y="2130.3" width="411" height="330.8" fill="none" stroke="#484848" stroke-width="1.8"/>
<path d="M1595.6 2461.1v6.5M1595.6 2461.1h-6.5M1636.3 2461.1v3.3M1595.6 2428h-3.3M1677 2461.1v6.5M1595.6 2394.9h-6.5M1717.7 2461.1v3.3M1595.6 2361.9h-3.3M1758.4 2461.1v6.5M1595.6 2328.8h-6.5M1799.2 2461.1v3.3M1595.6 2295.7h-3.3M1839.9 2461.1v6.5M1595.6 2262.6h-6.5M1880.6 2461.1v3.3M1595.6 2229.5h-3.3M1921.3 2461.1v6.5M1595.6 2196.5h-6.5M1962 2461.1v3.3M1595.6 2163.4h-3.3M2002.7 2461.1v6.5M1595.6 2130.3h-6.5" stroke="#484848" stroke-width="1.8" fill="none"/>
<g clip-path="url(#c211)">
<line x1="1595.6" y1="2461.1" x2="2010.8" y2="2123.7" stroke="#959595" stroke-width="1.1"/>
<g fill="#e6500a" fill-opacity="0.5">
<circle cx="1598.9" cy="2458.7" r="3.5"/>
<circle cx="1599.2" cy="2458.7" r="3.5"/>
<circle cx="1600.2" cy="2457.3" r="3.5"/>
<circle cx="1597.2" cy="2459.6" r="3.5"/>
<circle cx="1599.3" cy="2457.8" r="3.5"/>
<circle cx="1600.7" cy="2456.6" r="3.5"/>
<circle cx="1600.8" cy="2457.6" r="3.5"/>
<circle cx="1596.7" cy="2459.9" r="3.5"/>
<circle cx="1599.3" cy="2458.1" r="3.5"/>
<circle cx="1599.1" cy="2458" r="3.5"/>
<circle cx="1598.4" cy="2458.5" r="3.5"/>
<circle cx="1601.1" cy="2457.3" r="3.5"/>
<circle cx="1615.2" cy="2445.1" r="3.5"/>
<circle cx="1614.4" cy="2446.1" r="3.5"/>
<circle cx="1619.5" cy="2441.7" r="3.5"/>
<circle cx="1616.3" cy="2444.8" r="3.5"/>
<circle cx="1612.9" cy="2447.3" r="3.5"/>
<circle cx="1613" cy="2446.8" r="3.5"/>
<circle cx="1614.9" cy="2445.1" r="3.5"/>
<circle cx="1636" cy="2429.4" r="3.5"/>
<circle cx="1641.4" cy="2423.9" r="3.5"/>
<circle cx="1667" cy="2403.3" r="3.5"/>
<circle cx="1660.1" cy="2408.6" r="3.5"/>
<circle cx="1669.5" cy="2400.8" r="3.5"/>
<circle cx="1671.3" cy="2400.1" r="3.5"/>
<circle cx="1663" cy="2406.2" r="3.5"/>
<circle cx="1665.8" cy="2404.3" r="3.5"/>
<circle cx="1653.2" cy="2414.3" r="3.5"/>
<circle cx="1651.8" cy="2415.5" r="3.5"/>
<circle cx="1672.5" cy="2398.5" r="3.5"/>
<circle cx="1656.9" cy="2411.7" r="3.5"/>
<circle cx="1655.3" cy="2412.1" r="3.5"/>
<circle cx="1670.6" cy="2399.7" r="3.5"/>
<circle cx="1667.3" cy="2402.3" r="3.5"/>
<circle cx="1653.3" cy="2414" r="3.5"/>
<circle cx="1657.8" cy="2410.3" r="3.5"/>
<circle cx="1656" cy="2411.9" r="3.5"/>
<circle cx="1656.7" cy="2411.7" r="3.5"/>
<circle cx="1650.7" cy="2416.4" r="3.5"/>
<circle cx="1687.3" cy="2386.8" r="3.5"/>
<circle cx="1686.4" cy="2387.4" r="3.5"/>
<circle cx="1686.7" cy="2387.3" r="3.5"/>
<circle cx="1699.1" cy="2377.3" r="3.5"/>
<circle cx="1698.9" cy="2377.3" r="3.5"/>
<circle cx="1698.7" cy="2377.4" r="3.5"/>
<circle cx="1726.8" cy="2354.2" r="3.5"/>
<circle cx="1723.8" cy="2356.9" r="3.5"/>
<circle cx="1719.2" cy="2360.5" r="3.5"/>
<circle cx="1708.5" cy="2369.4" r="3.5"/>
<circle cx="1709.1" cy="2368.9" r="3.5"/>
<circle cx="1708.4" cy="2369.4" r="3.5"/>
<circle cx="1713.3" cy="2365.5" r="3.5"/>
<circle cx="1706.9" cy="2370.7" r="3.5"/>
<circle cx="1712.2" cy="2366" r="3.5"/>
<circle cx="1710.5" cy="2368.1" r="3.5"/>
<circle cx="1710.2" cy="2367.9" r="3.5"/>
<circle cx="1721.5" cy="2359" r="3.5"/>
<circle cx="1748.2" cy="2336.7" r="3.5"/>
<circle cx="1748.6" cy="2337.4" r="3.5"/>
<circle cx="1745.5" cy="2339.2" r="3.5"/>
<circle cx="1750.3" cy="2336.3" r="3.5"/>
<circle cx="1756.8" cy="2330.1" r="3.5"/>
<circle cx="1744.2" cy="2340.7" r="3.5"/>
<circle cx="1737.9" cy="2346.2" r="3.5"/>
<circle cx="1748.8" cy="2336.8" r="3.5"/>
<circle cx="1746.1" cy="2338.6" r="3.5"/>
<circle cx="1756.7" cy="2330.3" r="3.5"/>
<circle cx="1739" cy="2344.5" r="3.5"/>
<circle cx="1759.1" cy="2328.2" r="3.5"/>
<circle cx="1770.8" cy="2319.3" r="3.5"/>
<circle cx="1777.3" cy="2313.3" r="3.5"/>
<circle cx="1776.1" cy="2314" r="3.5"/>
<circle cx="1774.5" cy="2315.8" r="3.5"/>
<circle cx="1781.5" cy="2309.6" r="3.5"/>
<circle cx="1794.7" cy="2298.7" r="3.5"/>
<circle cx="1791.9" cy="2301.1" r="3.5"/>
<circle cx="1793.6" cy="2300.3" r="3.5"/>
<circle cx="1818.7" cy="2279.8" r="3.5"/>
<circle cx="1802.1" cy="2294" r="3.5"/>
<circle cx="1803.7" cy="2291.7" r="3.5"/>
<circle cx="1818.3" cy="2280.3" r="3.5"/>
<circle cx="1822" cy="2277.2" r="3.5"/>
<circle cx="1814.4" cy="2282.9" r="3.5"/>
<circle cx="1813.2" cy="2284.6" r="3.5"/>
<circle cx="1815.6" cy="2282.3" r="3.5"/>
<circle cx="1808.6" cy="2287.2" r="3.5"/>
<circle cx="1826.2" cy="2274" r="3.5"/>
<circle cx="1828.6" cy="2271.5" r="3.5"/>
<circle cx="1814.9" cy="2283" r="3.5"/>
<circle cx="1801.8" cy="2294.1" r="3.5"/>
<circle cx="1812.5" cy="2284.5" r="3.5"/>
<circle cx="1824.1" cy="2275.7" r="3.5"/>
<circle cx="1810.4" cy="2286.1" r="3.5"/>
<circle cx="1832.7" cy="2269.1" r="3.5"/>
<circle cx="1833.5" cy="2268.5" r="3.5"/>
<circle cx="1838.4" cy="2264" r="3.5"/>
<circle cx="1837.5" cy="2264.2" r="3.5"/>
<circle cx="1834.4" cy="2267.2" r="3.5"/>
<circle cx="1856.4" cy="2248.6" r="3.5"/>
<circle cx="1857.8" cy="2247.9" r="3.5"/>
<circle cx="1859.9" cy="2245.3" r="3.5"/>
<circle cx="1858.5" cy="2248.7" r="3.5"/>
<circle cx="1854.4" cy="2251.3" r="3.5"/>
<circle cx="1884.8" cy="2226.6" r="3.5"/>
<circle cx="1887.2" cy="2224.1" r="3.5"/>
<circle cx="1886" cy="2225.3" r="3.5"/>
<circle cx="1883.6" cy="2227.4" r="3.5"/>
<circle cx="1880.3" cy="2229.7" r="3.5"/>
<circle cx="1878.8" cy="2230.9" r="3.5"/>
<circle cx="1885.7" cy="2225.4" r="3.5"/>
<circle cx="1881.1" cy="2228.8" r="3.5"/>
<circle cx="1883.1" cy="2227.7" r="3.5"/>
<circle cx="1873" cy="2236.8" r="3.5"/>
<circle cx="1896.5" cy="2215.9" r="3.5"/>
<circle cx="1899.8" cy="2214" r="3.5"/>
<circle cx="1905.5" cy="2208.8" r="3.5"/>
<circle cx="1905.3" cy="2209.3" r="3.5"/>
<circle cx="1898.4" cy="2214.7" r="3.5"/>
<circle cx="1898.3" cy="2215.2" r="3.5"/>
<circle cx="1912.2" cy="2203.9" r="3.5"/>
<circle cx="1896.1" cy="2216.5" r="3.5"/>
<circle cx="1911.8" cy="2203.8" r="3.5"/>
<circle cx="1908.9" cy="2206.9" r="3.5"/>
<circle cx="1905.3" cy="2209.4" r="3.5"/>
<circle cx="1913.1" cy="2203.1" r="3.5"/>
<circle cx="1907.3" cy="2208.4" r="3.5"/>
<circle cx="1894.9" cy="2217.1" r="3.5"/>
<circle cx="1924.4" cy="2193.8" r="3.5"/>
<circle cx="1923.4" cy="2194.7" r="3.5"/>
<circle cx="1744.2" cy="2247.7" r="3.5"/>
<circle cx="1751.1" cy="2319.8" r="3.5"/>
<circle cx="1780.8" cy="2316.5" r="3.5"/>
<circle cx="1802" cy="2316.5" r="3.5"/>
<circle cx="1911.1" cy="2234.5" r="3.5"/>
<circle cx="1721.8" cy="2346.3" r="3.5"/>
<circle cx="1824.8" cy="2267.6" r="3.5"/>
<circle cx="1831.7" cy="2266.9" r="3.5"/>
<circle cx="1839" cy="2267.6" r="3.5"/>
<circle cx="1849.2" cy="2267.6" r="3.5"/>
<circle cx="1837.8" cy="2274.2" r="3.5"/>
<circle cx="1636.3" cy="2428.7" r="3.5"/>
<circle cx="1644.5" cy="2422.1" r="3.5"/>
</g></g>
<text x="1595.6" y="2489" font-size="21.3" font-weight="bold" text-anchor="middle">0</text>
<text x="1584.2" y="2468.2" font-size="21.3" font-weight="bold" text-anchor="end">0</text>
<text x="1677" y="2489" font-size="21.3" font-weight="bold" text-anchor="middle">20</text>
<text x="1584.2" y="2402" font-size="21.3" font-weight="bold" text-anchor="end">20</text>
<text x="1758.4" y="2489" font-size="21.3" font-weight="bold" text-anchor="middle">40</text>
<text x="1584.2" y="2335.9" font-size="21.3" font-weight="bold" text-anchor="end">40</text>
<text x="1839.9" y="2489" font-size="21.3" font-weight="bold" text-anchor="middle">60</text>
<text x="1584.2" y="2269.7" font-size="21.3" font-weight="bold" text-anchor="end">60</text>
<text x="1921.3" y="2489" font-size="21.3" font-weight="bold" text-anchor="middle">80</text>
<text x="1584.2" y="2203.6" font-size="21.3" font-weight="bold" text-anchor="end">80</text>
<text x="2002.7" y="2489" font-size="21.3" font-weight="bold" text-anchor="middle">100</text>
<text x="1584.2" y="2137.4" font-size="21.3" font-weight="bold" text-anchor="end">100</text>
<circle cx="1627.2" cy="2152.5" r="3.6" fill="#e6500a" fill-opacity="0.5"/>
<text x="1666.4" y="2162.9" font-size="28.2" font-weight="bold" text-anchor="start">DT-Acetophenone</text>
<text x="1954.6" y="2207.5" font-size="27" font-weight="normal" text-anchor="start">y=x</text>
<text x="1996.6" y="2443.8" font-size="37.4" font-weight="bold" text-anchor="end">R<tspan font-size="26" dy="-16.8">2</tspan><tspan dy="16.8">=0.98</tspan></text>
<text x="1582.5" y="2540.3" font-size="37.8" font-weight="bold" text-anchor="middle">Actual Value (%)</text>
<text transform="translate(1055.2 2107.3) rotate(-90)" font-size="38" font-weight="bold" text-anchor="middle">Prediction Value (%)</text>
<text x="997.4" y="1791" font-size="51.6" font-weight="bold" text-anchor="start">(f)</text>
<text class="cap" x="40.5" y="2616" font-size="28.6" font-weight="bold" textLength="83.8" lengthAdjust="spacingAndGlyphs">Fig. 2.</text>
<text class="cap" x="141.4" y="2616" font-size="28.6" textLength="2063.6" lengthAdjust="spacing">Prediction performance of lignin depolymerization of all models after adding prior knowledge: comparison of RMSE, MAPE, and MAE for (a) conversion rate,</text>
<text class="cap" x="40.5" y="2656" font-size="28.6" textLength="1774.4" lengthAdjust="spacing">(c) phenol yield, and (e) acetophenone yield; comparison of R<tspan font-size="20" dy="-11">2</tspan><tspan dy="11"> for (b) conversion rate, (d) phenol yield, and (f) acetophenone yield.</tspan></text>
</svg></body></html>
